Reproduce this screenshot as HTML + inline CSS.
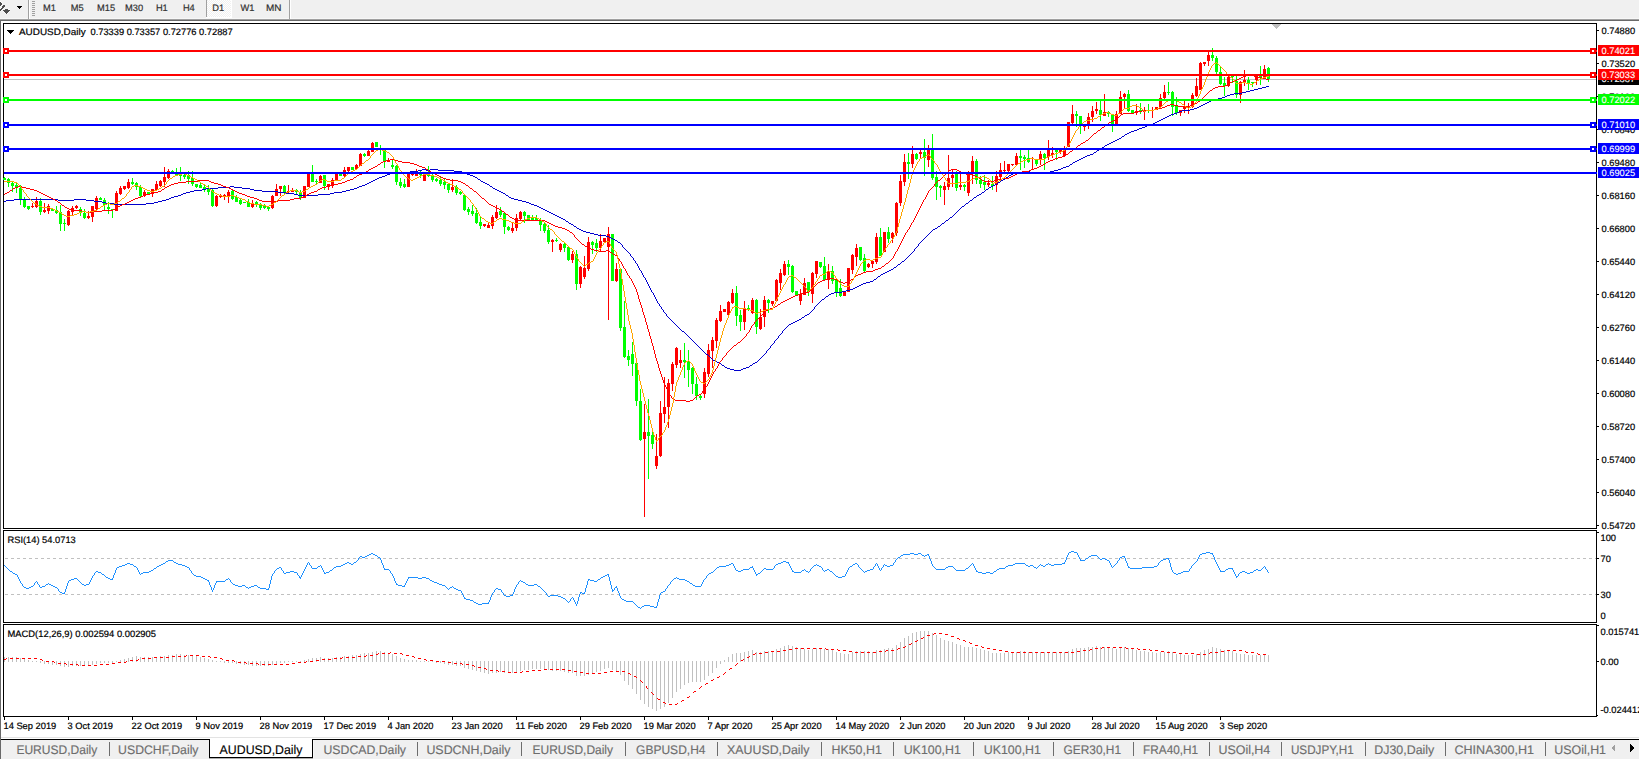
<!DOCTYPE html>
<html><head><meta charset="utf-8"><title>AUDUSD,Daily</title>
<style>html,body{margin:0;padding:0;background:#fff;overflow:hidden;}svg{display:block;}</style>
</head><body>
<svg width="1639" height="759" viewBox="0 0 1639 759" font-family="'Liberation Sans', Arial, sans-serif" shape-rendering="crispEdges" text-rendering="geometricPrecision"><rect x="0" y="0" width="1639" height="759" fill="#ffffff"/>
<rect x="0" y="0" width="1639" height="18" fill="#f0f0f0"/>
<rect x="0" y="18" width="1639" height="1" fill="#f7f7f7"/>
<rect x="0" y="19" width="1639" height="1" fill="#a0a0a0"/>
<rect x="0" y="20" width="1639" height="1" fill="#696969"/>
<rect x="0" y="20" width="1" height="717" fill="#696969"/>
<rect x="3" y="23" width="1594" height="1" fill="#000"/>
<rect x="3" y="528" width="1594" height="1" fill="#000"/>
<rect x="3" y="23" width="1" height="506" fill="#000"/>
<rect x="1596" y="23" width="1" height="506" fill="#000"/>
<rect x="3" y="530" width="1594" height="1" fill="#000"/>
<rect x="3" y="622" width="1594" height="1" fill="#000"/>
<rect x="3" y="530" width="1" height="93" fill="#000"/>
<rect x="1596" y="530" width="1" height="93" fill="#000"/>
<rect x="3" y="624" width="1594" height="1" fill="#000"/>
<rect x="3" y="716" width="1594" height="1" fill="#000"/>
<rect x="3" y="624" width="1" height="93" fill="#000"/>
<rect x="1596" y="624" width="1" height="93" fill="#000"/>
<rect x="1272" y="24" width="9" height="1" fill="#c0c0c0"/>
<rect x="1273" y="25" width="7" height="1" fill="#c0c0c0"/>
<rect x="1274" y="26" width="5" height="1" fill="#c0c0c0"/>
<rect x="1275" y="27" width="3" height="1" fill="#c0c0c0"/>
<rect x="1276" y="28" width="1" height="1" fill="#c0c0c0"/>
<rect x="4" y="79" width="1592" height="1" fill="#c0c0c0"/>
<g shape-rendering="crispEdges">
<rect x="4" y="177" width="1" height="3" fill="#00ff00"/>
<rect x="3" y="178" width="3" height="2" fill="#00ff00"/>
<rect x="8" y="178" width="1" height="9" fill="#00ff00"/>
<rect x="7" y="179" width="3" height="4" fill="#00ff00"/>
<rect x="12" y="182" width="1" height="10" fill="#00ff00"/>
<rect x="11" y="183" width="3" height="3" fill="#00ff00"/>
<rect x="16" y="183" width="1" height="10" fill="#00ff00"/>
<rect x="15" y="185" width="3" height="3" fill="#00ff00"/>
<rect x="20" y="185" width="1" height="20" fill="#00ff00"/>
<rect x="19" y="188" width="3" height="12" fill="#00ff00"/>
<rect x="24" y="197" width="1" height="11" fill="#00ff00"/>
<rect x="23" y="200" width="3" height="7" fill="#00ff00"/>
<rect x="28" y="206" width="1" height="4" fill="#00ff00"/>
<rect x="27" y="206" width="3" height="3" fill="#00ff00"/>
<rect x="32" y="203" width="1" height="5" fill="#ff0000"/>
<rect x="31" y="206" width="3" height="1" fill="#ff0000"/>
<rect x="36" y="197" width="1" height="11" fill="#ff0000"/>
<rect x="35" y="201" width="3" height="6" fill="#ff0000"/>
<rect x="40" y="198" width="1" height="17" fill="#00ff00"/>
<rect x="39" y="201" width="3" height="11" fill="#00ff00"/>
<rect x="44" y="203" width="1" height="10" fill="#ff0000"/>
<rect x="43" y="210" width="3" height="2" fill="#ff0000"/>
<rect x="48" y="204" width="1" height="10" fill="#ff0000"/>
<rect x="47" y="206" width="3" height="5" fill="#ff0000"/>
<rect x="52" y="209" width="1" height="2" fill="#00ff00"/>
<rect x="51" y="209" width="3" height="2" fill="#00ff00"/>
<rect x="56" y="206" width="1" height="8" fill="#00ff00"/>
<rect x="55" y="210" width="3" height="3" fill="#00ff00"/>
<rect x="60" y="205" width="1" height="26" fill="#00ff00"/>
<rect x="59" y="212" width="3" height="12" fill="#00ff00"/>
<rect x="64" y="219" width="1" height="12" fill="#00ff00"/>
<rect x="63" y="223" width="3" height="1" fill="#00ff00"/>
<rect x="68" y="210" width="1" height="16" fill="#ff0000"/>
<rect x="67" y="211" width="3" height="14" fill="#ff0000"/>
<rect x="72" y="206" width="1" height="9" fill="#ff0000"/>
<rect x="71" y="208" width="3" height="4" fill="#ff0000"/>
<rect x="76" y="205" width="1" height="4" fill="#ff0000"/>
<rect x="75" y="206" width="3" height="2" fill="#ff0000"/>
<rect x="80" y="207" width="1" height="9" fill="#00ff00"/>
<rect x="79" y="209" width="3" height="4" fill="#00ff00"/>
<rect x="84" y="209" width="1" height="10" fill="#00ff00"/>
<rect x="83" y="213" width="3" height="5" fill="#00ff00"/>
<rect x="88" y="211" width="1" height="8" fill="#ff0000"/>
<rect x="87" y="216" width="3" height="2" fill="#ff0000"/>
<rect x="92" y="206" width="1" height="16" fill="#ff0000"/>
<rect x="91" y="206" width="3" height="11" fill="#ff0000"/>
<rect x="96" y="196" width="1" height="14" fill="#ff0000"/>
<rect x="95" y="198" width="3" height="11" fill="#ff0000"/>
<rect x="100" y="197" width="1" height="3" fill="#00ff00"/>
<rect x="99" y="198" width="3" height="2" fill="#00ff00"/>
<rect x="104" y="198" width="1" height="13" fill="#00ff00"/>
<rect x="103" y="200" width="3" height="5" fill="#00ff00"/>
<rect x="108" y="202" width="1" height="12" fill="#00ff00"/>
<rect x="107" y="207" width="3" height="2" fill="#00ff00"/>
<rect x="112" y="209" width="1" height="9" fill="#00ff00"/>
<rect x="111" y="209" width="3" height="1" fill="#00ff00"/>
<rect x="116" y="191" width="1" height="20" fill="#ff0000"/>
<rect x="115" y="193" width="3" height="18" fill="#ff0000"/>
<rect x="120" y="186" width="1" height="9" fill="#ff0000"/>
<rect x="119" y="188" width="3" height="6" fill="#ff0000"/>
<rect x="124" y="186" width="1" height="4" fill="#ff0000"/>
<rect x="123" y="186" width="3" height="3" fill="#ff0000"/>
<rect x="128" y="179" width="1" height="10" fill="#ff0000"/>
<rect x="127" y="182" width="3" height="6" fill="#ff0000"/>
<rect x="132" y="178" width="1" height="7" fill="#00ff00"/>
<rect x="131" y="182" width="3" height="2" fill="#00ff00"/>
<rect x="136" y="182" width="1" height="8" fill="#00ff00"/>
<rect x="135" y="183" width="3" height="4" fill="#00ff00"/>
<rect x="140" y="185" width="1" height="12" fill="#00ff00"/>
<rect x="139" y="187" width="3" height="9" fill="#00ff00"/>
<rect x="144" y="190" width="1" height="7" fill="#ff0000"/>
<rect x="143" y="192" width="3" height="3" fill="#ff0000"/>
<rect x="148" y="192" width="1" height="2" fill="#00ff00"/>
<rect x="147" y="192" width="3" height="2" fill="#00ff00"/>
<rect x="152" y="189" width="1" height="8" fill="#ff0000"/>
<rect x="151" y="189" width="3" height="4" fill="#ff0000"/>
<rect x="156" y="181" width="1" height="9" fill="#ff0000"/>
<rect x="155" y="184" width="3" height="6" fill="#ff0000"/>
<rect x="160" y="180" width="1" height="7" fill="#ff0000"/>
<rect x="159" y="181" width="3" height="5" fill="#ff0000"/>
<rect x="164" y="167" width="1" height="20" fill="#ff0000"/>
<rect x="163" y="177" width="3" height="5" fill="#ff0000"/>
<rect x="168" y="169" width="1" height="10" fill="#ff0000"/>
<rect x="167" y="171" width="3" height="7" fill="#ff0000"/>
<rect x="172" y="170" width="1" height="3" fill="#00ff00"/>
<rect x="171" y="171" width="3" height="1" fill="#00ff00"/>
<rect x="176" y="168" width="1" height="7" fill="#00ff00"/>
<rect x="175" y="172" width="3" height="3" fill="#00ff00"/>
<rect x="180" y="167" width="1" height="14" fill="#00ff00"/>
<rect x="179" y="174" width="3" height="2" fill="#00ff00"/>
<rect x="184" y="174" width="1" height="5" fill="#00ff00"/>
<rect x="183" y="175" width="3" height="2" fill="#00ff00"/>
<rect x="188" y="171" width="1" height="13" fill="#00ff00"/>
<rect x="187" y="175" width="3" height="4" fill="#00ff00"/>
<rect x="192" y="171" width="1" height="15" fill="#00ff00"/>
<rect x="191" y="178" width="3" height="6" fill="#00ff00"/>
<rect x="196" y="184" width="1" height="4" fill="#00ff00"/>
<rect x="195" y="184" width="3" height="3" fill="#00ff00"/>
<rect x="200" y="183" width="1" height="5" fill="#00ff00"/>
<rect x="199" y="185" width="3" height="3" fill="#00ff00"/>
<rect x="204" y="184" width="1" height="8" fill="#00ff00"/>
<rect x="203" y="187" width="3" height="2" fill="#00ff00"/>
<rect x="208" y="185" width="1" height="10" fill="#00ff00"/>
<rect x="207" y="189" width="3" height="3" fill="#00ff00"/>
<rect x="212" y="189" width="1" height="18" fill="#00ff00"/>
<rect x="211" y="190" width="3" height="16" fill="#00ff00"/>
<rect x="216" y="195" width="1" height="12" fill="#ff0000"/>
<rect x="215" y="196" width="3" height="10" fill="#ff0000"/>
<rect x="220" y="194" width="1" height="4" fill="#ff0000"/>
<rect x="219" y="195" width="3" height="2" fill="#ff0000"/>
<rect x="224" y="194" width="1" height="6" fill="#ff0000"/>
<rect x="223" y="195" width="3" height="1" fill="#ff0000"/>
<rect x="228" y="190" width="1" height="13" fill="#ff0000"/>
<rect x="227" y="192" width="3" height="4" fill="#ff0000"/>
<rect x="232" y="190" width="1" height="10" fill="#00ff00"/>
<rect x="231" y="191" width="3" height="8" fill="#00ff00"/>
<rect x="236" y="195" width="1" height="7" fill="#00ff00"/>
<rect x="235" y="197" width="3" height="5" fill="#00ff00"/>
<rect x="240" y="199" width="1" height="6" fill="#00ff00"/>
<rect x="239" y="200" width="3" height="4" fill="#00ff00"/>
<rect x="244" y="202" width="1" height="1" fill="#00ff00"/>
<rect x="243" y="202" width="3" height="1" fill="#00ff00"/>
<rect x="248" y="199" width="1" height="8" fill="#00ff00"/>
<rect x="247" y="202" width="3" height="5" fill="#00ff00"/>
<rect x="252" y="200" width="1" height="8" fill="#ff0000"/>
<rect x="251" y="204" width="3" height="3" fill="#ff0000"/>
<rect x="256" y="201" width="1" height="6" fill="#00ff00"/>
<rect x="255" y="202" width="3" height="2" fill="#00ff00"/>
<rect x="260" y="203" width="1" height="7" fill="#00ff00"/>
<rect x="259" y="204" width="3" height="4" fill="#00ff00"/>
<rect x="264" y="204" width="1" height="5" fill="#00ff00"/>
<rect x="263" y="206" width="3" height="2" fill="#00ff00"/>
<rect x="268" y="207" width="1" height="4" fill="#00ff00"/>
<rect x="267" y="207" width="3" height="2" fill="#00ff00"/>
<rect x="272" y="195" width="1" height="14" fill="#ff0000"/>
<rect x="271" y="196" width="3" height="12" fill="#ff0000"/>
<rect x="276" y="184" width="1" height="12" fill="#ff0000"/>
<rect x="275" y="189" width="3" height="7" fill="#ff0000"/>
<rect x="280" y="186" width="1" height="10" fill="#ff0000"/>
<rect x="279" y="186" width="3" height="3" fill="#ff0000"/>
<rect x="284" y="185" width="1" height="9" fill="#00ff00"/>
<rect x="283" y="186" width="3" height="7" fill="#00ff00"/>
<rect x="288" y="185" width="1" height="8" fill="#ff0000"/>
<rect x="287" y="191" width="3" height="1" fill="#ff0000"/>
<rect x="292" y="188" width="1" height="4" fill="#ff0000"/>
<rect x="291" y="190" width="3" height="2" fill="#ff0000"/>
<rect x="296" y="189" width="1" height="5" fill="#00ff00"/>
<rect x="295" y="190" width="3" height="2" fill="#00ff00"/>
<rect x="300" y="190" width="1" height="10" fill="#00ff00"/>
<rect x="299" y="192" width="3" height="6" fill="#00ff00"/>
<rect x="304" y="186" width="1" height="12" fill="#ff0000"/>
<rect x="303" y="186" width="3" height="12" fill="#ff0000"/>
<rect x="308" y="174" width="1" height="13" fill="#ff0000"/>
<rect x="307" y="174" width="3" height="13" fill="#ff0000"/>
<rect x="312" y="165" width="1" height="17" fill="#00ff00"/>
<rect x="311" y="174" width="3" height="8" fill="#00ff00"/>
<rect x="316" y="179" width="1" height="5" fill="#00ff00"/>
<rect x="315" y="181" width="3" height="1" fill="#00ff00"/>
<rect x="320" y="175" width="1" height="8" fill="#ff0000"/>
<rect x="319" y="176" width="3" height="7" fill="#ff0000"/>
<rect x="324" y="175" width="1" height="15" fill="#00ff00"/>
<rect x="323" y="175" width="3" height="11" fill="#00ff00"/>
<rect x="328" y="184" width="1" height="6" fill="#ff0000"/>
<rect x="327" y="184" width="3" height="2" fill="#ff0000"/>
<rect x="332" y="178" width="1" height="10" fill="#ff0000"/>
<rect x="331" y="180" width="3" height="6" fill="#ff0000"/>
<rect x="336" y="174" width="1" height="6" fill="#ff0000"/>
<rect x="335" y="174" width="3" height="6" fill="#ff0000"/>
<rect x="340" y="174" width="1" height="2" fill="#00ff00"/>
<rect x="339" y="174" width="3" height="2" fill="#00ff00"/>
<rect x="344" y="167" width="1" height="10" fill="#ff0000"/>
<rect x="343" y="170" width="3" height="6" fill="#ff0000"/>
<rect x="348" y="167" width="1" height="5" fill="#ff0000"/>
<rect x="347" y="167" width="3" height="4" fill="#ff0000"/>
<rect x="352" y="167" width="1" height="3" fill="#00ff00"/>
<rect x="351" y="167" width="3" height="3" fill="#00ff00"/>
<rect x="356" y="164" width="1" height="5" fill="#ff0000"/>
<rect x="355" y="165" width="3" height="4" fill="#ff0000"/>
<rect x="360" y="153" width="1" height="13" fill="#ff0000"/>
<rect x="359" y="154" width="3" height="12" fill="#ff0000"/>
<rect x="364" y="153" width="1" height="4" fill="#00ff00"/>
<rect x="363" y="154" width="3" height="2" fill="#00ff00"/>
<rect x="368" y="150" width="1" height="6" fill="#ff0000"/>
<rect x="367" y="151" width="3" height="5" fill="#ff0000"/>
<rect x="372" y="142" width="1" height="10" fill="#ff0000"/>
<rect x="371" y="143" width="3" height="9" fill="#ff0000"/>
<rect x="376" y="142" width="1" height="5" fill="#00ff00"/>
<rect x="375" y="142" width="3" height="5" fill="#00ff00"/>
<rect x="380" y="145" width="1" height="10" fill="#00ff00"/>
<rect x="379" y="148" width="3" height="2" fill="#00ff00"/>
<rect x="384" y="150" width="1" height="18" fill="#00ff00"/>
<rect x="383" y="150" width="3" height="11" fill="#00ff00"/>
<rect x="388" y="158" width="1" height="4" fill="#ff0000"/>
<rect x="387" y="160" width="3" height="2" fill="#ff0000"/>
<rect x="392" y="160" width="1" height="9" fill="#00ff00"/>
<rect x="391" y="165" width="3" height="2" fill="#00ff00"/>
<rect x="396" y="165" width="1" height="20" fill="#00ff00"/>
<rect x="395" y="166" width="3" height="16" fill="#00ff00"/>
<rect x="400" y="178" width="1" height="10" fill="#00ff00"/>
<rect x="399" y="182" width="3" height="4" fill="#00ff00"/>
<rect x="404" y="179" width="1" height="9" fill="#00ff00"/>
<rect x="403" y="184" width="3" height="3" fill="#00ff00"/>
<rect x="408" y="172" width="1" height="15" fill="#ff0000"/>
<rect x="407" y="173" width="3" height="14" fill="#ff0000"/>
<rect x="412" y="174" width="1" height="2" fill="#ff0000"/>
<rect x="411" y="174" width="3" height="1" fill="#ff0000"/>
<rect x="416" y="169" width="1" height="7" fill="#ff0000"/>
<rect x="415" y="174" width="3" height="2" fill="#ff0000"/>
<rect x="420" y="171" width="1" height="7" fill="#00ff00"/>
<rect x="419" y="174" width="3" height="1" fill="#00ff00"/>
<rect x="424" y="172" width="1" height="9" fill="#ff0000"/>
<rect x="423" y="173" width="3" height="8" fill="#ff0000"/>
<rect x="428" y="166" width="1" height="11" fill="#00ff00"/>
<rect x="427" y="173" width="3" height="3" fill="#00ff00"/>
<rect x="432" y="172" width="1" height="10" fill="#00ff00"/>
<rect x="431" y="175" width="3" height="5" fill="#00ff00"/>
<rect x="436" y="178" width="1" height="4" fill="#00ff00"/>
<rect x="435" y="179" width="3" height="2" fill="#00ff00"/>
<rect x="440" y="177" width="1" height="9" fill="#00ff00"/>
<rect x="439" y="180" width="3" height="4" fill="#00ff00"/>
<rect x="444" y="179" width="1" height="10" fill="#00ff00"/>
<rect x="443" y="182" width="3" height="3" fill="#00ff00"/>
<rect x="448" y="184" width="1" height="9" fill="#00ff00"/>
<rect x="447" y="184" width="3" height="6" fill="#00ff00"/>
<rect x="452" y="179" width="1" height="13" fill="#ff0000"/>
<rect x="451" y="187" width="3" height="3" fill="#ff0000"/>
<rect x="456" y="185" width="1" height="10" fill="#00ff00"/>
<rect x="455" y="187" width="3" height="6" fill="#00ff00"/>
<rect x="460" y="191" width="1" height="4" fill="#00ff00"/>
<rect x="459" y="192" width="3" height="2" fill="#00ff00"/>
<rect x="464" y="195" width="1" height="16" fill="#00ff00"/>
<rect x="463" y="195" width="3" height="15" fill="#00ff00"/>
<rect x="468" y="207" width="1" height="8" fill="#00ff00"/>
<rect x="467" y="209" width="3" height="3" fill="#00ff00"/>
<rect x="472" y="205" width="1" height="11" fill="#00ff00"/>
<rect x="471" y="211" width="3" height="3" fill="#00ff00"/>
<rect x="476" y="208" width="1" height="16" fill="#00ff00"/>
<rect x="475" y="213" width="3" height="10" fill="#00ff00"/>
<rect x="480" y="217" width="1" height="12" fill="#00ff00"/>
<rect x="479" y="222" width="3" height="4" fill="#00ff00"/>
<rect x="484" y="224" width="1" height="3" fill="#ff0000"/>
<rect x="483" y="224" width="3" height="2" fill="#ff0000"/>
<rect x="488" y="223" width="1" height="5" fill="#ff0000"/>
<rect x="487" y="225" width="3" height="3" fill="#ff0000"/>
<rect x="492" y="215" width="1" height="14" fill="#ff0000"/>
<rect x="491" y="217" width="3" height="9" fill="#ff0000"/>
<rect x="496" y="205" width="1" height="14" fill="#ff0000"/>
<rect x="495" y="212" width="3" height="6" fill="#ff0000"/>
<rect x="500" y="207" width="1" height="10" fill="#00ff00"/>
<rect x="499" y="211" width="3" height="4" fill="#00ff00"/>
<rect x="504" y="213" width="1" height="21" fill="#00ff00"/>
<rect x="503" y="213" width="3" height="14" fill="#00ff00"/>
<rect x="508" y="226" width="1" height="5" fill="#00ff00"/>
<rect x="507" y="227" width="3" height="3" fill="#00ff00"/>
<rect x="512" y="223" width="1" height="10" fill="#ff0000"/>
<rect x="511" y="228" width="3" height="3" fill="#ff0000"/>
<rect x="516" y="214" width="1" height="17" fill="#ff0000"/>
<rect x="515" y="218" width="3" height="10" fill="#ff0000"/>
<rect x="520" y="211" width="1" height="10" fill="#ff0000"/>
<rect x="519" y="212" width="3" height="7" fill="#ff0000"/>
<rect x="524" y="211" width="1" height="12" fill="#00ff00"/>
<rect x="523" y="212" width="3" height="4" fill="#00ff00"/>
<rect x="528" y="215" width="1" height="6" fill="#00ff00"/>
<rect x="527" y="215" width="3" height="5" fill="#00ff00"/>
<rect x="532" y="215" width="1" height="6" fill="#00ff00"/>
<rect x="531" y="218" width="3" height="3" fill="#00ff00"/>
<rect x="536" y="215" width="1" height="5" fill="#00ff00"/>
<rect x="535" y="218" width="3" height="2" fill="#00ff00"/>
<rect x="540" y="218" width="1" height="13" fill="#00ff00"/>
<rect x="539" y="221" width="3" height="4" fill="#00ff00"/>
<rect x="544" y="222" width="1" height="11" fill="#00ff00"/>
<rect x="543" y="224" width="3" height="7" fill="#00ff00"/>
<rect x="548" y="225" width="1" height="19" fill="#00ff00"/>
<rect x="547" y="230" width="3" height="12" fill="#00ff00"/>
<rect x="552" y="239" width="1" height="13" fill="#ff0000"/>
<rect x="551" y="240" width="3" height="2" fill="#ff0000"/>
<rect x="556" y="238" width="1" height="4" fill="#00ff00"/>
<rect x="555" y="240" width="3" height="1" fill="#00ff00"/>
<rect x="560" y="243" width="1" height="9" fill="#ff0000"/>
<rect x="559" y="244" width="3" height="6" fill="#ff0000"/>
<rect x="564" y="243" width="1" height="9" fill="#00ff00"/>
<rect x="563" y="244" width="3" height="4" fill="#00ff00"/>
<rect x="568" y="247" width="1" height="14" fill="#00ff00"/>
<rect x="567" y="247" width="3" height="13" fill="#00ff00"/>
<rect x="572" y="251" width="1" height="12" fill="#ff0000"/>
<rect x="571" y="254" width="3" height="6" fill="#ff0000"/>
<rect x="576" y="250" width="1" height="40" fill="#00ff00"/>
<rect x="575" y="254" width="3" height="30" fill="#00ff00"/>
<rect x="580" y="266" width="1" height="22" fill="#ff0000"/>
<rect x="579" y="267" width="3" height="17" fill="#ff0000"/>
<rect x="584" y="256" width="1" height="23" fill="#ff0000"/>
<rect x="583" y="268" width="3" height="9" fill="#ff0000"/>
<rect x="588" y="237" width="1" height="34" fill="#ff0000"/>
<rect x="587" y="242" width="3" height="27" fill="#ff0000"/>
<rect x="592" y="241" width="1" height="13" fill="#00ff00"/>
<rect x="591" y="242" width="3" height="3" fill="#00ff00"/>
<rect x="596" y="239" width="1" height="13" fill="#00ff00"/>
<rect x="595" y="243" width="3" height="5" fill="#00ff00"/>
<rect x="600" y="234" width="1" height="18" fill="#ff0000"/>
<rect x="599" y="241" width="3" height="7" fill="#ff0000"/>
<rect x="604" y="238" width="1" height="4" fill="#ff0000"/>
<rect x="603" y="238" width="3" height="4" fill="#ff0000"/>
<rect x="608" y="227" width="1" height="93" fill="#ff0000"/>
<rect x="607" y="234" width="3" height="13" fill="#ff0000"/>
<rect x="612" y="234" width="1" height="47" fill="#00ff00"/>
<rect x="611" y="234" width="3" height="47" fill="#00ff00"/>
<rect x="616" y="263" width="1" height="19" fill="#ff0000"/>
<rect x="615" y="269" width="3" height="12" fill="#ff0000"/>
<rect x="620" y="268" width="1" height="63" fill="#00ff00"/>
<rect x="619" y="269" width="3" height="59" fill="#00ff00"/>
<rect x="624" y="301" width="1" height="57" fill="#00ff00"/>
<rect x="623" y="327" width="3" height="30" fill="#00ff00"/>
<rect x="628" y="350" width="1" height="16" fill="#00ff00"/>
<rect x="627" y="356" width="3" height="4" fill="#00ff00"/>
<rect x="632" y="342" width="1" height="34" fill="#00ff00"/>
<rect x="631" y="354" width="3" height="10" fill="#00ff00"/>
<rect x="636" y="363" width="1" height="43" fill="#00ff00"/>
<rect x="635" y="363" width="3" height="38" fill="#00ff00"/>
<rect x="640" y="389" width="1" height="52" fill="#00ff00"/>
<rect x="639" y="401" width="3" height="39" fill="#00ff00"/>
<rect x="644" y="404" width="1" height="113" fill="#ff0000"/>
<rect x="643" y="432" width="3" height="7" fill="#ff0000"/>
<rect x="648" y="399" width="1" height="80" fill="#00ff00"/>
<rect x="647" y="432" width="3" height="4" fill="#00ff00"/>
<rect x="652" y="432" width="1" height="17" fill="#00ff00"/>
<rect x="651" y="435" width="3" height="9" fill="#00ff00"/>
<rect x="656" y="434" width="1" height="35" fill="#ff0000"/>
<rect x="655" y="456" width="3" height="10" fill="#ff0000"/>
<rect x="660" y="401" width="1" height="56" fill="#ff0000"/>
<rect x="659" y="413" width="3" height="43" fill="#ff0000"/>
<rect x="664" y="377" width="1" height="46" fill="#ff0000"/>
<rect x="663" y="407" width="3" height="7" fill="#ff0000"/>
<rect x="668" y="379" width="1" height="49" fill="#ff0000"/>
<rect x="667" y="383" width="3" height="24" fill="#ff0000"/>
<rect x="672" y="362" width="1" height="29" fill="#ff0000"/>
<rect x="671" y="364" width="3" height="20" fill="#ff0000"/>
<rect x="676" y="347" width="1" height="21" fill="#ff0000"/>
<rect x="675" y="348" width="3" height="17" fill="#ff0000"/>
<rect x="680" y="350" width="1" height="18" fill="#ff0000"/>
<rect x="679" y="360" width="3" height="3" fill="#ff0000"/>
<rect x="684" y="343" width="1" height="35" fill="#00ff00"/>
<rect x="683" y="360" width="3" height="2" fill="#00ff00"/>
<rect x="688" y="350" width="1" height="37" fill="#00ff00"/>
<rect x="687" y="362" width="3" height="8" fill="#00ff00"/>
<rect x="692" y="367" width="1" height="27" fill="#00ff00"/>
<rect x="691" y="368" width="3" height="16" fill="#00ff00"/>
<rect x="696" y="377" width="1" height="23" fill="#00ff00"/>
<rect x="695" y="384" width="3" height="12" fill="#00ff00"/>
<rect x="700" y="394" width="1" height="6" fill="#00ff00"/>
<rect x="699" y="396" width="3" height="2" fill="#00ff00"/>
<rect x="704" y="368" width="1" height="30" fill="#ff0000"/>
<rect x="703" y="372" width="3" height="22" fill="#ff0000"/>
<rect x="708" y="344" width="1" height="33" fill="#ff0000"/>
<rect x="707" y="350" width="3" height="24" fill="#ff0000"/>
<rect x="712" y="337" width="1" height="31" fill="#ff0000"/>
<rect x="711" y="340" width="3" height="11" fill="#ff0000"/>
<rect x="716" y="318" width="1" height="30" fill="#ff0000"/>
<rect x="715" y="320" width="3" height="21" fill="#ff0000"/>
<rect x="720" y="305" width="1" height="17" fill="#ff0000"/>
<rect x="719" y="311" width="3" height="10" fill="#ff0000"/>
<rect x="724" y="309" width="1" height="3" fill="#ff0000"/>
<rect x="723" y="309" width="3" height="3" fill="#ff0000"/>
<rect x="728" y="301" width="1" height="14" fill="#ff0000"/>
<rect x="727" y="302" width="3" height="13" fill="#ff0000"/>
<rect x="732" y="289" width="1" height="15" fill="#ff0000"/>
<rect x="731" y="293" width="3" height="10" fill="#ff0000"/>
<rect x="736" y="286" width="1" height="40" fill="#00ff00"/>
<rect x="735" y="293" width="3" height="23" fill="#00ff00"/>
<rect x="740" y="310" width="1" height="21" fill="#00ff00"/>
<rect x="739" y="315" width="3" height="7" fill="#00ff00"/>
<rect x="744" y="301" width="1" height="29" fill="#ff0000"/>
<rect x="743" y="309" width="3" height="13" fill="#ff0000"/>
<rect x="748" y="305" width="1" height="6" fill="#00ff00"/>
<rect x="747" y="308" width="3" height="2" fill="#00ff00"/>
<rect x="752" y="298" width="1" height="16" fill="#ff0000"/>
<rect x="751" y="300" width="3" height="13" fill="#ff0000"/>
<rect x="756" y="299" width="1" height="35" fill="#00ff00"/>
<rect x="755" y="300" width="3" height="27" fill="#00ff00"/>
<rect x="760" y="309" width="1" height="21" fill="#ff0000"/>
<rect x="759" y="317" width="3" height="12" fill="#ff0000"/>
<rect x="764" y="296" width="1" height="31" fill="#ff0000"/>
<rect x="763" y="300" width="3" height="17" fill="#ff0000"/>
<rect x="768" y="299" width="1" height="14" fill="#00ff00"/>
<rect x="767" y="300" width="3" height="3" fill="#00ff00"/>
<rect x="772" y="301" width="1" height="5" fill="#ff0000"/>
<rect x="771" y="301" width="3" height="3" fill="#ff0000"/>
<rect x="776" y="279" width="1" height="22" fill="#ff0000"/>
<rect x="775" y="280" width="3" height="21" fill="#ff0000"/>
<rect x="780" y="269" width="1" height="21" fill="#ff0000"/>
<rect x="779" y="273" width="3" height="10" fill="#ff0000"/>
<rect x="784" y="261" width="1" height="15" fill="#ff0000"/>
<rect x="783" y="264" width="3" height="11" fill="#ff0000"/>
<rect x="788" y="260" width="1" height="15" fill="#00ff00"/>
<rect x="787" y="264" width="3" height="3" fill="#00ff00"/>
<rect x="792" y="265" width="1" height="28" fill="#00ff00"/>
<rect x="791" y="266" width="3" height="26" fill="#00ff00"/>
<rect x="796" y="291" width="1" height="4" fill="#00ff00"/>
<rect x="795" y="291" width="3" height="4" fill="#00ff00"/>
<rect x="800" y="289" width="1" height="16" fill="#ff0000"/>
<rect x="799" y="294" width="3" height="7" fill="#ff0000"/>
<rect x="804" y="278" width="1" height="17" fill="#ff0000"/>
<rect x="803" y="283" width="3" height="12" fill="#ff0000"/>
<rect x="808" y="282" width="1" height="14" fill="#00ff00"/>
<rect x="807" y="282" width="3" height="10" fill="#00ff00"/>
<rect x="812" y="272" width="1" height="31" fill="#ff0000"/>
<rect x="811" y="273" width="3" height="21" fill="#ff0000"/>
<rect x="816" y="261" width="1" height="17" fill="#ff0000"/>
<rect x="815" y="261" width="3" height="13" fill="#ff0000"/>
<rect x="820" y="262" width="1" height="6" fill="#00ff00"/>
<rect x="819" y="262" width="3" height="5" fill="#00ff00"/>
<rect x="824" y="257" width="1" height="24" fill="#00ff00"/>
<rect x="823" y="266" width="3" height="14" fill="#00ff00"/>
<rect x="828" y="264" width="1" height="25" fill="#ff0000"/>
<rect x="827" y="271" width="3" height="9" fill="#ff0000"/>
<rect x="832" y="266" width="1" height="18" fill="#00ff00"/>
<rect x="831" y="271" width="3" height="10" fill="#00ff00"/>
<rect x="836" y="279" width="1" height="18" fill="#00ff00"/>
<rect x="835" y="280" width="3" height="12" fill="#00ff00"/>
<rect x="840" y="279" width="1" height="18" fill="#00ff00"/>
<rect x="839" y="288" width="3" height="8" fill="#00ff00"/>
<rect x="844" y="292" width="1" height="4" fill="#ff0000"/>
<rect x="843" y="292" width="3" height="4" fill="#ff0000"/>
<rect x="848" y="268" width="1" height="24" fill="#ff0000"/>
<rect x="847" y="268" width="3" height="24" fill="#ff0000"/>
<rect x="852" y="254" width="1" height="20" fill="#ff0000"/>
<rect x="851" y="255" width="3" height="15" fill="#ff0000"/>
<rect x="856" y="244" width="1" height="22" fill="#ff0000"/>
<rect x="855" y="248" width="3" height="9" fill="#ff0000"/>
<rect x="860" y="247" width="1" height="14" fill="#00ff00"/>
<rect x="859" y="247" width="3" height="13" fill="#00ff00"/>
<rect x="864" y="254" width="1" height="18" fill="#00ff00"/>
<rect x="863" y="258" width="3" height="13" fill="#00ff00"/>
<rect x="868" y="263" width="1" height="5" fill="#ff0000"/>
<rect x="867" y="264" width="3" height="3" fill="#ff0000"/>
<rect x="872" y="260" width="1" height="8" fill="#ff0000"/>
<rect x="871" y="261" width="3" height="3" fill="#ff0000"/>
<rect x="876" y="233" width="1" height="31" fill="#ff0000"/>
<rect x="875" y="237" width="3" height="25" fill="#ff0000"/>
<rect x="880" y="228" width="1" height="28" fill="#00ff00"/>
<rect x="879" y="237" width="3" height="19" fill="#00ff00"/>
<rect x="884" y="232" width="1" height="20" fill="#ff0000"/>
<rect x="883" y="232" width="3" height="20" fill="#ff0000"/>
<rect x="888" y="227" width="1" height="16" fill="#00ff00"/>
<rect x="887" y="232" width="3" height="7" fill="#00ff00"/>
<rect x="892" y="232" width="1" height="11" fill="#ff0000"/>
<rect x="891" y="233" width="3" height="5" fill="#ff0000"/>
<rect x="896" y="202" width="1" height="34" fill="#ff0000"/>
<rect x="895" y="203" width="3" height="30" fill="#ff0000"/>
<rect x="900" y="175" width="1" height="31" fill="#ff0000"/>
<rect x="899" y="181" width="3" height="22" fill="#ff0000"/>
<rect x="904" y="154" width="1" height="32" fill="#ff0000"/>
<rect x="903" y="162" width="3" height="20" fill="#ff0000"/>
<rect x="908" y="153" width="1" height="26" fill="#00ff00"/>
<rect x="907" y="162" width="3" height="2" fill="#00ff00"/>
<rect x="912" y="146" width="1" height="22" fill="#ff0000"/>
<rect x="911" y="154" width="3" height="10" fill="#ff0000"/>
<rect x="916" y="153" width="1" height="7" fill="#00ff00"/>
<rect x="915" y="154" width="3" height="5" fill="#00ff00"/>
<rect x="920" y="150" width="1" height="8" fill="#ff0000"/>
<rect x="919" y="152" width="3" height="2" fill="#ff0000"/>
<rect x="924" y="139" width="1" height="37" fill="#00ff00"/>
<rect x="923" y="152" width="3" height="6" fill="#00ff00"/>
<rect x="928" y="145" width="1" height="22" fill="#ff0000"/>
<rect x="927" y="150" width="3" height="10" fill="#ff0000"/>
<rect x="932" y="134" width="1" height="46" fill="#00ff00"/>
<rect x="931" y="150" width="3" height="28" fill="#00ff00"/>
<rect x="936" y="171" width="1" height="29" fill="#00ff00"/>
<rect x="935" y="177" width="3" height="10" fill="#00ff00"/>
<rect x="940" y="185" width="1" height="12" fill="#00ff00"/>
<rect x="939" y="186" width="3" height="2" fill="#00ff00"/>
<rect x="944" y="182" width="1" height="23" fill="#ff0000"/>
<rect x="943" y="186" width="3" height="4" fill="#ff0000"/>
<rect x="948" y="155" width="1" height="35" fill="#ff0000"/>
<rect x="947" y="178" width="3" height="9" fill="#ff0000"/>
<rect x="952" y="169" width="1" height="18" fill="#ff0000"/>
<rect x="951" y="175" width="3" height="3" fill="#ff0000"/>
<rect x="956" y="171" width="1" height="20" fill="#00ff00"/>
<rect x="955" y="174" width="3" height="14" fill="#00ff00"/>
<rect x="960" y="171" width="1" height="19" fill="#ff0000"/>
<rect x="959" y="185" width="3" height="2" fill="#ff0000"/>
<rect x="964" y="184" width="1" height="7" fill="#00ff00"/>
<rect x="963" y="185" width="3" height="2" fill="#00ff00"/>
<rect x="968" y="171" width="1" height="25" fill="#ff0000"/>
<rect x="967" y="174" width="3" height="19" fill="#ff0000"/>
<rect x="972" y="156" width="1" height="28" fill="#ff0000"/>
<rect x="971" y="161" width="3" height="13" fill="#ff0000"/>
<rect x="976" y="159" width="1" height="25" fill="#00ff00"/>
<rect x="975" y="161" width="3" height="19" fill="#00ff00"/>
<rect x="980" y="176" width="1" height="12" fill="#00ff00"/>
<rect x="979" y="180" width="3" height="4" fill="#00ff00"/>
<rect x="984" y="175" width="1" height="15" fill="#00ff00"/>
<rect x="983" y="182" width="3" height="3" fill="#00ff00"/>
<rect x="988" y="180" width="1" height="7" fill="#ff0000"/>
<rect x="987" y="183" width="3" height="2" fill="#ff0000"/>
<rect x="992" y="176" width="1" height="14" fill="#00ff00"/>
<rect x="991" y="184" width="3" height="2" fill="#00ff00"/>
<rect x="996" y="171" width="1" height="21" fill="#ff0000"/>
<rect x="995" y="176" width="3" height="9" fill="#ff0000"/>
<rect x="1000" y="163" width="1" height="16" fill="#ff0000"/>
<rect x="999" y="170" width="3" height="7" fill="#ff0000"/>
<rect x="1004" y="161" width="1" height="13" fill="#ff0000"/>
<rect x="1003" y="170" width="3" height="1" fill="#ff0000"/>
<rect x="1008" y="164" width="1" height="8" fill="#ff0000"/>
<rect x="1007" y="164" width="3" height="7" fill="#ff0000"/>
<rect x="1012" y="164" width="1" height="2" fill="#ff0000"/>
<rect x="1011" y="164" width="3" height="1" fill="#ff0000"/>
<rect x="1016" y="153" width="1" height="12" fill="#ff0000"/>
<rect x="1015" y="156" width="3" height="9" fill="#ff0000"/>
<rect x="1020" y="150" width="1" height="20" fill="#00ff00"/>
<rect x="1019" y="156" width="3" height="2" fill="#00ff00"/>
<rect x="1024" y="155" width="1" height="13" fill="#00ff00"/>
<rect x="1023" y="157" width="3" height="2" fill="#00ff00"/>
<rect x="1028" y="150" width="1" height="13" fill="#00ff00"/>
<rect x="1027" y="158" width="3" height="4" fill="#00ff00"/>
<rect x="1032" y="157" width="1" height="12" fill="#ff0000"/>
<rect x="1031" y="158" width="3" height="1" fill="#ff0000"/>
<rect x="1036" y="160" width="1" height="6" fill="#00ff00"/>
<rect x="1035" y="160" width="3" height="4" fill="#00ff00"/>
<rect x="1040" y="151" width="1" height="14" fill="#ff0000"/>
<rect x="1039" y="154" width="3" height="5" fill="#ff0000"/>
<rect x="1044" y="153" width="1" height="17" fill="#00ff00"/>
<rect x="1043" y="154" width="3" height="4" fill="#00ff00"/>
<rect x="1048" y="140" width="1" height="20" fill="#ff0000"/>
<rect x="1047" y="150" width="3" height="7" fill="#ff0000"/>
<rect x="1052" y="147" width="1" height="11" fill="#ff0000"/>
<rect x="1051" y="153" width="3" height="2" fill="#ff0000"/>
<rect x="1056" y="150" width="1" height="10" fill="#00ff00"/>
<rect x="1055" y="150" width="3" height="2" fill="#00ff00"/>
<rect x="1060" y="150" width="1" height="4" fill="#ff0000"/>
<rect x="1059" y="150" width="3" height="2" fill="#ff0000"/>
<rect x="1064" y="146" width="1" height="10" fill="#ff0000"/>
<rect x="1063" y="148" width="3" height="8" fill="#ff0000"/>
<rect x="1068" y="122" width="1" height="25" fill="#ff0000"/>
<rect x="1067" y="122" width="3" height="25" fill="#ff0000"/>
<rect x="1072" y="105" width="1" height="19" fill="#ff0000"/>
<rect x="1071" y="114" width="3" height="9" fill="#ff0000"/>
<rect x="1076" y="111" width="1" height="16" fill="#00ff00"/>
<rect x="1075" y="114" width="3" height="2" fill="#00ff00"/>
<rect x="1080" y="116" width="1" height="18" fill="#00ff00"/>
<rect x="1079" y="116" width="3" height="10" fill="#00ff00"/>
<rect x="1084" y="126" width="1" height="5" fill="#ff0000"/>
<rect x="1083" y="126" width="3" height="1" fill="#ff0000"/>
<rect x="1088" y="113" width="1" height="16" fill="#ff0000"/>
<rect x="1087" y="117" width="3" height="9" fill="#ff0000"/>
<rect x="1092" y="106" width="1" height="16" fill="#ff0000"/>
<rect x="1091" y="111" width="3" height="6" fill="#ff0000"/>
<rect x="1096" y="102" width="1" height="12" fill="#ff0000"/>
<rect x="1095" y="109" width="3" height="2" fill="#ff0000"/>
<rect x="1100" y="101" width="1" height="20" fill="#00ff00"/>
<rect x="1099" y="110" width="3" height="5" fill="#00ff00"/>
<rect x="1104" y="94" width="1" height="22" fill="#ff0000"/>
<rect x="1103" y="112" width="3" height="4" fill="#ff0000"/>
<rect x="1108" y="111" width="1" height="6" fill="#00ff00"/>
<rect x="1107" y="112" width="3" height="2" fill="#00ff00"/>
<rect x="1112" y="114" width="1" height="18" fill="#00ff00"/>
<rect x="1111" y="115" width="3" height="9" fill="#00ff00"/>
<rect x="1116" y="111" width="1" height="13" fill="#ff0000"/>
<rect x="1115" y="114" width="3" height="10" fill="#ff0000"/>
<rect x="1120" y="91" width="1" height="23" fill="#ff0000"/>
<rect x="1119" y="97" width="3" height="17" fill="#ff0000"/>
<rect x="1124" y="93" width="1" height="15" fill="#ff0000"/>
<rect x="1123" y="94" width="3" height="3" fill="#ff0000"/>
<rect x="1128" y="90" width="1" height="22" fill="#00ff00"/>
<rect x="1127" y="94" width="3" height="17" fill="#00ff00"/>
<rect x="1132" y="110" width="1" height="4" fill="#00ff00"/>
<rect x="1131" y="110" width="3" height="3" fill="#00ff00"/>
<rect x="1136" y="104" width="1" height="11" fill="#ff0000"/>
<rect x="1135" y="111" width="3" height="2" fill="#ff0000"/>
<rect x="1140" y="103" width="1" height="11" fill="#00ff00"/>
<rect x="1139" y="110" width="3" height="2" fill="#00ff00"/>
<rect x="1144" y="107" width="1" height="13" fill="#ff0000"/>
<rect x="1143" y="110" width="3" height="2" fill="#ff0000"/>
<rect x="1148" y="104" width="1" height="9" fill="#00ff00"/>
<rect x="1147" y="110" width="3" height="1" fill="#00ff00"/>
<rect x="1152" y="107" width="1" height="11" fill="#ff0000"/>
<rect x="1151" y="110" width="3" height="1" fill="#ff0000"/>
<rect x="1156" y="107" width="1" height="3" fill="#ff0000"/>
<rect x="1155" y="107" width="3" height="3" fill="#ff0000"/>
<rect x="1160" y="94" width="1" height="14" fill="#ff0000"/>
<rect x="1159" y="98" width="3" height="9" fill="#ff0000"/>
<rect x="1164" y="85" width="1" height="14" fill="#ff0000"/>
<rect x="1163" y="92" width="3" height="6" fill="#ff0000"/>
<rect x="1168" y="82" width="1" height="13" fill="#00ff00"/>
<rect x="1167" y="92" width="3" height="1" fill="#00ff00"/>
<rect x="1172" y="91" width="1" height="25" fill="#00ff00"/>
<rect x="1171" y="92" width="3" height="15" fill="#00ff00"/>
<rect x="1176" y="97" width="1" height="18" fill="#00ff00"/>
<rect x="1175" y="105" width="3" height="8" fill="#00ff00"/>
<rect x="1180" y="110" width="1" height="6" fill="#ff0000"/>
<rect x="1179" y="110" width="3" height="3" fill="#ff0000"/>
<rect x="1184" y="101" width="1" height="12" fill="#ff0000"/>
<rect x="1183" y="106" width="3" height="3" fill="#ff0000"/>
<rect x="1188" y="103" width="1" height="11" fill="#ff0000"/>
<rect x="1187" y="106" width="3" height="1" fill="#ff0000"/>
<rect x="1192" y="93" width="1" height="15" fill="#ff0000"/>
<rect x="1191" y="95" width="3" height="12" fill="#ff0000"/>
<rect x="1196" y="78" width="1" height="19" fill="#ff0000"/>
<rect x="1195" y="86" width="3" height="10" fill="#ff0000"/>
<rect x="1200" y="62" width="1" height="28" fill="#ff0000"/>
<rect x="1199" y="63" width="3" height="27" fill="#ff0000"/>
<rect x="1204" y="62" width="1" height="4" fill="#ff0000"/>
<rect x="1203" y="62" width="3" height="2" fill="#ff0000"/>
<rect x="1208" y="52" width="1" height="14" fill="#ff0000"/>
<rect x="1207" y="55" width="3" height="6" fill="#ff0000"/>
<rect x="1212" y="48" width="1" height="13" fill="#00ff00"/>
<rect x="1211" y="55" width="3" height="3" fill="#00ff00"/>
<rect x="1216" y="56" width="1" height="20" fill="#00ff00"/>
<rect x="1215" y="58" width="3" height="14" fill="#00ff00"/>
<rect x="1220" y="67" width="1" height="18" fill="#00ff00"/>
<rect x="1219" y="72" width="3" height="12" fill="#00ff00"/>
<rect x="1224" y="77" width="1" height="19" fill="#00ff00"/>
<rect x="1223" y="83" width="3" height="3" fill="#00ff00"/>
<rect x="1228" y="76" width="1" height="11" fill="#ff0000"/>
<rect x="1227" y="77" width="3" height="9" fill="#ff0000"/>
<rect x="1232" y="76" width="1" height="7" fill="#00ff00"/>
<rect x="1231" y="76" width="3" height="1" fill="#00ff00"/>
<rect x="1236" y="76" width="1" height="22" fill="#00ff00"/>
<rect x="1235" y="81" width="3" height="14" fill="#00ff00"/>
<rect x="1240" y="81" width="1" height="22" fill="#ff0000"/>
<rect x="1239" y="82" width="3" height="13" fill="#ff0000"/>
<rect x="1244" y="70" width="1" height="16" fill="#ff0000"/>
<rect x="1243" y="80" width="3" height="3" fill="#ff0000"/>
<rect x="1248" y="77" width="1" height="13" fill="#00ff00"/>
<rect x="1247" y="80" width="3" height="4" fill="#00ff00"/>
<rect x="1252" y="82" width="1" height="5" fill="#00ff00"/>
<rect x="1251" y="82" width="3" height="1" fill="#00ff00"/>
<rect x="1256" y="75" width="1" height="10" fill="#ff0000"/>
<rect x="1255" y="76" width="3" height="4" fill="#ff0000"/>
<rect x="1260" y="66" width="1" height="19" fill="#00ff00"/>
<rect x="1259" y="76" width="3" height="1" fill="#00ff00"/>
<rect x="1264" y="65" width="1" height="14" fill="#ff0000"/>
<rect x="1263" y="69" width="3" height="8" fill="#ff0000"/>
<rect x="1268" y="67" width="1" height="15" fill="#00ff00"/>
<rect x="1267" y="68" width="3" height="11" fill="#00ff00"/>
</g>
<g clip-path="url(#cmain)">
<path d="M4 201h2v1h-2zM94 201h8v1h-8zM158 201h4v1h-4zM522 201h4v1h-4zM969 201h1v1h-1zM6 200h8v1h-8zM58 200h16v1h-16zM86 200h8v1h-8zM162 200h4v1h-4zM518 200h4v1h-4zM970 200h2v1h-2zM14 199h44v1h-44zM74 199h12v1h-12zM166 199h3v1h-3zM514 199h4v1h-4zM972 199h1v1h-1zM102 202h4v1h-4zM154 202h4v1h-4zM526 202h3v1h-3zM968 202h1v1h-1zM106 203h8v1h-8zM146 203h8v1h-8zM529 203h2v1h-2zM966 203h2v1h-2zM114 204h32v1h-32zM531 204h3v1h-3zM965 204h1v1h-1zM169 198h2v1h-2zM511 198h3v1h-3zM973 198h1v1h-1zM171 197h3v1h-3zM509 197h2v1h-2zM974 197h2v1h-2zM174 196h4v1h-4zM508 196h1v1h-1zM976 196h1v1h-1zM178 195h3v1h-3zM298 195h20v1h-20zM506 195h2v1h-2zM977 195h2v1h-2zM181 194h2v1h-2zM294 194h4v1h-4zM318 194h12v1h-12zM505 194h1v1h-1zM979 194h2v1h-2zM183 193h3v1h-3zM286 193h8v1h-8zM330 193h4v1h-4zM503 193h2v1h-2zM981 193h1v1h-1zM186 192h4v1h-4zM278 192h8v1h-8zM334 192h8v1h-8zM501 192h2v1h-2zM982 192h2v1h-2zM190 191h4v1h-4zM262 191h16v1h-16zM342 191h4v1h-4zM499 191h2v1h-2zM984 191h1v1h-1zM194 190h8v1h-8zM254 190h8v1h-8zM346 190h4v1h-4zM497 190h2v1h-2zM985 190h1v1h-1zM202 189h4v1h-4zM250 189h4v1h-4zM350 189h4v1h-4zM495 189h2v1h-2zM986 189h2v1h-2zM206 188h12v1h-12zM242 188h8v1h-8zM354 188h3v1h-3zM493 188h2v1h-2zM988 188h1v1h-1zM218 187h12v1h-12zM234 187h8v1h-8zM357 187h2v1h-2zM492 187h1v1h-1zM989 187h2v1h-2zM230 186h4v1h-4zM359 186h3v1h-3zM490 186h2v1h-2zM991 186h2v1h-2zM362 185h3v1h-3zM489 185h1v1h-1zM993 185h2v1h-2zM365 184h2v1h-2zM487 184h2v1h-2zM995 184h2v1h-2zM367 183h2v1h-2zM485 183h2v1h-2zM997 183h1v1h-1zM369 182h2v1h-2zM483 182h2v1h-2zM998 182h2v1h-2zM371 181h2v1h-2zM481 181h2v1h-2zM1000 181h1v1h-1zM373 180h2v1h-2zM480 180h1v1h-1zM1001 180h2v1h-2zM375 179h2v1h-2zM478 179h2v1h-2zM1003 179h2v1h-2zM377 178h2v1h-2zM477 178h1v1h-1zM1005 178h1v1h-1zM379 177h3v1h-3zM475 177h2v1h-2zM1006 177h2v1h-2zM382 176h3v1h-3zM473 176h2v1h-2zM1008 176h1v1h-1zM385 175h2v1h-2zM470 175h3v1h-3zM1009 175h2v1h-2zM387 174h3v1h-3zM467 174h3v1h-3zM1011 174h2v1h-2zM390 173h12v1h-12zM465 173h2v1h-2zM1013 173h2v1h-2zM402 172h8v1h-8zM462 172h3v1h-3zM1015 172h11v1h-11zM1030 172h20v1h-20zM410 171h8v1h-8zM454 171h8v1h-8zM1026 171h4v1h-4zM1050 171h4v1h-4zM418 170h4v1h-4zM426 170h4v1h-4zM438 170h16v1h-16zM1054 170h4v1h-4zM422 169h4v1h-4zM430 169h8v1h-8zM1058 169h3v1h-3zM534 205h3v1h-3zM964 205h1v1h-1zM537 206h2v1h-2zM962 206h2v1h-2zM539 207h2v1h-2zM961 207h1v1h-1zM541 208h2v1h-2zM960 208h1v1h-1zM543 209h2v1h-2zM959 209h1v1h-1zM545 210h2v1h-2zM958 210h1v1h-1zM547 211h2v1h-2zM957 211h1v1h-1zM549 212h2v1h-2zM956 212h1v1h-1zM551 213h2v1h-2zM955 213h1v1h-1zM553 214h2v1h-2zM954 214h1v1h-1zM555 215h2v1h-2zM953 215h1v1h-1zM557 216h2v1h-2zM952 216h1v1h-1zM559 217h2v1h-2zM950 217h2v1h-2zM561 218h2v1h-2zM949 218h1v1h-1zM563 219h2v1h-2zM948 219h1v1h-1zM565 220h1v1h-1zM946 220h2v1h-2zM566 221h2v1h-2zM945 221h1v1h-1zM568 222h1v1h-1zM944 222h1v1h-1zM569 223h2v1h-2zM942 223h2v1h-2zM571 224h2v1h-2zM941 224h1v1h-1zM573 225h1v1h-1zM940 225h1v1h-1zM574 226h2v1h-2zM938 226h2v1h-2zM576 227h1v1h-1zM937 227h1v1h-1zM577 228h2v1h-2zM935 228h2v1h-2zM579 229h2v1h-2zM933 229h2v1h-2zM581 230h2v1h-2zM932 230h1v1h-1zM583 231h3v1h-3zM931 231h1v1h-1zM586 232h4v1h-4zM930 232h1v1h-1zM590 233h4v1h-4zM929 233h1v1h-1zM594 234h4v1h-4zM928 234h1v1h-1zM598 235h8v1h-8zM927 235h1v1h-1zM606 236h3v1h-3zM926 236h1v1h-1zM609 237h2v1h-2zM925 237h1v1h-1zM611 238h2v1h-2zM924 238h1v1h-1zM613 239h2v1h-2zM923 239h1v1h-1zM615 240h2v1h-2zM922 240h1v1h-1zM617 241h1v1h-1zM921 241h1v1h-1zM618 242h2v1h-2zM920 242h1v1h-1zM620 243h1v1h-1zM919 243h1v1h-1zM621 244h1v1h-1zM918 244h1v1h-1zM622 245h1v1h-1zM918 245h1v1h-1zM622 246h1v1h-1zM917 246h1v1h-1zM623 247h1v1h-1zM916 247h1v1h-1zM624 248h1v1h-1zM915 248h1v1h-1zM625 249h1v1h-1zM914 249h1v1h-1zM626 250h1v1h-1zM914 250h1v1h-1zM627 251h1v1h-1zM913 251h1v1h-1zM628 252h1v1h-1zM912 252h1v1h-1zM629 253h1v1h-1zM911 253h1v1h-1zM630 254h1v1h-1zM910 254h1v1h-1zM630 255h1v1h-1zM909 255h1v1h-1zM631 256h1v1h-1zM908 256h1v1h-1zM632 257h1v1h-1zM907 257h1v1h-1zM633 258h1v1h-1zM906 258h1v1h-1zM633 259h1v1h-1zM905 259h1v1h-1zM634 260h1v1h-1zM904 260h1v1h-1zM635 261h1v1h-1zM902 261h2v1h-2zM635 262h1v1h-1zM901 262h1v1h-1zM636 263h1v1h-1zM900 263h1v1h-1zM637 264h1v1h-1zM898 264h2v1h-2zM637 265h1v1h-1zM897 265h1v1h-1zM638 266h1v1h-1zM896 266h1v1h-1zM638 267h1v1h-1zM894 267h2v1h-2zM639 268h1v1h-1zM893 268h1v1h-1zM639 269h1v1h-1zM891 269h2v1h-2zM640 270h1v1h-1zM889 270h2v1h-2zM641 271h1v1h-1zM887 271h2v1h-2zM641 272h1v1h-1zM885 272h2v1h-2zM642 273h1v1h-1zM883 273h2v1h-2zM642 274h1v1h-1zM881 274h2v1h-2zM643 275h1v1h-1zM880 275h1v1h-1zM643 276h1v1h-1zM878 276h2v1h-2zM644 277h1v1h-1zM877 277h1v1h-1zM645 278h1v1h-1zM876 278h1v1h-1zM645 279h1v1h-1zM874 279h2v1h-2zM646 280h1v1h-1zM873 280h1v1h-1zM646 281h1v1h-1zM870 281h3v1h-3zM647 282h1v1h-1zM866 282h4v1h-4zM647 283h1v1h-1zM863 283h3v1h-3zM648 284h1v1h-1zM861 284h2v1h-2zM648 285h1v1h-1zM859 285h2v1h-2zM649 286h1v1h-1zM857 286h2v1h-2zM649 287h1v1h-1zM855 287h2v1h-2zM650 288h1v1h-1zM853 288h2v1h-2zM650 289h1v1h-1zM850 289h3v1h-3zM651 290h1v1h-1zM846 290h4v1h-4zM651 291h1v1h-1zM842 291h4v1h-4zM652 292h1v1h-1zM834 292h8v1h-8zM653 293h1v1h-1zM831 293h3v1h-3zM653 294h1v1h-1zM829 294h2v1h-2zM654 295h1v1h-1zM828 295h1v1h-1zM654 296h1v1h-1zM826 296h2v1h-2zM655 297h1v1h-1zM825 297h1v1h-1zM655 298h1v1h-1zM824 298h1v1h-1zM656 299h1v1h-1zM822 299h2v1h-2zM656 300h1v1h-1zM821 300h1v1h-1zM657 301h1v1h-1zM820 301h1v1h-1zM657 302h1v1h-1zM819 302h1v1h-1zM658 303h1v1h-1zM818 303h1v1h-1zM659 304h1v1h-1zM817 304h1v1h-1zM659 305h1v1h-1zM816 305h1v1h-1zM660 306h1v1h-1zM815 306h1v1h-1zM661 307h1v1h-1zM814 307h1v1h-1zM661 308h1v1h-1zM814 308h1v1h-1zM662 309h1v1h-1zM813 309h1v1h-1zM663 310h1v1h-1zM812 310h1v1h-1zM663 311h1v1h-1zM811 311h1v1h-1zM664 312h1v1h-1zM810 312h1v1h-1zM665 313h1v1h-1zM809 313h1v1h-1zM666 314h1v1h-1zM807 314h2v1h-2zM666 315h1v1h-1zM805 315h2v1h-2zM667 316h1v1h-1zM804 316h1v1h-1zM668 317h1v1h-1zM802 317h2v1h-2zM669 318h1v1h-1zM801 318h1v1h-1zM670 319h1v1h-1zM799 319h2v1h-2zM671 320h1v1h-1zM797 320h2v1h-2zM672 321h1v1h-1zM795 321h2v1h-2zM673 322h1v1h-1zM793 322h2v1h-2zM674 323h1v1h-1zM791 323h2v1h-2zM675 324h1v1h-1zM789 324h2v1h-2zM676 325h1v1h-1zM788 325h1v1h-1zM677 326h1v1h-1zM787 326h1v1h-1zM678 327h1v1h-1zM786 327h1v1h-1zM679 328h1v1h-1zM785 328h1v1h-1zM680 329h1v1h-1zM784 329h1v1h-1zM681 330h1v1h-1zM783 330h1v1h-1zM682 331h2v1h-2zM782 331h1v1h-1zM684 332h1v1h-1zM782 332h1v1h-1zM685 333h1v1h-1zM781 333h1v1h-1zM686 334h1v1h-1zM780 334h1v1h-1zM687 335h1v1h-1zM779 335h1v1h-1zM688 336h1v1h-1zM778 336h1v1h-1zM689 337h1v1h-1zM778 337h1v1h-1zM690 338h1v1h-1zM777 338h1v1h-1zM691 339h1v1h-1zM776 339h1v1h-1zM692 340h1v1h-1zM775 340h1v1h-1zM693 341h1v1h-1zM774 341h1v1h-1zM694 342h1v1h-1zM774 342h1v1h-1zM695 343h1v1h-1zM773 343h1v1h-1zM696 344h1v1h-1zM772 344h1v1h-1zM697 345h1v1h-1zM771 345h1v1h-1zM698 346h1v1h-1zM770 346h1v1h-1zM699 347h1v1h-1zM770 347h1v1h-1zM700 348h1v1h-1zM769 348h1v1h-1zM701 349h1v1h-1zM768 349h1v1h-1zM702 350h1v1h-1zM767 350h1v1h-1zM703 351h1v1h-1zM766 351h1v1h-1zM704 352h1v1h-1zM766 352h1v1h-1zM705 353h1v1h-1zM765 353h1v1h-1zM706 354h2v1h-2zM764 354h1v1h-1zM708 355h1v1h-1zM763 355h1v1h-1zM709 356h1v1h-1zM762 356h1v1h-1zM710 357h1v1h-1zM761 357h1v1h-1zM711 358h1v1h-1zM760 358h1v1h-1zM712 359h1v1h-1zM759 359h1v1h-1zM713 360h2v1h-2zM758 360h1v1h-1zM715 361h2v1h-2zM757 361h1v1h-1zM717 362h2v1h-2zM755 362h2v1h-2zM719 363h2v1h-2zM753 363h2v1h-2zM721 364h1v1h-1zM752 364h1v1h-1zM722 365h2v1h-2zM750 365h2v1h-2zM724 366h1v1h-1zM749 366h1v1h-1zM725 367h2v1h-2zM746 367h3v1h-3zM727 368h3v1h-3zM743 368h3v1h-3zM730 369h4v1h-4zM741 369h2v1h-2zM734 370h7v1h-7zM1061 168h2v1h-2zM1063 167h3v1h-3zM1066 166h3v1h-3zM1069 165h1v1h-1zM1070 164h2v1h-2zM1072 163h1v1h-1zM1073 162h2v1h-2zM1075 161h2v1h-2zM1077 160h2v1h-2zM1079 159h2v1h-2zM1081 158h2v1h-2zM1083 157h2v1h-2zM1085 156h2v1h-2zM1087 155h3v1h-3zM1090 154h3v1h-3zM1093 153h1v1h-1zM1094 152h2v1h-2zM1096 151h1v1h-1zM1097 150h2v1h-2zM1099 149h2v1h-2zM1101 148h1v1h-1zM1102 147h2v1h-2zM1104 146h1v1h-1zM1105 145h2v1h-2zM1107 144h2v1h-2zM1109 143h2v1h-2zM1111 142h2v1h-2zM1113 141h2v1h-2zM1115 140h2v1h-2zM1117 139h2v1h-2zM1119 138h2v1h-2zM1121 137h1v1h-1zM1122 136h2v1h-2zM1124 135h1v1h-1zM1125 134h2v1h-2zM1127 133h2v1h-2zM1129 132h2v1h-2zM1131 131h3v1h-3zM1134 130h3v1h-3zM1137 129h2v1h-2zM1139 128h3v1h-3zM1142 127h3v1h-3zM1145 126h2v1h-2zM1147 125h3v1h-3zM1150 124h3v1h-3zM1153 123h2v1h-2zM1155 122h2v1h-2zM1157 121h2v1h-2zM1159 120h2v1h-2zM1161 119h2v1h-2zM1163 118h2v1h-2zM1165 117h2v1h-2zM1167 116h2v1h-2zM1169 115h2v1h-2zM1171 114h3v1h-3zM1174 113h3v1h-3zM1177 112h2v1h-2zM1179 111h3v1h-3zM1182 110h8v1h-8zM1190 109h4v1h-4zM1194 108h3v1h-3zM1197 107h2v1h-2zM1199 106h2v1h-2zM1201 105h2v1h-2zM1203 104h2v1h-2zM1205 103h2v1h-2zM1207 102h2v1h-2zM1209 101h2v1h-2zM1211 100h3v1h-3zM1214 99h4v1h-4zM1218 98h4v1h-4zM1222 97h3v1h-3zM1225 96h2v1h-2zM1227 95h3v1h-3zM1230 94h4v1h-4zM1234 93h8v1h-8zM1242 92h4v1h-4zM1246 91h4v1h-4zM1250 90h4v1h-4zM1254 89h4v1h-4zM1258 88h4v1h-4zM1262 87h4v1h-4zM1266 86h3v1h-3z" fill="#0000cd"/>
<path d="M4 194h1v1h-1zM43 194h2v1h-2zM146 194h4v1h-4zM242 194h3v1h-3zM307 194h2v1h-2zM478 194h1v1h-1zM927 194h1v1h-1zM5 193h2v1h-2zM41 193h2v1h-2zM150 193h4v1h-4zM239 193h3v1h-3zM309 193h2v1h-2zM477 193h1v1h-1zM927 193h1v1h-1zM7 192h2v1h-2zM39 192h2v1h-2zM154 192h4v1h-4zM237 192h2v1h-2zM311 192h3v1h-3zM476 192h1v1h-1zM928 192h1v1h-1zM9 191h1v1h-1zM37 191h2v1h-2zM158 191h3v1h-3zM235 191h2v1h-2zM314 191h3v1h-3zM474 191h2v1h-2zM928 191h1v1h-1zM10 190h2v1h-2zM34 190h3v1h-3zM161 190h1v1h-1zM233 190h2v1h-2zM317 190h1v1h-1zM473 190h1v1h-1zM929 190h1v1h-1zM12 189h1v1h-1zM30 189h4v1h-4zM162 189h2v1h-2zM231 189h2v1h-2zM318 189h2v1h-2zM472 189h1v1h-1zM930 189h1v1h-1zM13 188h2v1h-2zM26 188h4v1h-4zM164 188h1v1h-1zM229 188h2v1h-2zM320 188h2v1h-2zM470 188h2v1h-2zM931 188h1v1h-1zM15 187h3v1h-3zM22 187h4v1h-4zM165 187h2v1h-2zM226 187h3v1h-3zM322 187h4v1h-4zM469 187h1v1h-1zM932 187h1v1h-1zM18 186h4v1h-4zM167 186h2v1h-2zM223 186h3v1h-3zM326 186h4v1h-4zM468 186h1v1h-1zM933 186h1v1h-1zM45 195h2v1h-2zM143 195h3v1h-3zM245 195h2v1h-2zM305 195h2v1h-2zM479 195h1v1h-1zM926 195h1v1h-1zM47 196h2v1h-2zM141 196h2v1h-2zM247 196h3v1h-3zM303 196h2v1h-2zM480 196h1v1h-1zM926 196h1v1h-1zM49 197h2v1h-2zM138 197h3v1h-3zM250 197h4v1h-4zM301 197h2v1h-2zM481 197h1v1h-1zM925 197h1v1h-1zM51 198h2v1h-2zM135 198h3v1h-3zM254 198h3v1h-3zM294 198h7v1h-7zM482 198h2v1h-2zM925 198h1v1h-1zM53 199h2v1h-2zM133 199h2v1h-2zM257 199h2v1h-2zM290 199h4v1h-4zM484 199h1v1h-1zM924 199h1v1h-1zM55 200h2v1h-2zM131 200h2v1h-2zM259 200h3v1h-3zM278 200h12v1h-12zM485 200h1v1h-1zM923 200h1v1h-1zM57 201h1v1h-1zM129 201h2v1h-2zM262 201h16v1h-16zM486 201h1v1h-1zM923 201h1v1h-1zM58 202h2v1h-2zM127 202h2v1h-2zM487 202h1v1h-1zM922 202h1v1h-1zM60 203h1v1h-1zM125 203h2v1h-2zM488 203h1v1h-1zM922 203h1v1h-1zM61 204h1v1h-1zM122 204h3v1h-3zM489 204h2v1h-2zM921 204h1v1h-1zM62 205h2v1h-2zM120 205h2v1h-2zM491 205h2v1h-2zM921 205h1v1h-1zM64 206h1v1h-1zM118 206h2v1h-2zM493 206h2v1h-2zM920 206h1v1h-1zM65 207h2v1h-2zM117 207h1v1h-1zM495 207h2v1h-2zM920 207h1v1h-1zM67 208h2v1h-2zM115 208h2v1h-2zM497 208h2v1h-2zM919 208h1v1h-1zM69 209h2v1h-2zM113 209h2v1h-2zM499 209h2v1h-2zM919 209h1v1h-1zM71 210h11v1h-11zM102 210h11v1h-11zM501 210h1v1h-1zM918 210h1v1h-1zM82 211h4v1h-4zM94 211h8v1h-8zM502 211h2v1h-2zM918 211h1v1h-1zM86 212h8v1h-8zM504 212h1v1h-1zM917 212h1v1h-1zM169 185h2v1h-2zM221 185h2v1h-2zM330 185h4v1h-4zM466 185h2v1h-2zM934 185h1v1h-1zM171 184h3v1h-3zM218 184h3v1h-3zM334 184h4v1h-4zM465 184h1v1h-1zM934 184h1v1h-1zM174 183h4v1h-4zM214 183h4v1h-4zM338 183h4v1h-4zM463 183h2v1h-2zM935 183h1v1h-1zM178 182h8v1h-8zM211 182h3v1h-3zM342 182h3v1h-3zM461 182h2v1h-2zM936 182h1v1h-1zM186 181h12v1h-12zM209 181h2v1h-2zM345 181h2v1h-2zM458 181h3v1h-3zM937 181h1v1h-1zM984 181h10v1h-10zM198 180h11v1h-11zM347 180h3v1h-3zM450 180h8v1h-8zM938 180h2v1h-2zM982 180h2v1h-2zM994 180h4v1h-4zM350 179h3v1h-3zM446 179h4v1h-4zM940 179h1v1h-1zM981 179h1v1h-1zM998 179h4v1h-4zM353 178h1v1h-1zM443 178h3v1h-3zM941 178h1v1h-1zM979 178h2v1h-2zM1002 178h7v1h-7zM354 177h2v1h-2zM441 177h2v1h-2zM942 177h1v1h-1zM977 177h2v1h-2zM1009 177h2v1h-2zM356 176h1v1h-1zM439 176h2v1h-2zM943 176h1v1h-1zM975 176h2v1h-2zM1011 176h2v1h-2zM357 175h2v1h-2zM437 175h2v1h-2zM944 175h1v1h-1zM973 175h2v1h-2zM1013 175h2v1h-2zM359 174h3v1h-3zM435 174h2v1h-2zM945 174h1v1h-1zM966 174h7v1h-7zM1015 174h2v1h-2zM362 173h3v1h-3zM433 173h2v1h-2zM946 173h1v1h-1zM963 173h3v1h-3zM1017 173h2v1h-2zM365 172h1v1h-1zM431 172h2v1h-2zM947 172h1v1h-1zM961 172h2v1h-2zM1019 172h3v1h-3zM366 171h2v1h-2zM429 171h2v1h-2zM948 171h1v1h-1zM959 171h2v1h-2zM1022 171h7v1h-7zM368 170h1v1h-1zM428 170h1v1h-1zM949 170h2v1h-2zM957 170h2v1h-2zM1029 170h2v1h-2zM369 169h2v1h-2zM426 169h2v1h-2zM951 169h6v1h-6zM1031 169h3v1h-3zM371 168h2v1h-2zM425 168h1v1h-1zM1034 168h3v1h-3zM373 167h2v1h-2zM422 167h3v1h-3zM1037 167h2v1h-2zM375 166h2v1h-2zM419 166h3v1h-3zM1039 166h2v1h-2zM377 165h1v1h-1zM417 165h2v1h-2zM1041 165h2v1h-2zM378 164h2v1h-2zM414 164h3v1h-3zM1043 164h2v1h-2zM380 163h1v1h-1zM410 163h4v1h-4zM1045 163h1v1h-1zM381 162h2v1h-2zM402 162h8v1h-8zM1046 162h2v1h-2zM383 161h3v1h-3zM398 161h4v1h-4zM1048 161h2v1h-2zM386 160h4v1h-4zM394 160h4v1h-4zM1050 160h3v1h-3zM390 159h4v1h-4zM1053 159h2v1h-2zM505 213h1v1h-1zM917 213h1v1h-1zM506 214h2v1h-2zM916 214h1v1h-1zM508 215h1v1h-1zM916 215h1v1h-1zM509 216h1v1h-1zM915 216h1v1h-1zM510 217h2v1h-2zM915 217h1v1h-1zM512 218h2v1h-2zM914 218h1v1h-1zM514 219h4v1h-4zM914 219h1v1h-1zM518 220h27v1h-27zM913 220h1v1h-1zM545 221h2v1h-2zM913 221h1v1h-1zM547 222h2v1h-2zM912 222h1v1h-1zM549 223h2v1h-2zM911 223h1v1h-1zM551 224h2v1h-2zM911 224h1v1h-1zM553 225h2v1h-2zM910 225h1v1h-1zM555 226h3v1h-3zM910 226h1v1h-1zM558 227h4v1h-4zM909 227h1v1h-1zM562 228h3v1h-3zM909 228h1v1h-1zM565 229h2v1h-2zM908 229h1v1h-1zM567 230h2v1h-2zM907 230h1v1h-1zM569 231h1v1h-1zM907 231h1v1h-1zM570 232h2v1h-2zM906 232h1v1h-1zM572 233h1v1h-1zM905 233h1v1h-1zM573 234h1v1h-1zM905 234h1v1h-1zM574 235h1v1h-1zM904 235h1v1h-1zM574 236h1v1h-1zM904 236h1v1h-1zM575 237h1v1h-1zM903 237h1v1h-1zM576 238h1v1h-1zM903 238h1v1h-1zM577 239h1v1h-1zM902 239h1v1h-1zM578 240h1v1h-1zM902 240h1v1h-1zM579 241h1v1h-1zM901 241h1v1h-1zM580 242h1v1h-1zM901 242h1v1h-1zM581 243h1v1h-1zM900 243h1v1h-1zM582 244h2v1h-2zM900 244h1v1h-1zM584 245h1v1h-1zM899 245h1v1h-1zM585 246h2v1h-2zM899 246h1v1h-1zM587 247h2v1h-2zM898 247h1v1h-1zM589 248h2v1h-2zM898 248h1v1h-1zM591 249h3v1h-3zM897 249h1v1h-1zM594 250h4v1h-4zM606 250h3v1h-3zM897 250h1v1h-1zM598 251h8v1h-8zM609 251h1v1h-1zM896 251h1v1h-1zM610 252h2v1h-2zM895 252h1v1h-1zM612 253h1v1h-1zM895 253h1v1h-1zM613 254h2v1h-2zM894 254h1v1h-1zM615 255h2v1h-2zM894 255h1v1h-1zM617 256h1v1h-1zM893 256h1v1h-1zM617 257h1v1h-1zM893 257h1v1h-1zM618 258h1v1h-1zM892 258h1v1h-1zM619 259h1v1h-1zM891 259h1v1h-1zM619 260h1v1h-1zM890 260h1v1h-1zM620 261h1v1h-1zM889 261h1v1h-1zM621 262h1v1h-1zM888 262h1v1h-1zM621 263h1v1h-1zM886 263h2v1h-2zM622 264h1v1h-1zM885 264h1v1h-1zM622 265h1v1h-1zM884 265h1v1h-1zM623 266h1v1h-1zM882 266h2v1h-2zM623 267h1v1h-1zM881 267h1v1h-1zM624 268h1v1h-1zM878 268h3v1h-3zM625 269h1v1h-1zM875 269h3v1h-3zM625 270h1v1h-1zM873 270h2v1h-2zM626 271h1v1h-1zM866 271h7v1h-7zM626 272h1v1h-1zM863 272h3v1h-3zM627 273h1v1h-1zM861 273h2v1h-2zM627 274h1v1h-1zM858 274h3v1h-3zM628 275h1v1h-1zM856 275h2v1h-2zM629 276h1v1h-1zM855 276h1v1h-1zM629 277h1v1h-1zM854 277h1v1h-1zM630 278h1v1h-1zM827 278h7v1h-7zM853 278h1v1h-1zM631 279h1v1h-1zM825 279h2v1h-2zM834 279h3v1h-3zM851 279h2v1h-2zM631 280h1v1h-1zM822 280h3v1h-3zM837 280h2v1h-2zM849 280h2v1h-2zM632 281h1v1h-1zM820 281h2v1h-2zM839 281h2v1h-2zM847 281h2v1h-2zM632 282h1v1h-1zM818 282h2v1h-2zM841 282h2v1h-2zM845 282h2v1h-2zM633 283h1v1h-1zM817 283h1v1h-1zM843 283h2v1h-2zM633 284h1v1h-1zM816 284h1v1h-1zM634 285h1v1h-1zM815 285h1v1h-1zM634 286h1v1h-1zM814 286h1v1h-1zM635 287h1v1h-1zM813 287h1v1h-1zM635 288h1v1h-1zM812 288h1v1h-1zM636 289h1v1h-1zM811 289h1v1h-1zM636 290h1v1h-1zM810 290h1v1h-1zM636 291h1v1h-1zM809 291h1v1h-1zM637 292h1v1h-1zM803 292h6v1h-6zM637 293h1v1h-1zM801 293h2v1h-2zM637 294h1v1h-1zM798 294h3v1h-3zM638 295h1v1h-1zM795 295h3v1h-3zM638 296h1v1h-1zM793 296h2v1h-2zM638 297h1v1h-1zM791 297h2v1h-2zM638 298h1v1h-1zM789 298h2v1h-2zM639 299h1v1h-1zM787 299h2v1h-2zM639 300h1v1h-1zM785 300h2v1h-2zM639 301h1v1h-1zM783 301h2v1h-2zM640 302h1v1h-1zM781 302h2v1h-2zM640 303h1v1h-1zM780 303h1v1h-1zM640 304h1v1h-1zM778 304h2v1h-2zM641 305h1v1h-1zM777 305h1v1h-1zM641 306h1v1h-1zM775 306h2v1h-2zM641 307h1v1h-1zM773 307h2v1h-2zM642 308h1v1h-1zM770 308h3v1h-3zM642 309h1v1h-1zM768 309h2v1h-2zM642 310h1v1h-1zM766 310h2v1h-2zM642 311h1v1h-1zM765 311h1v1h-1zM643 312h1v1h-1zM764 312h1v1h-1zM643 313h1v1h-1zM763 313h1v1h-1zM643 314h1v1h-1zM762 314h1v1h-1zM644 315h1v1h-1zM761 315h1v1h-1zM644 316h1v1h-1zM760 316h1v1h-1zM644 317h1v1h-1zM759 317h1v1h-1zM645 318h1v1h-1zM758 318h1v1h-1zM645 319h1v1h-1zM757 319h1v1h-1zM645 320h1v1h-1zM756 320h1v1h-1zM645 321h1v1h-1zM755 321h1v1h-1zM646 322h1v1h-1zM754 322h1v1h-1zM646 323h1v1h-1zM754 323h1v1h-1zM646 324h1v1h-1zM753 324h1v1h-1zM647 325h1v1h-1zM752 325h1v1h-1zM647 326h1v1h-1zM751 326h1v1h-1zM647 327h1v1h-1zM751 327h1v1h-1zM647 328h1v1h-1zM750 328h1v1h-1zM648 329h1v1h-1zM750 329h1v1h-1zM648 330h1v1h-1zM749 330h1v1h-1zM648 331h1v1h-1zM749 331h1v1h-1zM649 332h1v1h-1zM748 332h1v1h-1zM649 333h1v1h-1zM747 333h1v1h-1zM649 334h1v1h-1zM746 334h1v1h-1zM649 335h1v1h-1zM746 335h1v1h-1zM650 336h1v1h-1zM745 336h1v1h-1zM650 337h1v1h-1zM744 337h1v1h-1zM650 338h1v1h-1zM743 338h1v1h-1zM651 339h1v1h-1zM742 339h1v1h-1zM651 340h1v1h-1zM741 340h1v1h-1zM651 341h1v1h-1zM740 341h1v1h-1zM651 342h1v1h-1zM738 342h2v1h-2zM652 343h1v1h-1zM737 343h1v1h-1zM652 344h1v1h-1zM736 344h1v1h-1zM652 345h1v1h-1zM734 345h2v1h-2zM653 346h1v1h-1zM733 346h1v1h-1zM653 347h1v1h-1zM732 347h1v1h-1zM653 348h1v1h-1zM731 348h1v1h-1zM653 349h1v1h-1zM730 349h1v1h-1zM654 350h1v1h-1zM729 350h1v1h-1zM654 351h1v1h-1zM728 351h1v1h-1zM654 352h1v1h-1zM727 352h1v1h-1zM654 353h1v1h-1zM726 353h1v1h-1zM655 354h1v1h-1zM726 354h1v1h-1zM655 355h1v1h-1zM725 355h1v1h-1zM655 356h1v1h-1zM724 356h1v1h-1zM655 357h1v1h-1zM723 357h1v1h-1zM656 358h1v1h-1zM722 358h1v1h-1zM656 359h1v1h-1zM722 359h1v1h-1zM656 360h1v1h-1zM721 360h1v1h-1zM657 361h1v1h-1zM720 361h1v1h-1zM657 362h1v1h-1zM719 362h1v1h-1zM657 363h1v1h-1zM719 363h1v1h-1zM658 364h1v1h-1zM718 364h1v1h-1zM658 365h1v1h-1zM718 365h1v1h-1zM658 366h1v1h-1zM717 366h1v1h-1zM658 367h1v1h-1zM717 367h1v1h-1zM659 368h1v1h-1zM716 368h1v1h-1zM659 369h1v1h-1zM715 369h1v1h-1zM659 370h1v1h-1zM715 370h1v1h-1zM660 371h1v1h-1zM714 371h1v1h-1zM660 372h1v1h-1zM713 372h1v1h-1zM660 373h1v1h-1zM713 373h1v1h-1zM661 374h1v1h-1zM712 374h1v1h-1zM661 375h1v1h-1zM712 375h1v1h-1zM661 376h1v1h-1zM711 376h1v1h-1zM662 377h1v1h-1zM711 377h1v1h-1zM662 378h1v1h-1zM710 378h1v1h-1zM662 379h1v1h-1zM710 379h1v1h-1zM663 380h1v1h-1zM709 380h1v1h-1zM663 381h1v1h-1zM709 381h1v1h-1zM663 382h1v1h-1zM708 382h1v1h-1zM664 383h1v1h-1zM708 383h1v1h-1zM664 384h1v1h-1zM707 384h1v1h-1zM665 385h1v1h-1zM707 385h1v1h-1zM665 386h1v1h-1zM706 386h1v1h-1zM666 387h1v1h-1zM705 387h1v1h-1zM666 388h1v1h-1zM705 388h1v1h-1zM667 389h1v1h-1zM704 389h1v1h-1zM667 390h1v1h-1zM703 390h1v1h-1zM668 391h1v1h-1zM702 391h1v1h-1zM668 392h1v1h-1zM702 392h1v1h-1zM669 393h1v1h-1zM701 393h1v1h-1zM669 394h1v1h-1zM699 394h2v1h-2zM670 395h1v1h-1zM697 395h2v1h-2zM671 396h1v1h-1zM696 396h1v1h-1zM671 397h1v1h-1zM695 397h1v1h-1zM672 398h1v1h-1zM694 398h1v1h-1zM673 399h2v1h-2zM693 399h1v1h-1zM675 400h11v1h-11zM690 400h3v1h-3zM686 401h4v1h-4zM1055 158h3v1h-3zM1058 157h4v1h-4zM1062 156h3v1h-3zM1065 155h1v1h-1zM1066 154h2v1h-2zM1068 153h1v1h-1zM1069 152h1v1h-1zM1070 151h2v1h-2zM1072 150h1v1h-1zM1073 149h1v1h-1zM1074 148h2v1h-2zM1076 147h1v1h-1zM1077 146h1v1h-1zM1078 145h2v1h-2zM1080 144h1v1h-1zM1081 143h2v1h-2zM1083 142h2v1h-2zM1085 141h1v1h-1zM1086 140h2v1h-2zM1088 139h1v1h-1zM1089 138h1v1h-1zM1090 137h1v1h-1zM1091 136h1v1h-1zM1092 135h1v1h-1zM1093 134h1v1h-1zM1094 133h2v1h-2zM1096 132h1v1h-1zM1097 131h1v1h-1zM1098 130h2v1h-2zM1100 129h1v1h-1zM1101 128h1v1h-1zM1102 127h2v1h-2zM1104 126h1v1h-1zM1105 125h1v1h-1zM1106 124h2v1h-2zM1108 123h1v1h-1zM1109 122h2v1h-2zM1111 121h2v1h-2zM1113 120h2v1h-2zM1115 119h2v1h-2zM1117 118h1v1h-1zM1118 117h1v1h-1zM1119 116h1v1h-1zM1120 115h1v1h-1zM1121 114h2v1h-2zM1123 113h11v1h-11zM1134 112h4v1h-4zM1138 111h4v1h-4zM1142 110h12v1h-12zM1154 109h4v1h-4zM1158 108h4v1h-4zM1162 107h3v1h-3zM1165 106h2v1h-2zM1178 106h12v1h-12zM1167 105h3v1h-3zM1174 105h4v1h-4zM1190 105h3v1h-3zM1170 104h4v1h-4zM1193 104h2v1h-2zM1195 103h2v1h-2zM1197 102h1v1h-1zM1198 101h2v1h-2zM1200 100h1v1h-1zM1201 99h1v1h-1zM1202 98h1v1h-1zM1203 97h1v1h-1zM1204 96h1v1h-1zM1205 95h1v1h-1zM1206 94h1v1h-1zM1207 93h1v1h-1zM1208 92h1v1h-1zM1209 91h1v1h-1zM1210 90h2v1h-2zM1212 89h1v1h-1zM1213 88h2v1h-2zM1215 87h3v1h-3zM1218 86h7v1h-7zM1225 85h2v1h-2zM1227 84h2v1h-2zM1229 83h1v1h-1zM1230 82h2v1h-2zM1232 81h2v1h-2zM1234 80h3v1h-3zM1237 79h2v1h-2zM1266 79h3v1h-3zM1239 78h2v1h-2zM1262 78h4v1h-4zM1241 77h2v1h-2zM1258 77h4v1h-4zM1243 76h3v1h-3zM1254 76h4v1h-4zM1246 75h8v1h-8z" fill="#ff0000"/>
<path d="M4 181h10v1h-10zM167 181h1v1h-1zM198 181h2v1h-2zM319 181h1v1h-1zM327 181h7v1h-7zM445 181h1v1h-1zM910 181h1v1h-1zM947 181h1v1h-1zM966 181h3v1h-3zM990 181h1v1h-1zM997 181h2v1h-2zM14 182h3v1h-3zM166 182h1v1h-1zM200 182h1v1h-1zM318 182h1v1h-1zM446 182h2v1h-2zM910 182h1v1h-1zM947 182h1v1h-1zM958 182h8v1h-8zM991 182h1v1h-1zM994 182h3v1h-3zM17 183h1v1h-1zM166 183h1v1h-1zM201 183h2v1h-2zM317 183h1v1h-1zM448 183h2v1h-2zM909 183h1v1h-1zM948 183h10v1h-10zM992 183h2v1h-2zM18 184h1v1h-1zM165 184h1v1h-1zM203 184h2v1h-2zM315 184h2v1h-2zM450 184h3v1h-3zM909 184h1v1h-1zM19 185h1v1h-1zM134 185h4v1h-4zM164 185h1v1h-1zM205 185h1v1h-1zM313 185h2v1h-2zM453 185h1v1h-1zM909 185h1v1h-1zM20 186h1v1h-1zM132 186h2v1h-2zM138 186h3v1h-3zM162 186h2v1h-2zM206 186h2v1h-2zM311 186h2v1h-2zM454 186h2v1h-2zM909 186h1v1h-1zM21 187h1v1h-1zM131 187h1v1h-1zM141 187h2v1h-2zM161 187h1v1h-1zM208 187h1v1h-1zM309 187h2v1h-2zM456 187h1v1h-1zM908 187h1v1h-1zM21 188h1v1h-1zM131 188h1v1h-1zM143 188h2v1h-2zM159 188h2v1h-2zM209 188h1v1h-1zM308 188h1v1h-1zM457 188h2v1h-2zM908 188h1v1h-1zM22 189h1v1h-1zM130 189h1v1h-1zM145 189h2v1h-2zM157 189h2v1h-2zM210 189h1v1h-1zM306 189h2v1h-2zM459 189h2v1h-2zM908 189h1v1h-1zM23 190h1v1h-1zM129 190h1v1h-1zM147 190h3v1h-3zM154 190h3v1h-3zM211 190h1v1h-1zM290 190h7v1h-7zM305 190h1v1h-1zM461 190h1v1h-1zM907 190h1v1h-1zM23 191h1v1h-1zM129 191h1v1h-1zM150 191h4v1h-4zM212 191h1v1h-1zM288 191h2v1h-2zM297 191h2v1h-2zM302 191h3v1h-3zM462 191h1v1h-1zM907 191h1v1h-1zM24 192h1v1h-1zM128 192h1v1h-1zM213 192h2v1h-2zM286 192h2v1h-2zM299 192h3v1h-3zM462 192h1v1h-1zM907 192h1v1h-1zM25 193h1v1h-1zM127 193h1v1h-1zM215 193h2v1h-2zM285 193h1v1h-1zM463 193h1v1h-1zM907 193h1v1h-1zM26 194h1v1h-1zM126 194h1v1h-1zM217 194h2v1h-2zM284 194h1v1h-1zM464 194h1v1h-1zM906 194h1v1h-1zM26 195h1v1h-1zM126 195h1v1h-1zM219 195h3v1h-3zM230 195h4v1h-4zM282 195h2v1h-2zM465 195h1v1h-1zM906 195h1v1h-1zM27 196h1v1h-1zM125 196h1v1h-1zM222 196h8v1h-8zM234 196h3v1h-3zM281 196h1v1h-1zM466 196h1v1h-1zM906 196h1v1h-1zM28 197h1v1h-1zM124 197h1v1h-1zM237 197h2v1h-2zM280 197h1v1h-1zM467 197h1v1h-1zM906 197h1v1h-1zM29 198h1v1h-1zM122 198h2v1h-2zM239 198h3v1h-3zM279 198h1v1h-1zM468 198h1v1h-1zM905 198h1v1h-1zM30 199h1v1h-1zM121 199h1v1h-1zM242 199h3v1h-3zM278 199h1v1h-1zM469 199h1v1h-1zM905 199h1v1h-1zM31 200h1v1h-1zM120 200h1v1h-1zM245 200h1v1h-1zM277 200h1v1h-1zM470 200h1v1h-1zM905 200h1v1h-1zM32 201h1v1h-1zM118 201h2v1h-2zM246 201h2v1h-2zM276 201h1v1h-1zM470 201h1v1h-1zM905 201h1v1h-1zM33 202h1v1h-1zM117 202h1v1h-1zM248 202h2v1h-2zM274 202h2v1h-2zM471 202h1v1h-1zM904 202h1v1h-1zM34 203h2v1h-2zM107 203h3v1h-3zM114 203h3v1h-3zM250 203h4v1h-4zM273 203h1v1h-1zM472 203h1v1h-1zM904 203h1v1h-1zM36 204h1v1h-1zM105 204h2v1h-2zM110 204h4v1h-4zM254 204h8v1h-8zM271 204h2v1h-2zM473 204h1v1h-1zM904 204h1v1h-1zM37 205h2v1h-2zM103 205h2v1h-2zM262 205h4v1h-4zM269 205h2v1h-2zM473 205h1v1h-1zM903 205h1v1h-1zM39 206h3v1h-3zM101 206h2v1h-2zM266 206h3v1h-3zM474 206h1v1h-1zM903 206h1v1h-1zM42 207h8v1h-8zM100 207h1v1h-1zM475 207h1v1h-1zM903 207h1v1h-1zM50 208h3v1h-3zM98 208h2v1h-2zM475 208h1v1h-1zM903 208h1v1h-1zM53 209h2v1h-2zM97 209h1v1h-1zM476 209h1v1h-1zM902 209h1v1h-1zM55 210h2v1h-2zM94 210h3v1h-3zM477 210h1v1h-1zM902 210h1v1h-1zM57 211h2v1h-2zM82 211h4v1h-4zM90 211h4v1h-4zM477 211h1v1h-1zM902 211h1v1h-1zM59 212h2v1h-2zM79 212h3v1h-3zM86 212h4v1h-4zM478 212h1v1h-1zM901 212h1v1h-1zM61 213h1v1h-1zM77 213h2v1h-2zM478 213h1v1h-1zM901 213h1v1h-1zM62 214h2v1h-2zM74 214h3v1h-3zM479 214h1v1h-1zM901 214h1v1h-1zM64 215h2v1h-2zM70 215h4v1h-4zM479 215h1v1h-1zM901 215h1v1h-1zM66 216h4v1h-4zM480 216h1v1h-1zM900 216h1v1h-1zM168 180h1v1h-1zM197 180h1v1h-1zM320 180h2v1h-2zM325 180h2v1h-2zM334 180h7v1h-7zM411 180h2v1h-2zM443 180h2v1h-2zM910 180h1v1h-1zM946 180h1v1h-1zM969 180h2v1h-2zM990 180h1v1h-1zM999 180h2v1h-2zM169 179h1v1h-1zM195 179h2v1h-2zM322 179h3v1h-3zM341 179h1v1h-1zM409 179h2v1h-2zM413 179h2v1h-2zM441 179h2v1h-2zM910 179h1v1h-1zM945 179h1v1h-1zM971 179h2v1h-2zM989 179h1v1h-1zM1001 179h1v1h-1zM170 178h2v1h-2zM193 178h2v1h-2zM342 178h2v1h-2zM408 178h1v1h-1zM415 178h2v1h-2zM439 178h2v1h-2zM911 178h1v1h-1zM945 178h1v1h-1zM973 178h2v1h-2zM987 178h2v1h-2zM1002 178h2v1h-2zM172 177h1v1h-1zM191 177h2v1h-2zM344 177h1v1h-1zM406 177h2v1h-2zM417 177h2v1h-2zM437 177h2v1h-2zM911 177h1v1h-1zM944 177h1v1h-1zM975 177h7v1h-7zM985 177h2v1h-2zM1004 177h1v1h-1zM173 176h2v1h-2zM189 176h2v1h-2zM345 176h1v1h-1zM405 176h1v1h-1zM419 176h2v1h-2zM434 176h3v1h-3zM911 176h1v1h-1zM943 176h1v1h-1zM982 176h3v1h-3zM1005 176h1v1h-1zM175 175h3v1h-3zM187 175h2v1h-2zM346 175h1v1h-1zM404 175h1v1h-1zM421 175h2v1h-2zM430 175h4v1h-4zM911 175h1v1h-1zM943 175h1v1h-1zM1006 175h1v1h-1zM178 174h4v1h-4zM185 174h2v1h-2zM347 174h1v1h-1zM403 174h1v1h-1zM423 174h7v1h-7zM912 174h1v1h-1zM942 174h1v1h-1zM1007 174h1v1h-1zM182 173h3v1h-3zM348 173h1v1h-1zM402 173h1v1h-1zM912 173h1v1h-1zM941 173h1v1h-1zM1008 173h1v1h-1zM349 172h2v1h-2zM402 172h1v1h-1zM912 172h1v1h-1zM941 172h1v1h-1zM1009 172h1v1h-1zM351 171h2v1h-2zM401 171h1v1h-1zM913 171h1v1h-1zM940 171h1v1h-1zM1010 171h1v1h-1zM353 170h2v1h-2zM400 170h1v1h-1zM913 170h1v1h-1zM939 170h1v1h-1zM1011 170h1v1h-1zM355 169h2v1h-2zM399 169h1v1h-1zM914 169h1v1h-1zM939 169h1v1h-1zM1012 169h1v1h-1zM357 168h1v1h-1zM399 168h1v1h-1zM914 168h1v1h-1zM938 168h1v1h-1zM1013 168h1v1h-1zM358 167h1v1h-1zM398 167h1v1h-1zM915 167h1v1h-1zM938 167h1v1h-1zM1014 167h1v1h-1zM359 166h1v1h-1zM398 166h1v1h-1zM915 166h1v1h-1zM937 166h1v1h-1zM1015 166h1v1h-1zM360 165h1v1h-1zM397 165h1v1h-1zM916 165h1v1h-1zM937 165h1v1h-1zM1016 165h1v1h-1zM361 164h1v1h-1zM397 164h1v1h-1zM916 164h1v1h-1zM936 164h1v1h-1zM1017 164h1v1h-1zM362 163h2v1h-2zM396 163h1v1h-1zM917 163h1v1h-1zM935 163h1v1h-1zM1018 163h2v1h-2zM364 162h1v1h-1zM395 162h1v1h-1zM917 162h1v1h-1zM934 162h1v1h-1zM1020 162h1v1h-1zM365 161h1v1h-1zM395 161h1v1h-1zM918 161h1v1h-1zM934 161h1v1h-1zM1021 161h2v1h-2zM366 160h2v1h-2zM394 160h1v1h-1zM919 160h1v1h-1zM933 160h1v1h-1zM1023 160h3v1h-3zM368 159h1v1h-1zM394 159h1v1h-1zM919 159h1v1h-1zM932 159h1v1h-1zM1026 159h4v1h-4zM1034 159h11v1h-11zM369 158h1v1h-1zM393 158h1v1h-1zM920 158h2v1h-2zM931 158h1v1h-1zM1030 158h4v1h-4zM1045 158h1v1h-1zM370 157h1v1h-1zM393 157h1v1h-1zM922 157h3v1h-3zM930 157h1v1h-1zM1046 157h2v1h-2zM370 156h1v1h-1zM392 156h1v1h-1zM925 156h1v1h-1zM930 156h1v1h-1zM1048 156h2v1h-2zM371 155h1v1h-1zM391 155h1v1h-1zM926 155h2v1h-2zM929 155h1v1h-1zM1050 155h3v1h-3zM372 154h1v1h-1zM390 154h1v1h-1zM928 154h1v1h-1zM1053 154h2v1h-2zM373 153h1v1h-1zM389 153h1v1h-1zM1055 153h3v1h-3zM374 152h1v1h-1zM387 152h2v1h-2zM1058 152h3v1h-3zM375 151h1v1h-1zM385 151h2v1h-2zM1061 151h2v1h-2zM376 150h2v1h-2zM382 150h3v1h-3zM1063 150h2v1h-2zM378 149h4v1h-4zM1065 149h1v1h-1zM481 217h1v1h-1zM530 217h7v1h-7zM900 217h1v1h-1zM482 218h2v1h-2zM499 218h3v1h-3zM527 218h3v1h-3zM537 218h2v1h-2zM900 218h1v1h-1zM484 219h1v1h-1zM497 219h2v1h-2zM502 219h4v1h-4zM525 219h2v1h-2zM539 219h2v1h-2zM899 219h1v1h-1zM485 220h1v1h-1zM496 220h1v1h-1zM506 220h3v1h-3zM524 220h1v1h-1zM541 220h1v1h-1zM899 220h1v1h-1zM486 221h2v1h-2zM494 221h2v1h-2zM509 221h2v1h-2zM522 221h2v1h-2zM542 221h2v1h-2zM899 221h1v1h-1zM488 222h2v1h-2zM493 222h1v1h-1zM511 222h3v1h-3zM521 222h1v1h-1zM544 222h1v1h-1zM899 222h1v1h-1zM490 223h3v1h-3zM514 223h7v1h-7zM545 223h1v1h-1zM898 223h1v1h-1zM546 224h1v1h-1zM898 224h1v1h-1zM546 225h1v1h-1zM898 225h1v1h-1zM547 226h1v1h-1zM898 226h1v1h-1zM548 227h1v1h-1zM897 227h1v1h-1zM549 228h1v1h-1zM897 228h1v1h-1zM550 229h2v1h-2zM897 229h1v1h-1zM552 230h1v1h-1zM897 230h1v1h-1zM553 231h1v1h-1zM896 231h1v1h-1zM554 232h1v1h-1zM896 232h1v1h-1zM554 233h1v1h-1zM895 233h1v1h-1zM555 234h1v1h-1zM895 234h1v1h-1zM556 235h1v1h-1zM894 235h1v1h-1zM557 236h1v1h-1zM894 236h1v1h-1zM558 237h1v1h-1zM893 237h1v1h-1zM559 238h1v1h-1zM893 238h1v1h-1zM560 239h1v1h-1zM892 239h1v1h-1zM561 240h1v1h-1zM891 240h1v1h-1zM562 241h2v1h-2zM606 241h3v1h-3zM890 241h1v1h-1zM564 242h1v1h-1zM604 242h2v1h-2zM609 242h1v1h-1zM890 242h1v1h-1zM565 243h1v1h-1zM603 243h1v1h-1zM609 243h1v1h-1zM889 243h1v1h-1zM566 244h1v1h-1zM603 244h1v1h-1zM610 244h1v1h-1zM888 244h1v1h-1zM567 245h1v1h-1zM602 245h1v1h-1zM610 245h1v1h-1zM887 245h1v1h-1zM568 246h1v1h-1zM601 246h1v1h-1zM611 246h1v1h-1zM887 246h1v1h-1zM569 247h1v1h-1zM601 247h1v1h-1zM611 247h1v1h-1zM886 247h1v1h-1zM570 248h2v1h-2zM600 248h1v1h-1zM612 248h1v1h-1zM885 248h1v1h-1zM572 249h1v1h-1zM599 249h1v1h-1zM613 249h1v1h-1zM885 249h1v1h-1zM573 250h1v1h-1zM598 250h1v1h-1zM614 250h1v1h-1zM884 250h1v1h-1zM573 251h1v1h-1zM598 251h1v1h-1zM615 251h1v1h-1zM883 251h1v1h-1zM574 252h1v1h-1zM597 252h1v1h-1zM616 252h1v1h-1zM883 252h1v1h-1zM574 253h1v1h-1zM596 253h1v1h-1zM616 253h1v1h-1zM882 253h1v1h-1zM575 254h1v1h-1zM596 254h1v1h-1zM616 254h1v1h-1zM882 254h1v1h-1zM575 255h1v1h-1zM595 255h1v1h-1zM617 255h1v1h-1zM881 255h1v1h-1zM576 256h1v1h-1zM595 256h1v1h-1zM617 256h1v1h-1zM881 256h1v1h-1zM576 257h1v1h-1zM594 257h1v1h-1zM617 257h1v1h-1zM878 257h3v1h-3zM577 258h1v1h-1zM594 258h1v1h-1zM617 258h1v1h-1zM875 258h3v1h-3zM578 259h1v1h-1zM593 259h1v1h-1zM618 259h1v1h-1zM866 259h4v1h-4zM873 259h2v1h-2zM578 260h1v1h-1zM593 260h1v1h-1zM618 260h1v1h-1zM864 260h2v1h-2zM870 260h3v1h-3zM579 261h1v1h-1zM591 261h2v1h-2zM618 261h1v1h-1zM863 261h1v1h-1zM580 262h1v1h-1zM589 262h2v1h-2zM618 262h1v1h-1zM862 262h1v1h-1zM581 263h1v1h-1zM588 263h1v1h-1zM618 263h1v1h-1zM861 263h1v1h-1zM582 264h1v1h-1zM586 264h2v1h-2zM619 264h1v1h-1zM860 264h1v1h-1zM583 265h1v1h-1zM585 265h1v1h-1zM619 265h1v1h-1zM860 265h1v1h-1zM584 266h1v1h-1zM619 266h1v1h-1zM859 266h1v1h-1zM619 267h1v1h-1zM859 267h1v1h-1zM620 268h1v1h-1zM858 268h1v1h-1zM620 269h1v1h-1zM858 269h1v1h-1zM620 270h1v1h-1zM828 270h1v1h-1zM857 270h1v1h-1zM620 271h1v1h-1zM827 271h1v1h-1zM829 271h2v1h-2zM857 271h1v1h-1zM620 272h1v1h-1zM826 272h1v1h-1zM831 272h2v1h-2zM856 272h1v1h-1zM621 273h1v1h-1zM825 273h1v1h-1zM833 273h1v1h-1zM856 273h1v1h-1zM621 274h1v1h-1zM822 274h3v1h-3zM833 274h1v1h-1zM855 274h1v1h-1zM621 275h1v1h-1zM791 275h2v1h-2zM820 275h2v1h-2zM834 275h1v1h-1zM855 275h1v1h-1zM621 276h1v1h-1zM789 276h2v1h-2zM793 276h1v1h-1zM819 276h1v1h-1zM835 276h1v1h-1zM854 276h1v1h-1zM621 277h1v1h-1zM788 277h1v1h-1zM794 277h2v1h-2zM819 277h1v1h-1zM835 277h1v1h-1zM854 277h1v1h-1zM621 278h1v1h-1zM787 278h1v1h-1zM796 278h1v1h-1zM818 278h1v1h-1zM836 278h1v1h-1zM853 278h1v1h-1zM622 279h1v1h-1zM787 279h1v1h-1zM797 279h1v1h-1zM817 279h1v1h-1zM837 279h1v1h-1zM853 279h1v1h-1zM622 280h1v1h-1zM786 280h1v1h-1zM798 280h1v1h-1zM817 280h1v1h-1zM838 280h1v1h-1zM852 280h1v1h-1zM622 281h1v1h-1zM786 281h1v1h-1zM799 281h1v1h-1zM816 281h1v1h-1zM838 281h1v1h-1zM851 281h1v1h-1zM622 282h1v1h-1zM785 282h1v1h-1zM800 282h1v1h-1zM815 282h1v1h-1zM839 282h1v1h-1zM851 282h1v1h-1zM622 283h1v1h-1zM785 283h1v1h-1zM801 283h1v1h-1zM815 283h1v1h-1zM840 283h1v1h-1zM850 283h1v1h-1zM622 284h1v1h-1zM784 284h1v1h-1zM802 284h1v1h-1zM814 284h1v1h-1zM841 284h1v1h-1zM849 284h1v1h-1zM623 285h1v1h-1zM783 285h1v1h-1zM803 285h1v1h-1zM813 285h1v1h-1zM842 285h2v1h-2zM849 285h1v1h-1zM623 286h1v1h-1zM783 286h1v1h-1zM804 286h1v1h-1zM813 286h1v1h-1zM844 286h5v1h-5zM623 287h1v1h-1zM782 287h1v1h-1zM805 287h1v1h-1zM812 287h1v1h-1zM623 288h1v1h-1zM782 288h1v1h-1zM806 288h1v1h-1zM811 288h1v1h-1zM623 289h1v1h-1zM781 289h1v1h-1zM806 289h1v1h-1zM810 289h1v1h-1zM623 290h1v1h-1zM781 290h1v1h-1zM807 290h1v1h-1zM809 290h1v1h-1zM624 291h1v1h-1zM780 291h1v1h-1zM808 291h1v1h-1zM624 292h1v1h-1zM780 292h1v1h-1zM624 293h1v1h-1zM779 293h1v1h-1zM624 294h1v1h-1zM779 294h1v1h-1zM624 295h1v1h-1zM778 295h1v1h-1zM624 296h1v1h-1zM778 296h1v1h-1zM625 297h1v1h-1zM777 297h1v1h-1zM625 298h1v1h-1zM777 298h1v1h-1zM625 299h1v1h-1zM776 299h1v1h-1zM625 300h1v1h-1zM776 300h1v1h-1zM625 301h1v1h-1zM776 301h1v1h-1zM625 302h1v1h-1zM775 302h1v1h-1zM626 303h1v1h-1zM775 303h1v1h-1zM626 304h1v1h-1zM774 304h1v1h-1zM626 305h1v1h-1zM774 305h1v1h-1zM626 306h1v1h-1zM734 306h3v1h-3zM773 306h1v1h-1zM626 307h1v1h-1zM732 307h2v1h-2zM737 307h2v1h-2zM773 307h1v1h-1zM626 308h1v1h-1zM732 308h1v1h-1zM739 308h7v1h-7zM772 308h1v1h-1zM627 309h1v1h-1zM731 309h1v1h-1zM746 309h4v1h-4zM766 309h7v1h-7zM627 310h1v1h-1zM731 310h1v1h-1zM750 310h3v1h-3zM763 310h3v1h-3zM627 311h1v1h-1zM730 311h1v1h-1zM753 311h1v1h-1zM761 311h2v1h-2zM627 312h1v1h-1zM730 312h1v1h-1zM754 312h2v1h-2zM758 312h3v1h-3zM627 313h1v1h-1zM729 313h1v1h-1zM756 313h2v1h-2zM627 314h1v1h-1zM729 314h1v1h-1zM628 315h1v1h-1zM728 315h1v1h-1zM628 316h1v1h-1zM728 316h1v1h-1zM628 317h1v1h-1zM728 317h1v1h-1zM628 318h1v1h-1zM727 318h1v1h-1zM628 319h1v1h-1zM727 319h1v1h-1zM628 320h1v1h-1zM726 320h1v1h-1zM629 321h1v1h-1zM726 321h1v1h-1zM629 322h1v1h-1zM726 322h1v1h-1zM629 323h1v1h-1zM725 323h1v1h-1zM629 324h1v1h-1zM725 324h1v1h-1zM630 325h1v1h-1zM724 325h1v1h-1zM630 326h1v1h-1zM724 326h1v1h-1zM630 327h1v1h-1zM724 327h1v1h-1zM630 328h1v1h-1zM723 328h1v1h-1zM631 329h1v1h-1zM723 329h1v1h-1zM631 330h1v1h-1zM723 330h1v1h-1zM631 331h1v1h-1zM722 331h1v1h-1zM631 332h1v1h-1zM722 332h1v1h-1zM632 333h1v1h-1zM722 333h1v1h-1zM632 334h1v1h-1zM722 334h1v1h-1zM632 335h1v1h-1zM721 335h1v1h-1zM632 336h1v1h-1zM721 336h1v1h-1zM632 337h1v1h-1zM721 337h1v1h-1zM632 338h1v1h-1zM720 338h1v1h-1zM633 339h1v1h-1zM720 339h1v1h-1zM633 340h1v1h-1zM720 340h1v1h-1zM633 341h1v1h-1zM720 341h1v1h-1zM633 342h1v1h-1zM719 342h1v1h-1zM633 343h1v1h-1zM719 343h1v1h-1zM633 344h1v1h-1zM719 344h1v1h-1zM634 345h1v1h-1zM719 345h1v1h-1zM634 346h1v1h-1zM718 346h1v1h-1zM634 347h1v1h-1zM718 347h1v1h-1zM634 348h1v1h-1zM718 348h1v1h-1zM634 349h1v1h-1zM718 349h1v1h-1zM634 350h1v1h-1zM717 350h1v1h-1zM634 351h1v1h-1zM717 351h1v1h-1zM635 352h1v1h-1zM717 352h1v1h-1zM635 353h1v1h-1zM717 353h1v1h-1zM635 354h1v1h-1zM716 354h1v1h-1zM635 355h1v1h-1zM716 355h1v1h-1zM635 356h1v1h-1zM716 356h1v1h-1zM635 357h1v1h-1zM716 357h1v1h-1zM636 358h1v1h-1zM715 358h1v1h-1zM636 359h1v1h-1zM715 359h1v1h-1zM636 360h1v1h-1zM688 360h1v1h-1zM715 360h1v1h-1zM636 361h1v1h-1zM686 361h2v1h-2zM689 361h1v1h-1zM715 361h1v1h-1zM636 362h1v1h-1zM685 362h1v1h-1zM690 362h1v1h-1zM714 362h1v1h-1zM636 363h1v1h-1zM684 363h1v1h-1zM691 363h1v1h-1zM714 363h1v1h-1zM637 364h1v1h-1zM684 364h1v1h-1zM692 364h1v1h-1zM714 364h1v1h-1zM637 365h1v1h-1zM683 365h1v1h-1zM692 365h1v1h-1zM714 365h1v1h-1zM637 366h1v1h-1zM683 366h1v1h-1zM693 366h1v1h-1zM713 366h1v1h-1zM637 367h1v1h-1zM682 367h1v1h-1zM693 367h1v1h-1zM713 367h1v1h-1zM637 368h1v1h-1zM682 368h1v1h-1zM694 368h1v1h-1zM713 368h1v1h-1zM637 369h1v1h-1zM682 369h1v1h-1zM694 369h1v1h-1zM713 369h1v1h-1zM638 370h1v1h-1zM681 370h1v1h-1zM694 370h1v1h-1zM712 370h1v1h-1zM638 371h1v1h-1zM681 371h1v1h-1zM695 371h1v1h-1zM712 371h1v1h-1zM638 372h1v1h-1zM680 372h1v1h-1zM695 372h1v1h-1zM712 372h1v1h-1zM638 373h1v1h-1zM680 373h1v1h-1zM696 373h1v1h-1zM711 373h1v1h-1zM638 374h1v1h-1zM680 374h1v1h-1zM696 374h1v1h-1zM711 374h1v1h-1zM639 375h1v1h-1zM679 375h1v1h-1zM697 375h1v1h-1zM710 375h1v1h-1zM639 376h1v1h-1zM679 376h1v1h-1zM697 376h1v1h-1zM710 376h1v1h-1zM639 377h1v1h-1zM678 377h1v1h-1zM698 377h1v1h-1zM709 377h1v1h-1zM639 378h1v1h-1zM678 378h1v1h-1zM698 378h1v1h-1zM709 378h1v1h-1zM639 379h1v1h-1zM678 379h1v1h-1zM699 379h1v1h-1zM708 379h1v1h-1zM639 380h1v1h-1zM677 380h1v1h-1zM699 380h1v1h-1zM707 380h1v1h-1zM640 381h1v1h-1zM677 381h1v1h-1zM700 381h1v1h-1zM706 381h1v1h-1zM640 382h1v1h-1zM676 382h1v1h-1zM701 382h2v1h-2zM705 382h1v1h-1zM640 383h1v1h-1zM676 383h1v1h-1zM703 383h2v1h-2zM640 384h1v1h-1zM676 384h1v1h-1zM641 385h1v1h-1zM676 385h1v1h-1zM641 386h1v1h-1zM675 386h1v1h-1zM641 387h1v1h-1zM675 387h1v1h-1zM641 388h1v1h-1zM675 388h1v1h-1zM642 389h1v1h-1zM675 389h1v1h-1zM642 390h1v1h-1zM675 390h1v1h-1zM642 391h1v1h-1zM675 391h1v1h-1zM642 392h1v1h-1zM674 392h1v1h-1zM643 393h1v1h-1zM674 393h1v1h-1zM643 394h1v1h-1zM674 394h1v1h-1zM643 395h1v1h-1zM674 395h1v1h-1zM643 396h1v1h-1zM674 396h1v1h-1zM644 397h1v1h-1zM673 397h1v1h-1zM644 398h1v1h-1zM673 398h1v1h-1zM644 399h1v1h-1zM673 399h1v1h-1zM644 400h1v1h-1zM673 400h1v1h-1zM645 401h1v1h-1zM673 401h1v1h-1zM645 402h1v1h-1zM673 402h1v1h-1zM645 403h1v1h-1zM672 403h1v1h-1zM645 404h1v1h-1zM672 404h1v1h-1zM646 405h1v1h-1zM672 405h1v1h-1zM646 406h1v1h-1zM672 406h1v1h-1zM646 407h1v1h-1zM671 407h1v1h-1zM646 408h1v1h-1zM671 408h1v1h-1zM647 409h1v1h-1zM671 409h1v1h-1zM647 410h1v1h-1zM671 410h1v1h-1zM647 411h1v1h-1zM670 411h1v1h-1zM647 412h1v1h-1zM670 412h1v1h-1zM648 413h1v1h-1zM670 413h1v1h-1zM648 414h1v1h-1zM670 414h1v1h-1zM648 415h1v1h-1zM669 415h1v1h-1zM649 416h1v1h-1zM669 416h1v1h-1zM649 417h1v1h-1zM669 417h1v1h-1zM649 418h1v1h-1zM669 418h1v1h-1zM649 419h1v1h-1zM668 419h1v1h-1zM650 420h1v1h-1zM668 420h1v1h-1zM650 421h1v1h-1zM668 421h1v1h-1zM650 422h1v1h-1zM667 422h1v1h-1zM650 423h1v1h-1zM667 423h1v1h-1zM651 424h1v1h-1zM667 424h1v1h-1zM651 425h1v1h-1zM666 425h1v1h-1zM651 426h1v1h-1zM666 426h1v1h-1zM651 427h1v1h-1zM665 427h1v1h-1zM652 428h1v1h-1zM665 428h1v1h-1zM652 429h1v1h-1zM665 429h1v1h-1zM652 430h1v1h-1zM664 430h1v1h-1zM652 431h1v1h-1zM664 431h1v1h-1zM653 432h1v1h-1zM663 432h1v1h-1zM653 433h1v1h-1zM662 433h1v1h-1zM653 434h1v1h-1zM662 434h1v1h-1zM654 435h1v1h-1zM661 435h1v1h-1zM654 436h1v1h-1zM660 436h1v1h-1zM655 437h1v1h-1zM659 437h1v1h-1zM655 438h1v1h-1zM658 438h1v1h-1zM655 439h1v1h-1zM658 439h1v1h-1zM656 440h2v1h-2zM656 441h1v1h-1zM1066 148h1v1h-1zM1066 147h1v1h-1zM1067 146h1v1h-1zM1068 145h1v1h-1zM1069 144h1v1h-1zM1069 143h1v1h-1zM1070 142h1v1h-1zM1070 141h1v1h-1zM1071 140h1v1h-1zM1071 139h1v1h-1zM1072 138h1v1h-1zM1072 137h1v1h-1zM1073 136h1v1h-1zM1073 135h1v1h-1zM1074 134h1v1h-1zM1074 133h1v1h-1zM1075 132h1v1h-1zM1075 131h1v1h-1zM1076 130h1v1h-1zM1077 129h1v1h-1zM1078 128h1v1h-1zM1078 127h1v1h-1zM1079 126h1v1h-1zM1080 125h1v1h-1zM1081 124h1v1h-1zM1082 123h1v1h-1zM1083 122h1v1h-1zM1084 121h2v1h-2zM1086 120h4v1h-4zM1090 119h4v1h-4zM1094 118h3v1h-3zM1097 117h1v1h-1zM1098 116h2v1h-2zM1100 115h1v1h-1zM1114 115h3v1h-3zM1101 114h2v1h-2zM1111 114h3v1h-3zM1117 114h1v1h-1zM1103 113h3v1h-3zM1109 113h2v1h-2zM1118 113h2v1h-2zM1106 112h3v1h-3zM1120 112h1v1h-1zM1121 111h1v1h-1zM1144 111h2v1h-2zM1122 110h1v1h-1zM1143 110h1v1h-1zM1146 110h8v1h-8zM1123 109h1v1h-1zM1142 109h1v1h-1zM1154 109h3v1h-3zM1124 108h5v1h-5zM1141 108h1v1h-1zM1157 108h2v1h-2zM1188 108h1v1h-1zM1129 107h1v1h-1zM1139 107h2v1h-2zM1159 107h2v1h-2zM1186 107h2v1h-2zM1189 107h2v1h-2zM1130 106h2v1h-2zM1137 106h2v1h-2zM1161 106h1v1h-1zM1185 106h1v1h-1zM1191 106h2v1h-2zM1132 105h5v1h-5zM1162 105h1v1h-1zM1184 105h1v1h-1zM1193 105h1v1h-1zM1163 104h1v1h-1zM1182 104h2v1h-2zM1194 104h1v1h-1zM1164 103h1v1h-1zM1181 103h1v1h-1zM1194 103h1v1h-1zM1165 102h1v1h-1zM1179 102h2v1h-2zM1195 102h1v1h-1zM1166 101h2v1h-2zM1177 101h2v1h-2zM1196 101h1v1h-1zM1168 100h2v1h-2zM1174 100h3v1h-3zM1196 100h1v1h-1zM1170 99h4v1h-4zM1197 99h1v1h-1zM1197 98h1v1h-1zM1198 97h1v1h-1zM1198 96h1v1h-1zM1199 95h1v1h-1zM1199 94h1v1h-1zM1200 93h1v1h-1zM1200 92h1v1h-1zM1200 91h1v1h-1zM1201 90h1v1h-1zM1201 89h1v1h-1zM1202 88h1v1h-1zM1202 87h1v1h-1zM1203 86h1v1h-1zM1203 85h1v1h-1zM1204 84h1v1h-1zM1250 84h3v1h-3zM1204 83h1v1h-1zM1236 83h6v1h-6zM1246 83h4v1h-4zM1253 83h1v1h-1zM1204 82h1v1h-1zM1235 82h1v1h-1zM1242 82h4v1h-4zM1254 82h2v1h-2zM1205 81h1v1h-1zM1234 81h1v1h-1zM1256 81h1v1h-1zM1205 80h1v1h-1zM1234 80h1v1h-1zM1257 80h2v1h-2zM1205 79h1v1h-1zM1233 79h1v1h-1zM1259 79h2v1h-2zM1206 78h1v1h-1zM1232 78h1v1h-1zM1261 78h2v1h-2zM1206 77h1v1h-1zM1230 77h2v1h-2zM1263 77h3v1h-3zM1207 76h1v1h-1zM1229 76h1v1h-1zM1266 76h3v1h-3zM1207 75h1v1h-1zM1228 75h1v1h-1zM1207 74h1v1h-1zM1227 74h1v1h-1zM1208 73h1v1h-1zM1226 73h1v1h-1zM1208 72h1v1h-1zM1226 72h1v1h-1zM1209 71h1v1h-1zM1225 71h1v1h-1zM1209 70h1v1h-1zM1224 70h1v1h-1zM1210 69h1v1h-1zM1223 69h1v1h-1zM1210 68h1v1h-1zM1222 68h1v1h-1zM1211 67h1v1h-1zM1221 67h1v1h-1zM1211 66h1v1h-1zM1220 66h1v1h-1zM1212 65h1v1h-1zM1219 65h1v1h-1zM1213 64h1v1h-1zM1218 64h1v1h-1zM1214 63h2v1h-2zM1217 63h1v1h-1zM1216 62h1v1h-1z" fill="#ffa500"/>
</g>
<rect x="4" y="50" width="1593" height="2" fill="#ff0000"/>
<rect x="3" y="48" width="6" height="6" fill="#ff0000"/>
<rect x="5" y="50" width="2" height="2" fill="#ffffff"/>
<rect x="1590" y="48" width="6" height="6" fill="#ff0000"/>
<rect x="1592" y="50" width="2" height="2" fill="#ffffff"/>
<rect x="4" y="74" width="1593" height="2" fill="#ff0000"/>
<rect x="3" y="72" width="6" height="6" fill="#ff0000"/>
<rect x="5" y="74" width="2" height="2" fill="#ffffff"/>
<rect x="1590" y="72" width="6" height="6" fill="#ff0000"/>
<rect x="1592" y="74" width="2" height="2" fill="#ffffff"/>
<rect x="4" y="99" width="1593" height="2" fill="#00ff00"/>
<rect x="3" y="97" width="6" height="6" fill="#00ff00"/>
<rect x="5" y="99" width="2" height="2" fill="#ffffff"/>
<rect x="1590" y="97" width="6" height="6" fill="#00ff00"/>
<rect x="1592" y="99" width="2" height="2" fill="#ffffff"/>
<rect x="4" y="124" width="1593" height="2" fill="#0000ff"/>
<rect x="3" y="122" width="6" height="6" fill="#0000ff"/>
<rect x="5" y="124" width="2" height="2" fill="#ffffff"/>
<rect x="1590" y="122" width="6" height="6" fill="#0000ff"/>
<rect x="1592" y="124" width="2" height="2" fill="#ffffff"/>
<rect x="4" y="148" width="1593" height="2" fill="#0000ff"/>
<rect x="3" y="146" width="6" height="6" fill="#0000ff"/>
<rect x="5" y="148" width="2" height="2" fill="#ffffff"/>
<rect x="1590" y="146" width="6" height="6" fill="#0000ff"/>
<rect x="1592" y="148" width="2" height="2" fill="#ffffff"/>
<rect x="4" y="172" width="1593" height="2" fill="#0000ff"/>
<rect x="1597" y="30" width="2" height="1" fill="#000"/>
<text x="1601.5" y="33.6" fill="#000" font-size="9.3" text-anchor="start" stroke="#000" stroke-width="0.2">0.74880</text>
<rect x="1597" y="63" width="2" height="1" fill="#000"/>
<text x="1601.5" y="66.6" fill="#000" font-size="9.3" text-anchor="start" stroke="#000" stroke-width="0.2">0.73520</text>
<rect x="1597" y="96" width="2" height="1" fill="#000"/>
<text x="1601.5" y="99.6" fill="#000" font-size="9.3" text-anchor="start" stroke="#000" stroke-width="0.2">0.72180</text>
<rect x="1597" y="129" width="2" height="1" fill="#000"/>
<text x="1601.5" y="132.6" fill="#000" font-size="9.3" text-anchor="start" stroke="#000" stroke-width="0.2">0.70840</text>
<rect x="1597" y="162" width="2" height="1" fill="#000"/>
<text x="1601.5" y="165.6" fill="#000" font-size="9.3" text-anchor="start" stroke="#000" stroke-width="0.2">0.69480</text>
<rect x="1597" y="195" width="2" height="1" fill="#000"/>
<text x="1601.5" y="198.6" fill="#000" font-size="9.3" text-anchor="start" stroke="#000" stroke-width="0.2">0.68160</text>
<rect x="1597" y="228" width="2" height="1" fill="#000"/>
<text x="1601.5" y="231.6" fill="#000" font-size="9.3" text-anchor="start" stroke="#000" stroke-width="0.2">0.66800</text>
<rect x="1597" y="261" width="2" height="1" fill="#000"/>
<text x="1601.5" y="264.6" fill="#000" font-size="9.3" text-anchor="start" stroke="#000" stroke-width="0.2">0.65440</text>
<rect x="1597" y="294" width="2" height="1" fill="#000"/>
<text x="1601.5" y="297.6" fill="#000" font-size="9.3" text-anchor="start" stroke="#000" stroke-width="0.2">0.64120</text>
<rect x="1597" y="327" width="2" height="1" fill="#000"/>
<text x="1601.5" y="330.6" fill="#000" font-size="9.3" text-anchor="start" stroke="#000" stroke-width="0.2">0.62760</text>
<rect x="1597" y="360" width="2" height="1" fill="#000"/>
<text x="1601.5" y="363.6" fill="#000" font-size="9.3" text-anchor="start" stroke="#000" stroke-width="0.2">0.61440</text>
<rect x="1597" y="393" width="2" height="1" fill="#000"/>
<text x="1601.5" y="396.6" fill="#000" font-size="9.3" text-anchor="start" stroke="#000" stroke-width="0.2">0.60080</text>
<rect x="1597" y="426" width="2" height="1" fill="#000"/>
<text x="1601.5" y="429.6" fill="#000" font-size="9.3" text-anchor="start" stroke="#000" stroke-width="0.2">0.58720</text>
<rect x="1597" y="459" width="2" height="1" fill="#000"/>
<text x="1601.5" y="462.6" fill="#000" font-size="9.3" text-anchor="start" stroke="#000" stroke-width="0.2">0.57400</text>
<rect x="1597" y="492" width="2" height="1" fill="#000"/>
<text x="1601.5" y="495.6" fill="#000" font-size="9.3" text-anchor="start" stroke="#000" stroke-width="0.2">0.56040</text>
<rect x="1597" y="525" width="2" height="1" fill="#000"/>
<text x="1601.5" y="528.6" fill="#000" font-size="9.3" text-anchor="start" stroke="#000" stroke-width="0.2">0.54720</text>
<rect x="1598" y="74" width="41" height="11" fill="#000"/>
<text x="1601.5" y="81.6" fill="#fff" font-size="9.3" text-anchor="start" stroke="#fff" stroke-width="0.1">0.72887</text>
<rect x="1598" y="45" width="41" height="11" fill="#ff0000"/>
<text x="1601.5" y="53.6" fill="#fff" font-size="9.3" text-anchor="start" stroke="#fff" stroke-width="0.1">0.74021</text>
<rect x="1598" y="69" width="41" height="11" fill="#ff0000"/>
<text x="1601.5" y="77.6" fill="#fff" font-size="9.3" text-anchor="start" stroke="#fff" stroke-width="0.1">0.73033</text>
<rect x="1598" y="94" width="41" height="11" fill="#00ff00"/>
<text x="1601.5" y="102.6" fill="#fff" font-size="9.3" text-anchor="start" stroke="#fff" stroke-width="0.1">0.72022</text>
<rect x="1598" y="119" width="41" height="11" fill="#0000ff"/>
<text x="1601.5" y="127.6" fill="#fff" font-size="9.3" text-anchor="start" stroke="#fff" stroke-width="0.1">0.71010</text>
<rect x="1598" y="143" width="41" height="11" fill="#0000ff"/>
<text x="1601.5" y="151.6" fill="#fff" font-size="9.3" text-anchor="start" stroke="#fff" stroke-width="0.1">0.69999</text>
<rect x="1598" y="167" width="41" height="11" fill="#0000ff"/>
<text x="1601.5" y="175.6" fill="#fff" font-size="9.3" text-anchor="start" stroke="#fff" stroke-width="0.1">0.69025</text>
<line x1="5" y1="558.5" x2="1596" y2="558.5" stroke="#c0c0c0" stroke-width="1" stroke-dasharray="3,3" shape-rendering="crispEdges"/>
<line x1="5" y1="594.5" x2="1596" y2="594.5" stroke="#c0c0c0" stroke-width="1" stroke-dasharray="3,3" shape-rendering="crispEdges"/>
<path d="M4 565h1v1h-1zM122 565h3v1h-3zM133 565h1v1h-1zM159 565h2v1h-2zM182 565h3v1h-3zM306 565h1v1h-1zM310 565h1v1h-1zM320 565h1v1h-1zM341 565h2v1h-2zM383 565h1v1h-1zM726 565h3v1h-3zM733 565h1v1h-1zM775 565h1v1h-1zM789 565h1v1h-1zM814 565h2v1h-2zM817 565h2v1h-2zM852 565h1v1h-1zM858 565h1v1h-1zM875 565h1v1h-1zM877 565h1v1h-1zM883 565h1v1h-1zM885 565h2v1h-2zM890 565h3v1h-3zM932 565h1v1h-1zM970 565h1v1h-1zM973 565h1v1h-1zM1008 565h5v1h-5zM1026 565h2v1h-2zM1030 565h3v1h-3zM1039 565h1v1h-1zM1041 565h2v1h-2zM1045 565h1v1h-1zM1051 565h3v1h-3zM1111 565h1v1h-1zM1114 565h1v1h-1zM1127 565h1v1h-1zM1157 565h1v1h-1zM1170 565h1v1h-1zM1192 565h1v1h-1zM1217 565h1v1h-1zM5 566h1v1h-1zM119 566h3v1h-3zM134 566h2v1h-2zM157 566h2v1h-2zM185 566h2v1h-2zM306 566h1v1h-1zM311 566h1v1h-1zM318 566h2v1h-2zM321 566h1v1h-1zM336 566h5v1h-5zM383 566h1v1h-1zM719 566h7v1h-7zM734 566h1v1h-1zM752 566h1v1h-1zM774 566h1v1h-1zM790 566h1v1h-1zM813 566h1v1h-1zM819 566h2v1h-2zM850 566h2v1h-2zM858 566h1v1h-1zM874 566h1v1h-1zM878 566h1v1h-1zM883 566h1v1h-1zM887 566h3v1h-3zM933 566h1v1h-1zM948 566h5v1h-5zM969 566h1v1h-1zM974 566h1v1h-1zM1006 566h2v1h-2zM1028 566h2v1h-2zM1033 566h1v1h-1zM1038 566h1v1h-1zM1043 566h2v1h-2zM1111 566h1v1h-1zM1113 566h1v1h-1zM1128 566h1v1h-1zM1154 566h3v1h-3zM1170 566h1v1h-1zM1191 566h1v1h-1zM1218 566h1v1h-1zM1264 566h1v1h-1zM6 567h1v1h-1zM117 567h2v1h-2zM136 567h1v1h-1zM156 567h1v1h-1zM187 567h2v1h-2zM279 567h2v1h-2zM305 567h1v1h-1zM311 567h1v1h-1zM317 567h1v1h-1zM321 567h1v1h-1zM334 567h2v1h-2zM383 567h1v1h-1zM717 567h2v1h-2zM734 567h1v1h-1zM750 567h3v1h-3zM774 567h1v1h-1zM790 567h1v1h-1zM812 567h1v1h-1zM821 567h1v1h-1zM849 567h1v1h-1zM859 567h1v1h-1zM873 567h1v1h-1zM878 567h1v1h-1zM882 567h1v1h-1zM934 567h1v1h-1zM946 567h2v1h-2zM953 567h1v1h-1zM968 567h1v1h-1zM974 567h1v1h-1zM1005 567h1v1h-1zM1034 567h2v1h-2zM1037 567h1v1h-1zM1112 567h1v1h-1zM1128 567h2v1h-2zM1142 567h12v1h-12zM1171 567h1v1h-1zM1191 567h1v1h-1zM1218 567h1v1h-1zM1263 567h1v1h-1zM1265 567h1v1h-1zM7 568h1v1h-1zM116 568h1v1h-1zM137 568h1v1h-1zM154 568h2v1h-2zM189 568h1v1h-1zM277 568h2v1h-2zM281 568h1v1h-1zM305 568h1v1h-1zM312 568h5v1h-5zM322 568h1v1h-1zM333 568h1v1h-1zM384 568h1v1h-1zM716 568h1v1h-1zM735 568h1v1h-1zM749 568h1v1h-1zM753 568h1v1h-1zM764 568h2v1h-2zM773 568h1v1h-1zM791 568h1v1h-1zM811 568h1v1h-1zM822 568h1v1h-1zM848 568h1v1h-1zM860 568h1v1h-1zM873 568h1v1h-1zM879 568h1v1h-1zM881 568h1v1h-1zM935 568h1v1h-1zM945 568h1v1h-1zM954 568h1v1h-1zM966 568h2v1h-2zM975 568h1v1h-1zM999 568h6v1h-6zM1036 568h1v1h-1zM1130 568h12v1h-12zM1171 568h1v1h-1zM1190 568h1v1h-1zM1219 568h1v1h-1zM1228 568h5v1h-5zM1262 568h1v1h-1zM1265 568h1v1h-1zM8 569h1v1h-1zM116 569h1v1h-1zM137 569h1v1h-1zM153 569h1v1h-1zM189 569h1v1h-1zM276 569h1v1h-1zM281 569h1v1h-1zM304 569h1v1h-1zM322 569h1v1h-1zM332 569h1v1h-1zM384 569h5v1h-5zM715 569h1v1h-1zM735 569h1v1h-1zM743 569h6v1h-6zM753 569h1v1h-1zM763 569h1v1h-1zM766 569h7v1h-7zM791 569h1v1h-1zM804 569h1v1h-1zM810 569h1v1h-1zM822 569h1v1h-1zM827 569h2v1h-2zM848 569h1v1h-1zM861 569h1v1h-1zM870 569h3v1h-3zM879 569h1v1h-1zM881 569h1v1h-1zM936 569h9v1h-9zM955 569h1v1h-1zM965 569h1v1h-1zM975 569h1v1h-1zM997 569h2v1h-2zM1171 569h1v1h-1zM1189 569h1v1h-1zM1219 569h1v1h-1zM1226 569h2v1h-2zM1232 569h1v1h-1zM1256 569h2v1h-2zM1261 569h1v1h-1zM1266 569h1v1h-1zM9 570h1v1h-1zM115 570h1v1h-1zM138 570h1v1h-1zM151 570h2v1h-2zM190 570h1v1h-1zM275 570h1v1h-1zM282 570h1v1h-1zM304 570h1v1h-1zM323 570h1v1h-1zM330 570h2v1h-2zM389 570h1v1h-1zM714 570h1v1h-1zM736 570h2v1h-2zM741 570h2v1h-2zM754 570h1v1h-1zM762 570h1v1h-1zM792 570h1v1h-1zM802 570h2v1h-2zM805 570h1v1h-1zM810 570h1v1h-1zM823 570h1v1h-1zM825 570h2v1h-2zM829 570h1v1h-1zM847 570h1v1h-1zM862 570h1v1h-1zM867 570h3v1h-3zM880 570h1v1h-1zM956 570h9v1h-9zM976 570h1v1h-1zM996 570h1v1h-1zM1172 570h1v1h-1zM1189 570h1v1h-1zM1220 570h1v1h-1zM1225 570h1v1h-1zM1233 570h1v1h-1zM1254 570h2v1h-2zM1258 570h3v1h-3zM1267 570h1v1h-1zM10 571h2v1h-2zM96 571h2v1h-2zM115 571h1v1h-1zM138 571h1v1h-1zM149 571h2v1h-2zM191 571h1v1h-1zM274 571h1v1h-1zM283 571h1v1h-1zM290 571h4v1h-4zM303 571h1v1h-1zM323 571h1v1h-1zM329 571h1v1h-1zM390 571h1v1h-1zM713 571h1v1h-1zM738 571h3v1h-3zM754 571h1v1h-1zM761 571h1v1h-1zM792 571h2v1h-2zM801 571h1v1h-1zM806 571h2v1h-2zM809 571h1v1h-1zM824 571h1v1h-1zM830 571h2v1h-2zM847 571h1v1h-1zM863 571h1v1h-1zM865 571h2v1h-2zM976 571h2v1h-2zM994 571h2v1h-2zM1172 571h1v1h-1zM1183 571h6v1h-6zM1220 571h5v1h-5zM1233 571h1v1h-1zM1242 571h3v1h-3zM1253 571h1v1h-1zM1267 571h1v1h-1zM12 572h1v1h-1zM95 572h1v1h-1zM98 572h3v1h-3zM115 572h1v1h-1zM139 572h1v1h-1zM143 572h6v1h-6zM191 572h1v1h-1zM274 572h1v1h-1zM283 572h1v1h-1zM286 572h4v1h-4zM294 572h3v1h-3zM303 572h1v1h-1zM324 572h1v1h-1zM326 572h3v1h-3zM390 572h1v1h-1zM711 572h2v1h-2zM755 572h1v1h-1zM760 572h1v1h-1zM794 572h7v1h-7zM808 572h1v1h-1zM832 572h1v1h-1zM846 572h1v1h-1zM864 572h1v1h-1zM978 572h4v1h-4zM986 572h4v1h-4zM993 572h1v1h-1zM1173 572h1v1h-1zM1181 572h2v1h-2zM1234 572h1v1h-1zM1240 572h2v1h-2zM1245 572h2v1h-2zM1250 572h3v1h-3zM1268 572h1v1h-1zM13 573h2v1h-2zM94 573h1v1h-1zM101 573h1v1h-1zM114 573h1v1h-1zM139 573h1v1h-1zM141 573h2v1h-2zM192 573h1v1h-1zM273 573h1v1h-1zM284 573h2v1h-2zM297 573h1v1h-1zM302 573h1v1h-1zM324 573h2v1h-2zM391 573h1v1h-1zM709 573h2v1h-2zM755 573h1v1h-1zM758 573h2v1h-2zM833 573h1v1h-1zM846 573h1v1h-1zM982 573h4v1h-4zM990 573h3v1h-3zM1174 573h2v1h-2zM1178 573h3v1h-3zM1234 573h1v1h-1zM1239 573h1v1h-1zM1247 573h3v1h-3zM15 574h2v1h-2zM94 574h1v1h-1zM102 574h2v1h-2zM114 574h1v1h-1zM140 574h1v1h-1zM193 574h1v1h-1zM272 574h1v1h-1zM297 574h1v1h-1zM302 574h1v1h-1zM392 574h1v1h-1zM607 574h2v1h-2zM708 574h1v1h-1zM756 574h2v1h-2zM834 574h1v1h-1zM845 574h1v1h-1zM1176 574h2v1h-2zM1235 574h1v1h-1zM1238 574h1v1h-1zM17 575h1v1h-1zM93 575h1v1h-1zM104 575h1v1h-1zM113 575h1v1h-1zM194 575h2v1h-2zM272 575h1v1h-1zM298 575h1v1h-1zM301 575h1v1h-1zM392 575h1v1h-1zM605 575h2v1h-2zM608 575h1v1h-1zM707 575h1v1h-1zM756 575h1v1h-1zM835 575h1v1h-1zM845 575h1v1h-1zM1235 575h1v1h-1zM1238 575h1v1h-1zM17 576h1v1h-1zM92 576h1v1h-1zM105 576h1v1h-1zM113 576h1v1h-1zM196 576h5v1h-5zM271 576h1v1h-1zM299 576h1v1h-1zM301 576h1v1h-1zM393 576h1v1h-1zM603 576h2v1h-2zM608 576h1v1h-1zM706 576h1v1h-1zM836 576h2v1h-2zM842 576h3v1h-3zM1236 576h2v1h-2zM18 577h1v1h-1zM92 577h1v1h-1zM106 577h2v1h-2zM113 577h1v1h-1zM201 577h2v1h-2zM271 577h1v1h-1zM299 577h2v1h-2zM393 577h1v1h-1zM408 577h10v1h-10zM422 577h4v1h-4zM601 577h2v1h-2zM609 577h1v1h-1zM676 577h1v1h-1zM706 577h1v1h-1zM838 577h4v1h-4zM1236 577h1v1h-1zM18 578h1v1h-1zM74 578h3v1h-3zM91 578h1v1h-1zM108 578h2v1h-2zM112 578h1v1h-1zM203 578h2v1h-2zM228 578h1v1h-1zM271 578h1v1h-1zM300 578h1v1h-1zM394 578h1v1h-1zM408 578h1v1h-1zM418 578h4v1h-4zM426 578h3v1h-3zM600 578h1v1h-1zM609 578h1v1h-1zM674 578h2v1h-2zM677 578h2v1h-2zM705 578h1v1h-1zM19 579h1v1h-1zM71 579h3v1h-3zM77 579h1v1h-1zM91 579h1v1h-1zM110 579h3v1h-3zM205 579h2v1h-2zM226 579h2v1h-2zM229 579h1v1h-1zM271 579h1v1h-1zM394 579h1v1h-1zM407 579h1v1h-1zM429 579h1v1h-1zM588 579h2v1h-2zM598 579h2v1h-2zM609 579h1v1h-1zM673 579h1v1h-1zM679 579h6v1h-6zM704 579h1v1h-1zM19 580h1v1h-1zM69 580h2v1h-2zM78 580h1v1h-1zM90 580h1v1h-1zM207 580h2v1h-2zM225 580h1v1h-1zM230 580h1v1h-1zM270 580h1v1h-1zM394 580h1v1h-1zM407 580h1v1h-1zM430 580h2v1h-2zM520 580h1v1h-1zM588 580h1v1h-1zM590 580h4v1h-4zM597 580h1v1h-1zM609 580h1v1h-1zM672 580h1v1h-1zM685 580h2v1h-2zM703 580h1v1h-1zM20 581h1v1h-1zM36 581h1v1h-1zM68 581h1v1h-1zM79 581h1v1h-1zM90 581h1v1h-1zM208 581h1v1h-1zM216 581h9v1h-9zM230 581h1v1h-1zM270 581h1v1h-1zM395 581h1v1h-1zM406 581h1v1h-1zM432 581h2v1h-2zM519 581h1v1h-1zM521 581h2v1h-2zM587 581h1v1h-1zM594 581h3v1h-3zM610 581h1v1h-1zM671 581h1v1h-1zM687 581h2v1h-2zM703 581h1v1h-1zM20 582h1v1h-1zM35 582h1v1h-1zM37 582h1v1h-1zM68 582h1v1h-1zM80 582h1v1h-1zM89 582h1v1h-1zM209 582h1v1h-1zM216 582h1v1h-1zM231 582h1v1h-1zM270 582h1v1h-1zM395 582h1v1h-1zM406 582h1v1h-1zM434 582h3v1h-3zM518 582h1v1h-1zM523 582h2v1h-2zM587 582h1v1h-1zM610 582h1v1h-1zM670 582h1v1h-1zM689 582h1v1h-1zM702 582h1v1h-1zM21 583h1v1h-1zM34 583h1v1h-1zM37 583h1v1h-1zM48 583h1v1h-1zM67 583h1v1h-1zM81 583h1v1h-1zM89 583h1v1h-1zM209 583h1v1h-1zM215 583h1v1h-1zM232 583h1v1h-1zM270 583h1v1h-1zM396 583h1v1h-1zM405 583h1v1h-1zM437 583h2v1h-2zM518 583h1v1h-1zM525 583h1v1h-1zM587 583h1v1h-1zM610 583h1v1h-1zM670 583h1v1h-1zM690 583h2v1h-2zM702 583h1v1h-1zM22 584h1v1h-1zM34 584h1v1h-1zM38 584h1v1h-1zM46 584h2v1h-2zM49 584h2v1h-2zM67 584h1v1h-1zM82 584h2v1h-2zM86 584h3v1h-3zM209 584h1v1h-1zM215 584h1v1h-1zM233 584h2v1h-2zM269 584h1v1h-1zM396 584h2v1h-2zM405 584h1v1h-1zM439 584h3v1h-3zM517 584h1v1h-1zM526 584h2v1h-2zM534 584h3v1h-3zM587 584h1v1h-1zM610 584h1v1h-1zM669 584h1v1h-1zM692 584h1v1h-1zM701 584h1v1h-1zM22 585h1v1h-1zM33 585h1v1h-1zM39 585h1v1h-1zM45 585h1v1h-1zM51 585h2v1h-2zM67 585h1v1h-1zM84 585h2v1h-2zM210 585h1v1h-1zM214 585h1v1h-1zM235 585h3v1h-3zM242 585h3v1h-3zM254 585h3v1h-3zM269 585h1v1h-1zM398 585h4v1h-4zM404 585h1v1h-1zM442 585h3v1h-3zM516 585h1v1h-1zM528 585h6v1h-6zM537 585h1v1h-1zM586 585h1v1h-1zM611 585h1v1h-1zM668 585h1v1h-1zM693 585h2v1h-2zM701 585h1v1h-1zM23 586h1v1h-1zM31 586h2v1h-2zM39 586h1v1h-1zM42 586h3v1h-3zM53 586h2v1h-2zM66 586h1v1h-1zM210 586h1v1h-1zM214 586h1v1h-1zM238 586h4v1h-4zM245 586h1v1h-1zM251 586h3v1h-3zM257 586h1v1h-1zM269 586h1v1h-1zM402 586h3v1h-3zM445 586h1v1h-1zM452 586h1v1h-1zM516 586h1v1h-1zM538 586h2v1h-2zM586 586h1v1h-1zM611 586h1v1h-1zM616 586h1v1h-1zM667 586h1v1h-1zM695 586h6v1h-6zM24 587h2v1h-2zM29 587h2v1h-2zM40 587h2v1h-2zM55 587h2v1h-2zM66 587h1v1h-1zM211 587h1v1h-1zM214 587h1v1h-1zM246 587h2v1h-2zM249 587h2v1h-2zM258 587h2v1h-2zM269 587h1v1h-1zM446 587h1v1h-1zM450 587h2v1h-2zM453 587h1v1h-1zM515 587h1v1h-1zM540 587h1v1h-1zM586 587h1v1h-1zM611 587h1v1h-1zM615 587h2v1h-2zM667 587h1v1h-1zM26 588h3v1h-3zM57 588h1v1h-1zM66 588h1v1h-1zM211 588h1v1h-1zM213 588h1v1h-1zM248 588h1v1h-1zM260 588h6v1h-6zM268 588h1v1h-1zM447 588h1v1h-1zM449 588h1v1h-1zM454 588h2v1h-2zM496 588h2v1h-2zM515 588h1v1h-1zM541 588h1v1h-1zM585 588h1v1h-1zM611 588h1v1h-1zM614 588h1v1h-1zM617 588h1v1h-1zM666 588h1v1h-1zM58 589h1v1h-1zM65 589h1v1h-1zM211 589h1v1h-1zM213 589h1v1h-1zM266 589h3v1h-3zM448 589h1v1h-1zM456 589h2v1h-2zM495 589h1v1h-1zM498 589h3v1h-3zM514 589h1v1h-1zM542 589h1v1h-1zM585 589h1v1h-1zM612 589h1v1h-1zM614 589h1v1h-1zM617 589h1v1h-1zM665 589h1v1h-1zM58 590h1v1h-1zM65 590h1v1h-1zM212 590h1v1h-1zM458 590h3v1h-3zM494 590h1v1h-1zM501 590h1v1h-1zM514 590h1v1h-1zM543 590h1v1h-1zM585 590h1v1h-1zM612 590h2v1h-2zM617 590h1v1h-1zM665 590h1v1h-1zM59 591h1v1h-1zM65 591h1v1h-1zM212 591h1v1h-1zM461 591h1v1h-1zM494 591h1v1h-1zM501 591h1v1h-1zM514 591h1v1h-1zM544 591h1v1h-1zM585 591h1v1h-1zM612 591h1v1h-1zM618 591h1v1h-1zM663 591h2v1h-2zM60 592h2v1h-2zM64 592h1v1h-1zM461 592h1v1h-1zM493 592h1v1h-1zM502 592h1v1h-1zM513 592h1v1h-1zM545 592h1v1h-1zM580 592h2v1h-2zM584 592h1v1h-1zM618 592h1v1h-1zM661 592h2v1h-2zM62 593h3v1h-3zM462 593h1v1h-1zM492 593h1v1h-1zM503 593h1v1h-1zM513 593h1v1h-1zM546 593h1v1h-1zM580 593h1v1h-1zM582 593h3v1h-3zM619 593h1v1h-1zM660 593h1v1h-1zM125 564h2v1h-2zM130 564h3v1h-3zM161 564h2v1h-2zM178 564h4v1h-4zM307 564h1v1h-1zM309 564h1v1h-1zM343 564h2v1h-2zM351 564h2v1h-2zM382 564h1v1h-1zM729 564h2v1h-2zM733 564h1v1h-1zM776 564h2v1h-2zM789 564h1v1h-1zM816 564h1v1h-1zM853 564h2v1h-2zM857 564h1v1h-1zM875 564h1v1h-1zM877 564h1v1h-1zM884 564h1v1h-1zM893 564h1v1h-1zM932 564h1v1h-1zM971 564h1v1h-1zM973 564h1v1h-1zM1013 564h2v1h-2zM1025 564h1v1h-1zM1040 564h1v1h-1zM1046 564h2v1h-2zM1049 564h2v1h-2zM1054 564h8v1h-8zM1110 564h1v1h-1zM1115 564h1v1h-1zM1127 564h1v1h-1zM1158 564h1v1h-1zM1170 564h1v1h-1zM1193 564h1v1h-1zM1217 564h1v1h-1zM127 563h3v1h-3zM163 563h2v1h-2zM176 563h2v1h-2zM307 563h1v1h-1zM309 563h1v1h-1zM345 563h2v1h-2zM349 563h2v1h-2zM353 563h1v1h-1zM382 563h1v1h-1zM731 563h2v1h-2zM778 563h3v1h-3zM788 563h1v1h-1zM855 563h2v1h-2zM876 563h1v1h-1zM893 563h1v1h-1zM931 563h1v1h-1zM972 563h1v1h-1zM1015 563h10v1h-10zM1048 563h1v1h-1zM1062 563h3v1h-3zM1110 563h1v1h-1zM1116 563h1v1h-1zM1127 563h1v1h-1zM1158 563h1v1h-1zM1170 563h1v1h-1zM1194 563h1v1h-1zM1216 563h1v1h-1zM165 562h1v1h-1zM174 562h2v1h-2zM308 562h1v1h-1zM347 562h2v1h-2zM354 562h2v1h-2zM381 562h1v1h-1zM781 562h2v1h-2zM786 562h3v1h-3zM894 562h1v1h-1zM931 562h1v1h-1zM1064 562h1v1h-1zM1109 562h1v1h-1zM1117 562h1v1h-1zM1126 562h1v1h-1zM1159 562h1v1h-1zM1169 562h1v1h-1zM1195 562h1v1h-1zM1216 562h1v1h-1zM166 561h2v1h-2zM173 561h1v1h-1zM356 561h1v1h-1zM381 561h1v1h-1zM783 561h3v1h-3zM895 561h1v1h-1zM931 561h1v1h-1zM1065 561h1v1h-1zM1109 561h1v1h-1zM1117 561h1v1h-1zM1126 561h1v1h-1zM1160 561h1v1h-1zM1169 561h1v1h-1zM1196 561h1v1h-1zM1215 561h1v1h-1zM168 560h5v1h-5zM357 560h1v1h-1zM381 560h1v1h-1zM895 560h1v1h-1zM930 560h1v1h-1zM1065 560h1v1h-1zM1080 560h5v1h-5zM1107 560h2v1h-2zM1118 560h1v1h-1zM1125 560h1v1h-1zM1161 560h2v1h-2zM1169 560h1v1h-1zM1197 560h1v1h-1zM1215 560h1v1h-1zM358 559h1v1h-1zM380 559h1v1h-1zM896 559h1v1h-1zM930 559h1v1h-1zM1066 559h1v1h-1zM1080 559h1v1h-1zM1085 559h1v1h-1zM1100 559h2v1h-2zM1105 559h2v1h-2zM1119 559h1v1h-1zM1125 559h1v1h-1zM1163 559h3v1h-3zM1168 559h1v1h-1zM1197 559h1v1h-1zM1214 559h1v1h-1zM358 558h1v1h-1zM380 558h1v1h-1zM897 558h1v1h-1zM929 558h1v1h-1zM1066 558h1v1h-1zM1079 558h1v1h-1zM1086 558h2v1h-2zM1099 558h1v1h-1zM1102 558h3v1h-3zM1119 558h1v1h-1zM1125 558h1v1h-1zM1166 558h3v1h-3zM1198 558h1v1h-1zM1214 558h1v1h-1zM359 557h1v1h-1zM362 557h3v1h-3zM378 557h2v1h-2zM898 557h2v1h-2zM929 557h1v1h-1zM1066 557h1v1h-1zM1079 557h1v1h-1zM1088 557h1v1h-1zM1098 557h1v1h-1zM1120 557h2v1h-2zM1124 557h1v1h-1zM1198 557h1v1h-1zM1214 557h1v1h-1zM360 556h2v1h-2zM365 556h2v1h-2zM377 556h1v1h-1zM900 556h1v1h-1zM924 556h1v1h-1zM929 556h1v1h-1zM1067 556h1v1h-1zM1078 556h1v1h-1zM1089 556h2v1h-2zM1097 556h1v1h-1zM1122 556h3v1h-3zM1199 556h1v1h-1zM1213 556h1v1h-1zM367 555h2v1h-2zM375 555h2v1h-2zM901 555h2v1h-2zM922 555h2v1h-2zM925 555h2v1h-2zM928 555h1v1h-1zM1067 555h1v1h-1zM1078 555h1v1h-1zM1091 555h6v1h-6zM1199 555h1v1h-1zM1213 555h1v1h-1zM369 554h2v1h-2zM373 554h2v1h-2zM903 554h7v1h-7zM914 554h4v1h-4zM921 554h1v1h-1zM927 554h2v1h-2zM1068 554h1v1h-1zM1077 554h1v1h-1zM1200 554h2v1h-2zM1212 554h1v1h-1zM371 553h2v1h-2zM910 553h4v1h-4zM918 553h3v1h-3zM1068 553h1v1h-1zM1077 553h1v1h-1zM1202 553h4v1h-4zM1210 553h3v1h-3zM462 594h1v1h-1zM492 594h1v1h-1zM503 594h1v1h-1zM512 594h1v1h-1zM546 594h1v1h-1zM579 594h1v1h-1zM619 594h1v1h-1zM660 594h1v1h-1zM463 595h1v1h-1zM491 595h1v1h-1zM504 595h2v1h-2zM510 595h3v1h-3zM547 595h1v1h-1zM550 595h8v1h-8zM579 595h1v1h-1zM619 595h1v1h-1zM659 595h1v1h-1zM463 596h1v1h-1zM491 596h1v1h-1zM506 596h4v1h-4zM548 596h2v1h-2zM558 596h3v1h-3zM579 596h1v1h-1zM620 596h1v1h-1zM659 596h1v1h-1zM464 597h1v1h-1zM490 597h1v1h-1zM561 597h2v1h-2zM572 597h1v1h-1zM578 597h1v1h-1zM620 597h1v1h-1zM659 597h1v1h-1zM464 598h2v1h-2zM490 598h1v1h-1zM563 598h2v1h-2zM571 598h1v1h-1zM573 598h1v1h-1zM578 598h1v1h-1zM621 598h1v1h-1zM659 598h1v1h-1zM466 599h4v1h-4zM490 599h1v1h-1zM565 599h1v1h-1zM570 599h1v1h-1zM573 599h1v1h-1zM578 599h1v1h-1zM622 599h2v1h-2zM658 599h1v1h-1zM470 600h3v1h-3zM489 600h1v1h-1zM566 600h1v1h-1zM570 600h1v1h-1zM574 600h1v1h-1zM578 600h1v1h-1zM624 600h2v1h-2zM658 600h1v1h-1zM473 601h1v1h-1zM489 601h1v1h-1zM567 601h1v1h-1zM569 601h1v1h-1zM574 601h1v1h-1zM577 601h1v1h-1zM626 601h7v1h-7zM658 601h1v1h-1zM474 602h2v1h-2zM488 602h1v1h-1zM568 602h1v1h-1zM575 602h1v1h-1zM577 602h1v1h-1zM633 602h1v1h-1zM657 602h1v1h-1zM476 603h2v1h-2zM482 603h7v1h-7zM575 603h1v1h-1zM577 603h1v1h-1zM634 603h1v1h-1zM657 603h1v1h-1zM478 604h4v1h-4zM576 604h1v1h-1zM635 604h1v1h-1zM657 604h1v1h-1zM576 605h1v1h-1zM636 605h1v1h-1zM644 605h6v1h-6zM657 605h1v1h-1zM637 606h1v1h-1zM642 606h2v1h-2zM650 606h4v1h-4zM656 606h1v1h-1zM638 607h2v1h-2zM641 607h1v1h-1zM654 607h3v1h-3zM640 608h1v1h-1zM1069 552h2v1h-2zM1074 552h3v1h-3zM1206 552h4v1h-4zM1071 551h3v1h-3z" fill="#1e90ff"/>
<g shape-rendering="crispEdges">
<rect x="4" y="657" width="1" height="5" fill="#c0c0c0"/>
<rect x="8" y="657" width="1" height="5" fill="#c0c0c0"/>
<rect x="12" y="657" width="1" height="5" fill="#c0c0c0"/>
<rect x="16" y="657" width="1" height="5" fill="#c0c0c0"/>
<rect x="20" y="658" width="1" height="4" fill="#c0c0c0"/>
<rect x="24" y="659" width="1" height="3" fill="#c0c0c0"/>
<rect x="28" y="660" width="1" height="2" fill="#c0c0c0"/>
<rect x="32" y="661" width="1" height="1" fill="#c0c0c0"/>
<rect x="36" y="661" width="1" height="1" fill="#c0c0c0"/>
<rect x="40" y="661" width="1" height="2" fill="#c0c0c0"/>
<rect x="44" y="661" width="1" height="3" fill="#c0c0c0"/>
<rect x="48" y="661" width="1" height="3" fill="#c0c0c0"/>
<rect x="52" y="661" width="1" height="4" fill="#c0c0c0"/>
<rect x="56" y="661" width="1" height="4" fill="#c0c0c0"/>
<rect x="60" y="661" width="1" height="5" fill="#c0c0c0"/>
<rect x="64" y="661" width="1" height="6" fill="#c0c0c0"/>
<rect x="68" y="661" width="1" height="6" fill="#c0c0c0"/>
<rect x="72" y="661" width="1" height="5" fill="#c0c0c0"/>
<rect x="76" y="661" width="1" height="5" fill="#c0c0c0"/>
<rect x="80" y="661" width="1" height="5" fill="#c0c0c0"/>
<rect x="84" y="661" width="1" height="5" fill="#c0c0c0"/>
<rect x="88" y="661" width="1" height="5" fill="#c0c0c0"/>
<rect x="92" y="661" width="1" height="4" fill="#c0c0c0"/>
<rect x="96" y="661" width="1" height="3" fill="#c0c0c0"/>
<rect x="100" y="661" width="1" height="2" fill="#c0c0c0"/>
<rect x="104" y="661" width="1" height="2" fill="#c0c0c0"/>
<rect x="108" y="661" width="1" height="2" fill="#c0c0c0"/>
<rect x="112" y="661" width="1" height="2" fill="#c0c0c0"/>
<rect x="116" y="661" width="1" height="1" fill="#c0c0c0"/>
<rect x="120" y="660" width="1" height="2" fill="#c0c0c0"/>
<rect x="124" y="659" width="1" height="3" fill="#c0c0c0"/>
<rect x="128" y="658" width="1" height="4" fill="#c0c0c0"/>
<rect x="132" y="657" width="1" height="5" fill="#c0c0c0"/>
<rect x="136" y="656" width="1" height="6" fill="#c0c0c0"/>
<rect x="140" y="657" width="1" height="5" fill="#c0c0c0"/>
<rect x="144" y="657" width="1" height="5" fill="#c0c0c0"/>
<rect x="148" y="657" width="1" height="5" fill="#c0c0c0"/>
<rect x="152" y="657" width="1" height="5" fill="#c0c0c0"/>
<rect x="156" y="657" width="1" height="5" fill="#c0c0c0"/>
<rect x="160" y="656" width="1" height="6" fill="#c0c0c0"/>
<rect x="164" y="656" width="1" height="6" fill="#c0c0c0"/>
<rect x="168" y="655" width="1" height="7" fill="#c0c0c0"/>
<rect x="172" y="655" width="1" height="7" fill="#c0c0c0"/>
<rect x="176" y="654" width="1" height="8" fill="#c0c0c0"/>
<rect x="180" y="654" width="1" height="8" fill="#c0c0c0"/>
<rect x="184" y="655" width="1" height="7" fill="#c0c0c0"/>
<rect x="188" y="655" width="1" height="7" fill="#c0c0c0"/>
<rect x="192" y="656" width="1" height="6" fill="#c0c0c0"/>
<rect x="196" y="656" width="1" height="6" fill="#c0c0c0"/>
<rect x="200" y="657" width="1" height="5" fill="#c0c0c0"/>
<rect x="204" y="658" width="1" height="4" fill="#c0c0c0"/>
<rect x="208" y="659" width="1" height="3" fill="#c0c0c0"/>
<rect x="212" y="660" width="1" height="2" fill="#c0c0c0"/>
<rect x="216" y="661" width="1" height="1" fill="#c0c0c0"/>
<rect x="220" y="661" width="1" height="1" fill="#c0c0c0"/>
<rect x="224" y="661" width="1" height="2" fill="#c0c0c0"/>
<rect x="228" y="661" width="1" height="2" fill="#c0c0c0"/>
<rect x="232" y="661" width="1" height="2" fill="#c0c0c0"/>
<rect x="236" y="661" width="1" height="3" fill="#c0c0c0"/>
<rect x="240" y="661" width="1" height="3" fill="#c0c0c0"/>
<rect x="244" y="661" width="1" height="4" fill="#c0c0c0"/>
<rect x="248" y="661" width="1" height="4" fill="#c0c0c0"/>
<rect x="252" y="661" width="1" height="5" fill="#c0c0c0"/>
<rect x="256" y="661" width="1" height="5" fill="#c0c0c0"/>
<rect x="260" y="661" width="1" height="5" fill="#c0c0c0"/>
<rect x="264" y="661" width="1" height="5" fill="#c0c0c0"/>
<rect x="268" y="661" width="1" height="5" fill="#c0c0c0"/>
<rect x="272" y="661" width="1" height="4" fill="#c0c0c0"/>
<rect x="276" y="661" width="1" height="3" fill="#c0c0c0"/>
<rect x="280" y="661" width="1" height="2" fill="#c0c0c0"/>
<rect x="284" y="661" width="1" height="2" fill="#c0c0c0"/>
<rect x="288" y="661" width="1" height="1" fill="#c0c0c0"/>
<rect x="292" y="661" width="1" height="1" fill="#c0c0c0"/>
<rect x="296" y="661" width="1" height="1" fill="#c0c0c0"/>
<rect x="300" y="661" width="1" height="1" fill="#c0c0c0"/>
<rect x="304" y="660" width="1" height="2" fill="#c0c0c0"/>
<rect x="308" y="659" width="1" height="3" fill="#c0c0c0"/>
<rect x="312" y="658" width="1" height="4" fill="#c0c0c0"/>
<rect x="316" y="658" width="1" height="4" fill="#c0c0c0"/>
<rect x="320" y="657" width="1" height="5" fill="#c0c0c0"/>
<rect x="324" y="658" width="1" height="4" fill="#c0c0c0"/>
<rect x="328" y="658" width="1" height="4" fill="#c0c0c0"/>
<rect x="332" y="658" width="1" height="4" fill="#c0c0c0"/>
<rect x="336" y="657" width="1" height="5" fill="#c0c0c0"/>
<rect x="340" y="657" width="1" height="5" fill="#c0c0c0"/>
<rect x="344" y="656" width="1" height="6" fill="#c0c0c0"/>
<rect x="348" y="656" width="1" height="6" fill="#c0c0c0"/>
<rect x="352" y="655" width="1" height="7" fill="#c0c0c0"/>
<rect x="356" y="655" width="1" height="7" fill="#c0c0c0"/>
<rect x="360" y="654" width="1" height="8" fill="#c0c0c0"/>
<rect x="364" y="653" width="1" height="9" fill="#c0c0c0"/>
<rect x="368" y="653" width="1" height="9" fill="#c0c0c0"/>
<rect x="372" y="652" width="1" height="10" fill="#c0c0c0"/>
<rect x="376" y="651" width="1" height="11" fill="#c0c0c0"/>
<rect x="380" y="651" width="1" height="11" fill="#c0c0c0"/>
<rect x="384" y="652" width="1" height="10" fill="#c0c0c0"/>
<rect x="388" y="653" width="1" height="9" fill="#c0c0c0"/>
<rect x="392" y="654" width="1" height="8" fill="#c0c0c0"/>
<rect x="396" y="656" width="1" height="6" fill="#c0c0c0"/>
<rect x="400" y="658" width="1" height="4" fill="#c0c0c0"/>
<rect x="404" y="659" width="1" height="3" fill="#c0c0c0"/>
<rect x="408" y="660" width="1" height="2" fill="#c0c0c0"/>
<rect x="412" y="660" width="1" height="2" fill="#c0c0c0"/>
<rect x="416" y="660" width="1" height="2" fill="#c0c0c0"/>
<rect x="420" y="661" width="1" height="1" fill="#c0c0c0"/>
<rect x="424" y="661" width="1" height="1" fill="#c0c0c0"/>
<rect x="428" y="661" width="1" height="1" fill="#c0c0c0"/>
<rect x="432" y="661" width="1" height="1" fill="#c0c0c0"/>
<rect x="436" y="661" width="1" height="2" fill="#c0c0c0"/>
<rect x="440" y="661" width="1" height="2" fill="#c0c0c0"/>
<rect x="444" y="661" width="1" height="3" fill="#c0c0c0"/>
<rect x="448" y="661" width="1" height="4" fill="#c0c0c0"/>
<rect x="452" y="661" width="1" height="4" fill="#c0c0c0"/>
<rect x="456" y="661" width="1" height="5" fill="#c0c0c0"/>
<rect x="460" y="661" width="1" height="5" fill="#c0c0c0"/>
<rect x="464" y="661" width="1" height="7" fill="#c0c0c0"/>
<rect x="468" y="661" width="1" height="8" fill="#c0c0c0"/>
<rect x="472" y="661" width="1" height="9" fill="#c0c0c0"/>
<rect x="476" y="661" width="1" height="10" fill="#c0c0c0"/>
<rect x="480" y="661" width="1" height="11" fill="#c0c0c0"/>
<rect x="484" y="661" width="1" height="12" fill="#c0c0c0"/>
<rect x="488" y="661" width="1" height="13" fill="#c0c0c0"/>
<rect x="492" y="661" width="1" height="12" fill="#c0c0c0"/>
<rect x="496" y="661" width="1" height="12" fill="#c0c0c0"/>
<rect x="500" y="661" width="1" height="11" fill="#c0c0c0"/>
<rect x="504" y="661" width="1" height="12" fill="#c0c0c0"/>
<rect x="508" y="661" width="1" height="12" fill="#c0c0c0"/>
<rect x="512" y="661" width="1" height="12" fill="#c0c0c0"/>
<rect x="516" y="661" width="1" height="11" fill="#c0c0c0"/>
<rect x="520" y="661" width="1" height="10" fill="#c0c0c0"/>
<rect x="524" y="661" width="1" height="9" fill="#c0c0c0"/>
<rect x="528" y="661" width="1" height="9" fill="#c0c0c0"/>
<rect x="532" y="661" width="1" height="8" fill="#c0c0c0"/>
<rect x="536" y="661" width="1" height="8" fill="#c0c0c0"/>
<rect x="540" y="661" width="1" height="8" fill="#c0c0c0"/>
<rect x="544" y="661" width="1" height="8" fill="#c0c0c0"/>
<rect x="548" y="661" width="1" height="9" fill="#c0c0c0"/>
<rect x="552" y="661" width="1" height="10" fill="#c0c0c0"/>
<rect x="556" y="661" width="1" height="10" fill="#c0c0c0"/>
<rect x="560" y="661" width="1" height="10" fill="#c0c0c0"/>
<rect x="564" y="661" width="1" height="11" fill="#c0c0c0"/>
<rect x="568" y="661" width="1" height="12" fill="#c0c0c0"/>
<rect x="572" y="661" width="1" height="12" fill="#c0c0c0"/>
<rect x="576" y="661" width="1" height="15" fill="#c0c0c0"/>
<rect x="580" y="661" width="1" height="15" fill="#c0c0c0"/>
<rect x="584" y="661" width="1" height="15" fill="#c0c0c0"/>
<rect x="588" y="661" width="1" height="14" fill="#c0c0c0"/>
<rect x="592" y="661" width="1" height="12" fill="#c0c0c0"/>
<rect x="596" y="661" width="1" height="11" fill="#c0c0c0"/>
<rect x="600" y="661" width="1" height="10" fill="#c0c0c0"/>
<rect x="604" y="661" width="1" height="8" fill="#c0c0c0"/>
<rect x="608" y="661" width="1" height="7" fill="#c0c0c0"/>
<rect x="612" y="661" width="1" height="9" fill="#c0c0c0"/>
<rect x="616" y="661" width="1" height="10" fill="#c0c0c0"/>
<rect x="620" y="661" width="1" height="14" fill="#c0c0c0"/>
<rect x="624" y="661" width="1" height="20" fill="#c0c0c0"/>
<rect x="628" y="661" width="1" height="24" fill="#c0c0c0"/>
<rect x="632" y="661" width="1" height="28" fill="#c0c0c0"/>
<rect x="636" y="661" width="1" height="33" fill="#c0c0c0"/>
<rect x="640" y="661" width="1" height="39" fill="#c0c0c0"/>
<rect x="644" y="661" width="1" height="43" fill="#c0c0c0"/>
<rect x="648" y="661" width="1" height="46" fill="#c0c0c0"/>
<rect x="652" y="661" width="1" height="48" fill="#c0c0c0"/>
<rect x="656" y="661" width="1" height="50" fill="#c0c0c0"/>
<rect x="660" y="661" width="1" height="48" fill="#c0c0c0"/>
<rect x="664" y="661" width="1" height="46" fill="#c0c0c0"/>
<rect x="668" y="661" width="1" height="42" fill="#c0c0c0"/>
<rect x="672" y="661" width="1" height="37" fill="#c0c0c0"/>
<rect x="676" y="661" width="1" height="31" fill="#c0c0c0"/>
<rect x="680" y="661" width="1" height="28" fill="#c0c0c0"/>
<rect x="684" y="661" width="1" height="24" fill="#c0c0c0"/>
<rect x="688" y="661" width="1" height="22" fill="#c0c0c0"/>
<rect x="692" y="661" width="1" height="21" fill="#c0c0c0"/>
<rect x="696" y="661" width="1" height="21" fill="#c0c0c0"/>
<rect x="700" y="661" width="1" height="21" fill="#c0c0c0"/>
<rect x="704" y="661" width="1" height="19" fill="#c0c0c0"/>
<rect x="708" y="661" width="1" height="15" fill="#c0c0c0"/>
<rect x="712" y="661" width="1" height="12" fill="#c0c0c0"/>
<rect x="716" y="661" width="1" height="7" fill="#c0c0c0"/>
<rect x="720" y="661" width="1" height="3" fill="#c0c0c0"/>
<rect x="724" y="660" width="1" height="2" fill="#c0c0c0"/>
<rect x="728" y="657" width="1" height="5" fill="#c0c0c0"/>
<rect x="732" y="654" width="1" height="8" fill="#c0c0c0"/>
<rect x="736" y="653" width="1" height="9" fill="#c0c0c0"/>
<rect x="740" y="653" width="1" height="9" fill="#c0c0c0"/>
<rect x="744" y="652" width="1" height="10" fill="#c0c0c0"/>
<rect x="748" y="651" width="1" height="11" fill="#c0c0c0"/>
<rect x="752" y="650" width="1" height="12" fill="#c0c0c0"/>
<rect x="756" y="652" width="1" height="10" fill="#c0c0c0"/>
<rect x="760" y="652" width="1" height="10" fill="#c0c0c0"/>
<rect x="764" y="651" width="1" height="11" fill="#c0c0c0"/>
<rect x="768" y="651" width="1" height="11" fill="#c0c0c0"/>
<rect x="772" y="651" width="1" height="11" fill="#c0c0c0"/>
<rect x="776" y="649" width="1" height="13" fill="#c0c0c0"/>
<rect x="780" y="648" width="1" height="14" fill="#c0c0c0"/>
<rect x="784" y="646" width="1" height="16" fill="#c0c0c0"/>
<rect x="788" y="645" width="1" height="17" fill="#c0c0c0"/>
<rect x="792" y="646" width="1" height="16" fill="#c0c0c0"/>
<rect x="796" y="647" width="1" height="15" fill="#c0c0c0"/>
<rect x="800" y="648" width="1" height="14" fill="#c0c0c0"/>
<rect x="804" y="649" width="1" height="13" fill="#c0c0c0"/>
<rect x="808" y="650" width="1" height="12" fill="#c0c0c0"/>
<rect x="812" y="649" width="1" height="13" fill="#c0c0c0"/>
<rect x="816" y="648" width="1" height="14" fill="#c0c0c0"/>
<rect x="820" y="648" width="1" height="14" fill="#c0c0c0"/>
<rect x="824" y="649" width="1" height="13" fill="#c0c0c0"/>
<rect x="828" y="649" width="1" height="13" fill="#c0c0c0"/>
<rect x="832" y="650" width="1" height="12" fill="#c0c0c0"/>
<rect x="836" y="652" width="1" height="10" fill="#c0c0c0"/>
<rect x="840" y="653" width="1" height="9" fill="#c0c0c0"/>
<rect x="844" y="654" width="1" height="8" fill="#c0c0c0"/>
<rect x="848" y="654" width="1" height="8" fill="#c0c0c0"/>
<rect x="852" y="652" width="1" height="10" fill="#c0c0c0"/>
<rect x="856" y="651" width="1" height="11" fill="#c0c0c0"/>
<rect x="860" y="651" width="1" height="11" fill="#c0c0c0"/>
<rect x="864" y="651" width="1" height="11" fill="#c0c0c0"/>
<rect x="868" y="651" width="1" height="11" fill="#c0c0c0"/>
<rect x="872" y="652" width="1" height="10" fill="#c0c0c0"/>
<rect x="876" y="650" width="1" height="12" fill="#c0c0c0"/>
<rect x="880" y="650" width="1" height="12" fill="#c0c0c0"/>
<rect x="884" y="649" width="1" height="13" fill="#c0c0c0"/>
<rect x="888" y="648" width="1" height="14" fill="#c0c0c0"/>
<rect x="892" y="648" width="1" height="14" fill="#c0c0c0"/>
<rect x="896" y="645" width="1" height="17" fill="#c0c0c0"/>
<rect x="900" y="642" width="1" height="20" fill="#c0c0c0"/>
<rect x="904" y="638" width="1" height="24" fill="#c0c0c0"/>
<rect x="908" y="636" width="1" height="26" fill="#c0c0c0"/>
<rect x="912" y="633" width="1" height="29" fill="#c0c0c0"/>
<rect x="916" y="632" width="1" height="30" fill="#c0c0c0"/>
<rect x="920" y="631" width="1" height="31" fill="#c0c0c0"/>
<rect x="924" y="631" width="1" height="31" fill="#c0c0c0"/>
<rect x="928" y="631" width="1" height="31" fill="#c0c0c0"/>
<rect x="932" y="633" width="1" height="29" fill="#c0c0c0"/>
<rect x="936" y="635" width="1" height="27" fill="#c0c0c0"/>
<rect x="940" y="638" width="1" height="24" fill="#c0c0c0"/>
<rect x="944" y="640" width="1" height="22" fill="#c0c0c0"/>
<rect x="948" y="641" width="1" height="21" fill="#c0c0c0"/>
<rect x="952" y="642" width="1" height="20" fill="#c0c0c0"/>
<rect x="956" y="644" width="1" height="18" fill="#c0c0c0"/>
<rect x="960" y="645" width="1" height="17" fill="#c0c0c0"/>
<rect x="964" y="647" width="1" height="15" fill="#c0c0c0"/>
<rect x="968" y="647" width="1" height="15" fill="#c0c0c0"/>
<rect x="972" y="647" width="1" height="15" fill="#c0c0c0"/>
<rect x="976" y="648" width="1" height="14" fill="#c0c0c0"/>
<rect x="980" y="649" width="1" height="13" fill="#c0c0c0"/>
<rect x="984" y="650" width="1" height="12" fill="#c0c0c0"/>
<rect x="988" y="651" width="1" height="11" fill="#c0c0c0"/>
<rect x="992" y="653" width="1" height="9" fill="#c0c0c0"/>
<rect x="996" y="653" width="1" height="9" fill="#c0c0c0"/>
<rect x="1000" y="653" width="1" height="9" fill="#c0c0c0"/>
<rect x="1004" y="653" width="1" height="9" fill="#c0c0c0"/>
<rect x="1008" y="652" width="1" height="10" fill="#c0c0c0"/>
<rect x="1012" y="652" width="1" height="10" fill="#c0c0c0"/>
<rect x="1016" y="652" width="1" height="10" fill="#c0c0c0"/>
<rect x="1020" y="651" width="1" height="11" fill="#c0c0c0"/>
<rect x="1024" y="651" width="1" height="11" fill="#c0c0c0"/>
<rect x="1028" y="652" width="1" height="10" fill="#c0c0c0"/>
<rect x="1032" y="652" width="1" height="10" fill="#c0c0c0"/>
<rect x="1036" y="652" width="1" height="10" fill="#c0c0c0"/>
<rect x="1040" y="652" width="1" height="10" fill="#c0c0c0"/>
<rect x="1044" y="652" width="1" height="10" fill="#c0c0c0"/>
<rect x="1048" y="652" width="1" height="10" fill="#c0c0c0"/>
<rect x="1052" y="652" width="1" height="10" fill="#c0c0c0"/>
<rect x="1056" y="652" width="1" height="10" fill="#c0c0c0"/>
<rect x="1060" y="652" width="1" height="10" fill="#c0c0c0"/>
<rect x="1064" y="652" width="1" height="10" fill="#c0c0c0"/>
<rect x="1068" y="651" width="1" height="11" fill="#c0c0c0"/>
<rect x="1072" y="649" width="1" height="13" fill="#c0c0c0"/>
<rect x="1076" y="648" width="1" height="14" fill="#c0c0c0"/>
<rect x="1080" y="648" width="1" height="14" fill="#c0c0c0"/>
<rect x="1084" y="648" width="1" height="14" fill="#c0c0c0"/>
<rect x="1088" y="647" width="1" height="15" fill="#c0c0c0"/>
<rect x="1092" y="647" width="1" height="15" fill="#c0c0c0"/>
<rect x="1096" y="646" width="1" height="16" fill="#c0c0c0"/>
<rect x="1100" y="647" width="1" height="15" fill="#c0c0c0"/>
<rect x="1104" y="647" width="1" height="15" fill="#c0c0c0"/>
<rect x="1108" y="647" width="1" height="15" fill="#c0c0c0"/>
<rect x="1112" y="648" width="1" height="14" fill="#c0c0c0"/>
<rect x="1116" y="649" width="1" height="13" fill="#c0c0c0"/>
<rect x="1120" y="648" width="1" height="14" fill="#c0c0c0"/>
<rect x="1124" y="647" width="1" height="15" fill="#c0c0c0"/>
<rect x="1128" y="648" width="1" height="14" fill="#c0c0c0"/>
<rect x="1132" y="649" width="1" height="13" fill="#c0c0c0"/>
<rect x="1136" y="650" width="1" height="12" fill="#c0c0c0"/>
<rect x="1140" y="651" width="1" height="11" fill="#c0c0c0"/>
<rect x="1144" y="651" width="1" height="11" fill="#c0c0c0"/>
<rect x="1148" y="652" width="1" height="10" fill="#c0c0c0"/>
<rect x="1152" y="652" width="1" height="10" fill="#c0c0c0"/>
<rect x="1156" y="653" width="1" height="9" fill="#c0c0c0"/>
<rect x="1160" y="652" width="1" height="10" fill="#c0c0c0"/>
<rect x="1164" y="652" width="1" height="10" fill="#c0c0c0"/>
<rect x="1168" y="651" width="1" height="11" fill="#c0c0c0"/>
<rect x="1172" y="652" width="1" height="10" fill="#c0c0c0"/>
<rect x="1176" y="654" width="1" height="8" fill="#c0c0c0"/>
<rect x="1180" y="654" width="1" height="8" fill="#c0c0c0"/>
<rect x="1184" y="655" width="1" height="7" fill="#c0c0c0"/>
<rect x="1188" y="655" width="1" height="7" fill="#c0c0c0"/>
<rect x="1192" y="655" width="1" height="7" fill="#c0c0c0"/>
<rect x="1196" y="654" width="1" height="8" fill="#c0c0c0"/>
<rect x="1200" y="652" width="1" height="10" fill="#c0c0c0"/>
<rect x="1204" y="650" width="1" height="12" fill="#c0c0c0"/>
<rect x="1208" y="649" width="1" height="13" fill="#c0c0c0"/>
<rect x="1212" y="647" width="1" height="15" fill="#c0c0c0"/>
<rect x="1216" y="648" width="1" height="14" fill="#c0c0c0"/>
<rect x="1220" y="649" width="1" height="13" fill="#c0c0c0"/>
<rect x="1224" y="650" width="1" height="12" fill="#c0c0c0"/>
<rect x="1228" y="651" width="1" height="11" fill="#c0c0c0"/>
<rect x="1232" y="651" width="1" height="11" fill="#c0c0c0"/>
<rect x="1236" y="653" width="1" height="9" fill="#c0c0c0"/>
<rect x="1240" y="654" width="1" height="8" fill="#c0c0c0"/>
<rect x="1244" y="654" width="1" height="8" fill="#c0c0c0"/>
<rect x="1248" y="655" width="1" height="7" fill="#c0c0c0"/>
<rect x="1252" y="655" width="1" height="7" fill="#c0c0c0"/>
<rect x="1256" y="655" width="1" height="7" fill="#c0c0c0"/>
<rect x="1260" y="655" width="1" height="7" fill="#c0c0c0"/>
<rect x="1264" y="655" width="1" height="7" fill="#c0c0c0"/>
<rect x="1268" y="655" width="1" height="7" fill="#c0c0c0"/>
</g>
<path d="M4 659h2v1h-2zM40 659h2v1h-2zM138 659h1v1h-1zM222 659h1v1h-1zM322 659h3v1h-3zM328 659h3v1h-3zM424 659h2v1h-2zM743 659h1v1h-1zM6 658h1v1h-1zM10 658h3v1h-3zM16 658h3v1h-3zM22 658h3v1h-3zM28 658h3v1h-3zM34 658h3v1h-3zM142 658h3v1h-3zM148 658h3v1h-3zM220 658h2v1h-2zM334 658h3v1h-3zM340 658h2v1h-2zM418 658h3v1h-3zM42 660h1v1h-1zM130 660h3v1h-3zM136 660h2v1h-2zM226 660h3v1h-3zM232 660h2v1h-2zM316 660h3v1h-3zM426 660h1v1h-1zM430 660h3v1h-3zM741 660h2v1h-2zM46 661h3v1h-3zM52 661h2v1h-2zM126 661h1v1h-1zM234 661h1v1h-1zM306 661h1v1h-1zM310 661h3v1h-3zM436 661h3v1h-3zM442 661h3v1h-3zM54 662h1v1h-1zM118 662h3v1h-3zM124 662h2v1h-2zM238 662h3v1h-3zM244 662h2v1h-2zM298 662h3v1h-3zM304 662h2v1h-2zM448 662h3v1h-3zM58 663h3v1h-3zM64 663h2v1h-2zM112 663h3v1h-3zM246 663h1v1h-1zM250 663h3v1h-3zM256 663h2v1h-2zM292 663h3v1h-3zM454 663h3v1h-3zM460 663h2v1h-2zM737 663h1v1h-1zM66 664h1v1h-1zM70 664h3v1h-3zM76 664h2v1h-2zM100 664h3v1h-3zM106 664h3v1h-3zM258 664h1v1h-1zM262 664h3v1h-3zM268 664h3v1h-3zM274 664h3v1h-3zM280 664h3v1h-3zM286 664h3v1h-3zM462 664h1v1h-1zM466 664h3v1h-3zM736 664h1v1h-1zM78 665h1v1h-1zM82 665h3v1h-3zM88 665h3v1h-3zM94 665h3v1h-3zM472 665h2v1h-2zM735 665h1v1h-1zM154 657h3v1h-3zM160 657h3v1h-3zM166 657h3v1h-3zM210 657h1v1h-1zM214 657h3v1h-3zM342 657h1v1h-1zM346 657h3v1h-3zM352 657h3v1h-3zM414 657h1v1h-1zM747 657h2v1h-2zM172 656h3v1h-3zM178 656h3v1h-3zM184 656h2v1h-2zM202 656h3v1h-3zM208 656h2v1h-2zM358 656h3v1h-3zM364 656h2v1h-2zM412 656h2v1h-2zM749 656h1v1h-1zM186 655h1v1h-1zM190 655h3v1h-3zM196 655h3v1h-3zM366 655h1v1h-1zM370 655h3v1h-3zM406 655h3v1h-3zM376 654h2v1h-2zM402 654h1v1h-1zM753 654h2v1h-2zM1197 654h3v1h-3zM1203 654h3v1h-3zM1258 654h2v1h-2zM1263 654h3v1h-3zM378 653h1v1h-1zM382 653h3v1h-3zM388 653h2v1h-2zM394 653h3v1h-3zM400 653h2v1h-2zM755 653h1v1h-1zM759 653h3v1h-3zM1179 653h3v1h-3zM1185 653h3v1h-3zM1191 653h3v1h-3zM1209 653h1v1h-1zM1257 653h1v1h-1zM390 652h1v1h-1zM765 652h3v1h-3zM855 652h3v1h-3zM861 652h3v1h-3zM867 652h3v1h-3zM873 652h3v1h-3zM1011 652h3v1h-3zM1017 652h3v1h-3zM1023 652h3v1h-3zM1029 652h3v1h-3zM1035 652h3v1h-3zM1041 652h3v1h-3zM1047 652h3v1h-3zM1053 652h3v1h-3zM1059 652h3v1h-3zM1065 652h3v1h-3zM1071 652h3v1h-3zM1167 652h3v1h-3zM1173 652h3v1h-3zM1210 652h2v1h-2zM1215 652h3v1h-3zM1246 652h2v1h-2zM1251 652h3v1h-3zM474 666h1v1h-1zM478 667h3v1h-3zM484 668h2v1h-2zM730 668h2v1h-2zM486 669h1v1h-1zM544 669h3v1h-3zM550 669h3v1h-3zM556 669h3v1h-3zM562 669h3v1h-3zM729 669h1v1h-1zM490 670h3v1h-3zM496 670h2v1h-2zM532 670h3v1h-3zM538 670h3v1h-3zM568 670h3v1h-3zM498 671h1v1h-1zM502 671h3v1h-3zM522 671h1v1h-1zM526 671h3v1h-3zM574 671h3v1h-3zM610 671h3v1h-3zM616 671h3v1h-3zM622 671h3v1h-3zM508 672h3v1h-3zM514 672h3v1h-3zM520 672h2v1h-2zM580 672h3v1h-3zM604 672h3v1h-3zM725 672h1v1h-1zM586 673h3v1h-3zM592 673h3v1h-3zM598 673h3v1h-3zM628 673h2v1h-2zM724 673h1v1h-1zM630 674h1v1h-1zM723 674h1v1h-1zM634 676h2v1h-2zM719 676h1v1h-1zM636 677h1v1h-1zM717 677h2v1h-2zM640 680h1v1h-1zM711 680h2v1h-2zM641 681h1v1h-1zM642 682h1v1h-1zM646 686h1v1h-1zM701 686h1v1h-1zM646 687h1v1h-1zM700 687h1v1h-1zM647 688h1v1h-1zM699 688h1v1h-1zM651 692h1v1h-1zM693 692h1v1h-1zM652 693h1v1h-1zM653 694h1v1h-1zM657 698h1v1h-1zM658 699h2v1h-2zM663 702h2v1h-2zM665 703h1v1h-1zM677 703h1v1h-1zM669 704h3v1h-3zM675 704h2v1h-2zM681 701h1v1h-1zM682 700h2v1h-2zM687 697h2v1h-2zM689 696h1v1h-1zM694 691h2v1h-2zM705 684h1v1h-1zM706 683h2v1h-2zM713 679h1v1h-1zM771 651h3v1h-3zM777 651h3v1h-3zM849 651h3v1h-3zM879 651h3v1h-3zM885 651h1v1h-1zM1005 651h3v1h-3zM1077 651h3v1h-3zM1161 651h3v1h-3zM1221 651h3v1h-3zM1245 651h1v1h-1zM783 650h3v1h-3zM838 650h2v1h-2zM843 650h3v1h-3zM886 650h2v1h-2zM891 650h3v1h-3zM999 650h3v1h-3zM1083 650h3v1h-3zM1089 650h1v1h-1zM1150 650h2v1h-2zM1155 650h3v1h-3zM1227 650h3v1h-3zM1233 650h3v1h-3zM1239 650h3v1h-3zM789 649h3v1h-3zM826 649h2v1h-2zM831 649h3v1h-3zM837 649h1v1h-1zM897 649h1v1h-1zM993 649h3v1h-3zM1090 649h2v1h-2zM1138 649h2v1h-2zM1143 649h3v1h-3zM1149 649h1v1h-1zM795 648h3v1h-3zM801 648h3v1h-3zM807 648h3v1h-3zM813 648h3v1h-3zM819 648h3v1h-3zM825 648h1v1h-1zM898 648h2v1h-2zM987 648h3v1h-3zM1095 648h3v1h-3zM1101 648h1v1h-1zM1126 648h2v1h-2zM1131 648h3v1h-3zM1137 648h1v1h-1zM903 647h2v1h-2zM982 647h2v1h-2zM1102 647h2v1h-2zM1107 647h3v1h-3zM1113 647h3v1h-3zM1119 647h3v1h-3zM1125 647h1v1h-1zM905 646h1v1h-1zM981 646h1v1h-1zM909 644h2v1h-2zM911 643h1v1h-1zM970 643h2v1h-2zM915 641h2v1h-2zM965 641h1v1h-1zM917 640h1v1h-1zM963 640h2v1h-2zM921 638h2v1h-2zM957 638h2v1h-2zM923 637h1v1h-1zM927 635h3v1h-3zM933 634h1v1h-1zM945 634h3v1h-3zM934 633h2v1h-2zM939 633h3v1h-3zM951 636h3v1h-3zM959 639h1v1h-1zM969 642h1v1h-1zM975 645h3v1h-3z" fill="#ff0000"/>
<text x="1600.5" y="540.6" fill="#000" font-size="9.3" text-anchor="start" stroke="#000" stroke-width="0.2">100</text>
<rect x="1597" y="558" width="2" height="1" fill="#000"/>
<text x="1600.5" y="562.1" fill="#000" font-size="9.3" text-anchor="start" stroke="#000" stroke-width="0.2">70</text>
<rect x="1597" y="594" width="2" height="1" fill="#000"/>
<text x="1600.5" y="598.1" fill="#000" font-size="9.3" text-anchor="start" stroke="#000" stroke-width="0.2">30</text>
<text x="1600.5" y="619.1" fill="#000" font-size="9.3" text-anchor="start" stroke="#000" stroke-width="0.2">0</text>
<rect x="1597" y="532" width="2" height="1" fill="#000"/>
<rect x="1597" y="625" width="2" height="1" fill="#000"/>
<rect x="1597" y="661" width="2" height="1" fill="#000"/>
<rect x="1597" y="715" width="1" height="1" fill="#000"/>
<text x="1600.5" y="634.9" fill="#000" font-size="9.3" text-anchor="start" stroke="#000" stroke-width="0.2">0.015741</text>
<text x="1600.5" y="665.1" fill="#000" font-size="9.3" text-anchor="start" stroke="#000" stroke-width="0.2">0.00</text>
<text x="1600.5" y="713.2" fill="#000" font-size="9.3" text-anchor="start" stroke="#000" stroke-width="0.2">-0.024412</text>
<path d="M7,30 h7 l-3.5,4 z" fill="#000"/>
<text x="19.0" y="34.8" fill="#000" font-size="9.3" text-anchor="start" textLength="66.60" lengthAdjust="spacingAndGlyphs" stroke="#000" stroke-width="0.2">AUDUSD,Daily</text>
<text x="90.5" y="34.8" fill="#000" font-size="9.3" text-anchor="start" stroke="#000" stroke-width="0.2">0.73339 0.73357 0.72776 0.72887</text>
<text x="7.5" y="542.8" fill="#000" font-size="9.3" text-anchor="start" stroke="#000" stroke-width="0.2">RSI(14) 54.0713</text>
<text x="7.5" y="636.5" fill="#000" font-size="9.3" text-anchor="start" textLength="148.50" lengthAdjust="spacingAndGlyphs" stroke="#000" stroke-width="0.2">MACD(12,26,9) 0.002594 0.002905</text>
<rect x="4" y="717" width="1" height="3" fill="#000"/>
<text x="3.5" y="729" fill="#000" font-size="9.3" text-anchor="start" stroke="#000" stroke-width="0.2">14 Sep 2019</text>
<rect x="68" y="717" width="1" height="3" fill="#000"/>
<text x="67.5" y="729" fill="#000" font-size="9.3" text-anchor="start" stroke="#000" stroke-width="0.2">3 Oct 2019</text>
<rect x="132" y="717" width="1" height="3" fill="#000"/>
<text x="131.5" y="729" fill="#000" font-size="9.3" text-anchor="start" stroke="#000" stroke-width="0.2">22 Oct 2019</text>
<rect x="196" y="717" width="1" height="3" fill="#000"/>
<text x="195.5" y="729" fill="#000" font-size="9.3" text-anchor="start" stroke="#000" stroke-width="0.2">9 Nov 2019</text>
<rect x="260" y="717" width="1" height="3" fill="#000"/>
<text x="259.5" y="729" fill="#000" font-size="9.3" text-anchor="start" stroke="#000" stroke-width="0.2">28 Nov 2019</text>
<rect x="324" y="717" width="1" height="3" fill="#000"/>
<text x="323.5" y="729" fill="#000" font-size="9.3" text-anchor="start" stroke="#000" stroke-width="0.2">17 Dec 2019</text>
<rect x="388" y="717" width="1" height="3" fill="#000"/>
<text x="387.5" y="729" fill="#000" font-size="9.3" text-anchor="start" stroke="#000" stroke-width="0.2">4 Jan 2020</text>
<rect x="452" y="717" width="1" height="3" fill="#000"/>
<text x="451.5" y="729" fill="#000" font-size="9.3" text-anchor="start" stroke="#000" stroke-width="0.2">23 Jan 2020</text>
<rect x="516" y="717" width="1" height="3" fill="#000"/>
<text x="515.5" y="729" fill="#000" font-size="9.3" text-anchor="start" stroke="#000" stroke-width="0.2">11 Feb 2020</text>
<rect x="580" y="717" width="1" height="3" fill="#000"/>
<text x="579.5" y="729" fill="#000" font-size="9.3" text-anchor="start" stroke="#000" stroke-width="0.2">29 Feb 2020</text>
<rect x="644" y="717" width="1" height="3" fill="#000"/>
<text x="643.5" y="729" fill="#000" font-size="9.3" text-anchor="start" stroke="#000" stroke-width="0.2">19 Mar 2020</text>
<rect x="708" y="717" width="1" height="3" fill="#000"/>
<text x="707.5" y="729" fill="#000" font-size="9.3" text-anchor="start" stroke="#000" stroke-width="0.2">7 Apr 2020</text>
<rect x="772" y="717" width="1" height="3" fill="#000"/>
<text x="771.5" y="729" fill="#000" font-size="9.3" text-anchor="start" stroke="#000" stroke-width="0.2">25 Apr 2020</text>
<rect x="836" y="717" width="1" height="3" fill="#000"/>
<text x="835.5" y="729" fill="#000" font-size="9.3" text-anchor="start" stroke="#000" stroke-width="0.2">14 May 2020</text>
<rect x="900" y="717" width="1" height="3" fill="#000"/>
<text x="899.5" y="729" fill="#000" font-size="9.3" text-anchor="start" stroke="#000" stroke-width="0.2">2 Jun 2020</text>
<rect x="964" y="717" width="1" height="3" fill="#000"/>
<text x="963.5" y="729" fill="#000" font-size="9.3" text-anchor="start" stroke="#000" stroke-width="0.2">20 Jun 2020</text>
<rect x="1028" y="717" width="1" height="3" fill="#000"/>
<text x="1027.5" y="729" fill="#000" font-size="9.3" text-anchor="start" stroke="#000" stroke-width="0.2">9 Jul 2020</text>
<rect x="1092" y="717" width="1" height="3" fill="#000"/>
<text x="1091.5" y="729" fill="#000" font-size="9.3" text-anchor="start" stroke="#000" stroke-width="0.2">28 Jul 2020</text>
<rect x="1156" y="717" width="1" height="3" fill="#000"/>
<text x="1155.5" y="729" fill="#000" font-size="9.3" text-anchor="start" stroke="#000" stroke-width="0.2">15 Aug 2020</text>
<rect x="1220" y="717" width="1" height="3" fill="#000"/>
<text x="1219.5" y="729" fill="#000" font-size="9.3" text-anchor="start" stroke="#000" stroke-width="0.2">3 Sep 2020</text>
<g fill="#4d4d4d" stroke="#ffffff" stroke-width="0.6" paint-order="stroke"><path d="M0.2,1.3 L2.9,4 L0.2,6.7 L-2.5,4 z"/><path d="M4.1,4.7 L5.3,5.9 L0.8,10.9 L-0.4,9.7 z"/><path d="M6.5,9 L10,10.7 L6.5,14.2 L3,10.7 z"/></g>
<path d="M17,6 h5 l-2.5,3 z" fill="#000" stroke="#fff" stroke-width="0.6" paint-order="stroke"/>
<rect x="28" y="0" width="1" height="19" fill="#a0a0a0"/>
<rect x="29" y="0" width="1" height="19" fill="#ffffff"/>
<rect x="32" y="1" width="3" height="1" fill="#a0a0a0"/>
<rect x="32" y="3" width="3" height="1" fill="#a0a0a0"/>
<rect x="32" y="5" width="3" height="1" fill="#a0a0a0"/>
<rect x="32" y="7" width="3" height="1" fill="#a0a0a0"/>
<rect x="32" y="9" width="3" height="1" fill="#a0a0a0"/>
<rect x="32" y="11" width="3" height="1" fill="#a0a0a0"/>
<rect x="32" y="13" width="3" height="1" fill="#a0a0a0"/>
<rect x="32" y="15" width="3" height="1" fill="#a0a0a0"/>
<defs><pattern id="dith" width="2" height="2" patternUnits="userSpaceOnUse"><rect width="2" height="2" fill="#f0f0f0"/><rect width="1" height="1" fill="#ffffff"/><rect x="1" y="1" width="1" height="1" fill="#ffffff"/></pattern><clipPath id="cmain"><rect x="4" y="24" width="1592" height="504"/></clipPath></defs>
<rect x="207" y="0" width="24" height="17" fill="url(#dith)"/>
<rect x="206" y="0" width="1" height="17" fill="#a0a0a0"/>
<rect x="231" y="0" width="1" height="18" fill="#ffffff"/>
<rect x="206" y="17" width="26" height="1" fill="#ffffff"/>
<rect x="289" y="0" width="1" height="19" fill="#a0a0a0"/>
<rect x="290" y="0" width="1" height="19" fill="#ffffff"/>
<text x="42.9" y="11" fill="#333333" font-size="9.3" text-anchor="start" stroke="#333333" stroke-width="0.2">M1</text>
<text x="70.7" y="11" fill="#333333" font-size="9.3" text-anchor="start" stroke="#333333" stroke-width="0.2">M5</text>
<text x="97.1" y="11" fill="#333333" font-size="9.3" text-anchor="start" stroke="#333333" stroke-width="0.2">M15</text>
<text x="125.1" y="11" fill="#333333" font-size="9.3" text-anchor="start" stroke="#333333" stroke-width="0.2">M30</text>
<text x="155.9" y="11" fill="#333333" font-size="9.3" text-anchor="start" stroke="#333333" stroke-width="0.2">H1</text>
<text x="182.9" y="11" fill="#333333" font-size="9.3" text-anchor="start" stroke="#333333" stroke-width="0.2">H4</text>
<text x="212.2" y="11" fill="#333333" font-size="9.3" text-anchor="start" stroke="#333333" stroke-width="0.2">D1</text>
<text x="240.5" y="11" fill="#333333" font-size="9.3" text-anchor="start" stroke="#333333" stroke-width="0.2">W1</text>
<text x="265.9" y="11" fill="#333333" font-size="9.3" text-anchor="start" textLength="15.50" lengthAdjust="spacingAndGlyphs" stroke="#333333" stroke-width="0.2">MN</text>
<rect x="0" y="737" width="1639" height="1" fill="#e3e3e3"/>
<rect x="0" y="739" width="1639" height="1" fill="#000"/>
<rect x="0" y="740" width="1639" height="19" fill="#f0f0f0"/>
<rect x="0" y="737" width="1" height="22" fill="#696969"/>
<rect x="209" y="738" width="104" height="20" fill="#ffffff"/>
<rect x="209" y="739" width="1" height="19" fill="#000"/>
<rect x="312" y="739" width="1" height="19" fill="#000"/>
<rect x="209" y="757" width="104" height="1" fill="#000"/>
<rect x="209" y="758" width="104" height="1" fill="#b0b0b0"/>
<rect x="313" y="740" width="1" height="18" fill="#f8f8f8"/>
<text x="16.400000000000002" y="753.9" fill="#6d6d6d" font-size="12.5" text-anchor="start" textLength="80.90" lengthAdjust="spacingAndGlyphs" stroke="#6d6d6d" stroke-width="0.15">EURUSD,Daily</text>
<text x="118.1" y="753.9" fill="#6d6d6d" font-size="12.5" text-anchor="start" textLength="80.40" lengthAdjust="spacingAndGlyphs" stroke="#6d6d6d" stroke-width="0.15">USDCHF,Daily</text>
<text x="219.6" y="753.9" fill="#000" font-size="12.5" text-anchor="start" textLength="82.90" lengthAdjust="spacingAndGlyphs" stroke="#000" stroke-width="0.15">AUDUSD,Daily</text>
<text x="323.5" y="753.9" fill="#6d6d6d" font-size="12.5" text-anchor="start" textLength="82.50" lengthAdjust="spacingAndGlyphs" stroke="#6d6d6d" stroke-width="0.15">USDCAD,Daily</text>
<text x="426.40000000000003" y="753.9" fill="#6d6d6d" font-size="12.5" text-anchor="start" textLength="84.10" lengthAdjust="spacingAndGlyphs" stroke="#6d6d6d" stroke-width="0.15">USDCNH,Daily</text>
<text x="532.5" y="753.9" fill="#6d6d6d" font-size="12.5" text-anchor="start" textLength="80.50" lengthAdjust="spacingAndGlyphs" stroke="#6d6d6d" stroke-width="0.15">EURUSD,Daily</text>
<text x="636.1" y="753.9" fill="#6d6d6d" font-size="12.5" text-anchor="start" textLength="69.40" lengthAdjust="spacingAndGlyphs" stroke="#6d6d6d" stroke-width="0.15">GBPUSD,H4</text>
<text x="727.1" y="753.9" fill="#6d6d6d" font-size="12.5" text-anchor="start" textLength="82.40" lengthAdjust="spacingAndGlyphs" stroke="#6d6d6d" stroke-width="0.15">XAUUSD,Daily</text>
<text x="831.5" y="753.9" fill="#6d6d6d" font-size="12.5" text-anchor="start" textLength="50.30" lengthAdjust="spacingAndGlyphs" stroke="#6d6d6d" stroke-width="0.15">HK50,H1</text>
<text x="903.7" y="753.9" fill="#6d6d6d" font-size="12.5" text-anchor="start" textLength="57.10" lengthAdjust="spacingAndGlyphs" stroke="#6d6d6d" stroke-width="0.15">UK100,H1</text>
<text x="983.8000000000001" y="753.9" fill="#6d6d6d" font-size="12.5" text-anchor="start" textLength="57.10" lengthAdjust="spacingAndGlyphs" stroke="#6d6d6d" stroke-width="0.15">UK100,H1</text>
<text x="1063.5" y="753.9" fill="#6d6d6d" font-size="12.5" text-anchor="start" textLength="57.50" lengthAdjust="spacingAndGlyphs" stroke="#6d6d6d" stroke-width="0.15">GER30,H1</text>
<text x="1143.1" y="753.9" fill="#6d6d6d" font-size="12.5" text-anchor="start" textLength="55.00" lengthAdjust="spacingAndGlyphs" stroke="#6d6d6d" stroke-width="0.15">FRA40,H1</text>
<text x="1218.3999999999999" y="753.9" fill="#6d6d6d" font-size="12.5" text-anchor="start" textLength="51.90" lengthAdjust="spacingAndGlyphs" stroke="#6d6d6d" stroke-width="0.15">USOil,H4</text>
<text x="1290.8999999999999" y="753.9" fill="#6d6d6d" font-size="12.5" text-anchor="start" textLength="62.80" lengthAdjust="spacingAndGlyphs" stroke="#6d6d6d" stroke-width="0.15">USDJPY,H1</text>
<text x="1374.3" y="753.9" fill="#6d6d6d" font-size="12.5" text-anchor="start" textLength="60.00" lengthAdjust="spacingAndGlyphs" stroke="#6d6d6d" stroke-width="0.15">DJ30,Daily</text>
<text x="1454.5" y="753.9" fill="#6d6d6d" font-size="12.5" text-anchor="start" textLength="79.40" lengthAdjust="spacingAndGlyphs" stroke="#6d6d6d" stroke-width="0.15">CHINA300,H1</text>
<text x="1554.3" y="753.9" fill="#6d6d6d" font-size="12.5" text-anchor="start" textLength="51.70" lengthAdjust="spacingAndGlyphs" stroke="#6d6d6d" stroke-width="0.15">USOil,H1</text>
<rect x="109" y="742" width="1" height="14" fill="#6d6d6d"/>
<rect x="417" y="742" width="1" height="14" fill="#6d6d6d"/>
<rect x="521" y="742" width="1" height="14" fill="#6d6d6d"/>
<rect x="625" y="742" width="1" height="14" fill="#6d6d6d"/>
<rect x="717" y="742" width="1" height="14" fill="#6d6d6d"/>
<rect x="821" y="742" width="1" height="14" fill="#6d6d6d"/>
<rect x="893" y="742" width="1" height="14" fill="#6d6d6d"/>
<rect x="973" y="742" width="1" height="14" fill="#6d6d6d"/>
<rect x="1053" y="742" width="1" height="14" fill="#6d6d6d"/>
<rect x="1133" y="742" width="1" height="14" fill="#6d6d6d"/>
<rect x="1209" y="742" width="1" height="14" fill="#6d6d6d"/>
<rect x="1281" y="742" width="1" height="14" fill="#6d6d6d"/>
<rect x="1365" y="742" width="1" height="14" fill="#6d6d6d"/>
<rect x="1445" y="742" width="1" height="14" fill="#6d6d6d"/>
<rect x="1545" y="742" width="1" height="14" fill="#6d6d6d"/>
<path d="M1615,744 v8 l-4,-4 z" fill="#a0a0a0"/>
<path d="M1630,744 v8 l4,-4 z" fill="#000"/></svg>
</body></html>
